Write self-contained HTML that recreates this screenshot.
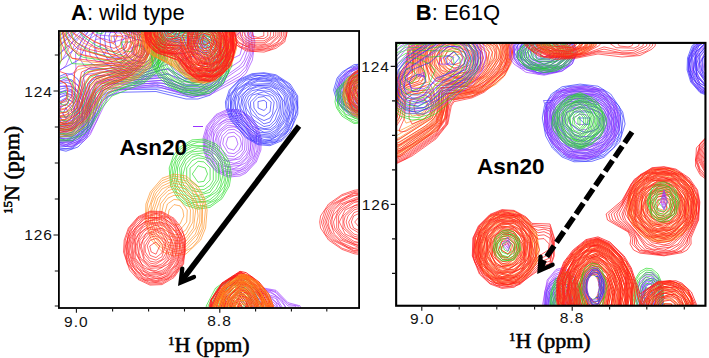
<!DOCTYPE html>
<html><head><meta charset="utf-8"><style>
html,body{margin:0;padding:0;background:#fff;}
body{width:709px;height:358px;overflow:hidden;}
svg{display:block;}
.s{font-family:"Liberation Sans",sans-serif;}
.f{font-family:"Liberation Serif",serif;}
</style></head><body>
<svg width="709" height="358" viewBox="0 0 709 358">
<defs>
<clipPath id="ca"><rect x="59.5" y="31.5" width="298.8" height="276"/></clipPath>
<clipPath id="cb"><rect x="397" y="43.5" width="308" height="261.5"/></clipPath>
</defs>
<g clip-path="url(#ca)" fill="none">
<path stroke="#2a2aff" stroke-width="0.65" d="M30.0 55.2 67.2 24.0 100.2 0.0 M131.7 0.0 153.9 18.0 173.6 30.0 204.0 34.3 217.8 42.0 223.3 48.0 228.5 60.0 228.5 72.0 223.3 84.0 210.0 95.2 198.0 99.0 186.0 99.0 156.0 91.5 120.0 92.3 108.2 96.0 101.4 102.0 86.6 138.0 78.0 147.0 66.0 151.2 54.0 148.5 30.0 127.9 M30.0 60.5 87.5 12.0 105.3 0.0 M127.9 0.0 169.6 30.0 204.0 36.4 216.0 43.1 222.0 49.9 226.5 60.0 226.5 72.0 220.8 84.0 210.0 93.1 192.0 97.5 156.0 89.4 120.0 89.4 108.0 92.1 102.0 96.0 98.2 102.0 93.5 120.0 85.1 138.0 72.0 148.8 60.0 149.3 54.0 147.0 30.0 123.8 M30.0 66.5 96.0 8.5 112.4 0.0 M121.7 0.0 132.0 4.2 148.7 18.0 174.0 34.2 204.0 38.4 216.0 45.8 222.0 54.0 225.0 66.0 218.1 84.0 204.0 93.6 192.0 95.4 162.0 87.9 108.0 88.0 102.0 90.9 96.0 99.0 92.1 120.0 83.6 138.0 72.0 147.6 66.0 148.7 60.0 148.1 48.0 140.8 30.0 119.1 M30.0 73.7 96.1 12.0 114.0 1.7 126.0 3.1 132.0 6.5 174.0 36.6 198.0 38.9 210.0 43.8 219.6 54.0 222.6 66.0 219.6 78.0 215.1 84.0 198.0 93.0 186.0 92.9 162.0 85.6 138.0 86.0 114.0 83.3 102.0 85.7 96.0 91.0 86.5 132.0 78.0 142.5 72.0 146.2 60.0 146.8 54.0 143.7 42.5 132.0 30.0 113.1 M30.0 84.3 38.6 72.0 78.0 37.5 99.8 12.0 114.0 4.1 120.0 3.8 132.0 8.8 174.0 39.1 198.0 41.3 210.0 46.6 216.8 54.0 220.2 66.0 216.8 78.0 211.7 84.0 198.0 90.6 186.0 90.5 162.0 83.1 138.0 83.8 108.0 79.5 96.0 83.4 92.5 90.0 88.0 126.0 78.0 141.0 66.0 146.2 54.0 142.3 44.0 132.0 30.0 103.5 M66.0 144.6 54.0 140.7 45.8 132.0 37.6 114.0 34.6 102.0 34.8 90.0 42.0 77.0 78.0 46.3 97.9 18.0 108.0 9.0 114.0 6.7 126.0 7.8 174.0 41.9 198.0 43.7 207.6 48.0 213.7 54.0 217.6 66.0 216.0 73.4 210.0 82.1 198.0 88.2 186.0 88.1 162.0 80.4 138.0 81.9 108.0 75.2 96.0 75.9 89.2 84.0 89.3 114.0 86.8 126.0 78.0 139.4 66.0 144.6Z M72.0 142.0 60.0 142.4 53.0 138.0 44.0 126.0 38.8 108.0 40.4 90.0 54.0 73.0 78.6 60.0 97.4 24.0 108.0 12.3 114.0 9.3 126.0 10.4 174.0 45.2 198.0 46.4 210.3 54.0 213.7 60.0 213.7 72.0 210.0 78.3 198.0 85.5 186.0 85.4 162.0 77.4 138.0 79.7 102.0 68.7 90.0 67.7 84.5 72.0 83.6 78.0 88.2 102.0 87.5 120.0 82.5 132.0 72.0 142.0Z M204.0 79.6 192.0 83.2 168.0 74.1 138.0 77.4 120.4 72.0 99.3 60.0 95.0 54.0 94.7 42.0 98.1 30.0 108.0 15.8 114.0 12.4 126.0 13.2 174.0 49.1 192.0 48.5 206.0 54.0 211.5 66.0 210.3 72.0 204.0 79.6Z M72.0 140.6 60.0 141.0 54.0 137.1 45.7 126.0 41.8 108.0 42.7 96.0 48.0 85.0 54.0 78.8 66.0 73.6 72.0 74.3 78.0 79.5 85.4 96.0 87.3 108.0 86.2 120.0 81.3 132.0 72.0 140.6Z M198.0 78.8 186.0 78.8 168.0 68.5 144.0 75.3 132.0 73.9 120.0 68.4 108.2 60.0 100.2 48.0 100.3 36.0 105.0 24.0 114.0 15.7 126.0 16.2 155.1 36.0 168.0 50.9 174.0 54.6 192.0 51.9 199.8 54.0 206.2 60.0 207.7 66.0 206.1 72.0 198.0 78.8Z M72.0 138.9 66.0 140.6 54.0 135.4 47.6 126.0 43.8 114.0 43.8 102.0 48.5 90.0 54.0 83.5 66.0 78.6 72.0 80.0 78.0 85.4 83.4 96.0 86.0 108.0 83.0 126.0 78.0 134.2 72.0 138.9Z M144.0 72.8 126.0 68.4 108.9 54.0 105.6 48.0 104.5 36.0 108.0 26.2 114.0 19.7 120.0 18.1 126.0 19.7 151.5 36.0 162.1 48.0 165.9 60.0 156.0 69.1 144.0 72.8Z M198.0 73.9 192.0 75.4 183.0 72.0 178.6 66.0 180.8 60.0 192.0 56.3 200.5 60.0 203.0 66.0 198.0 73.9Z M66.0 139.0 60.0 137.7 52.8 132.0 46.7 120.0 45.2 108.0 51.6 90.0 60.0 83.4 66.0 82.1 72.0 84.2 81.7 96.0 84.4 114.0 81.9 126.0 78.1 132.0 72.0 137.3 66.0 139.0Z M150.0 68.5 144.0 70.0 132.0 68.1 114.5 54.0 110.8 48.0 108.9 36.0 114.0 24.8 120.0 22.1 126.0 23.6 154.4 42.0 160.6 54.0 159.9 60.0 150.0 68.5Z M192.0 67.4 190.1 66.0 192.0 64.5 193.9 66.0 192.0 67.4Z M72.0 135.8 60.0 136.2 54.0 131.2 48.4 120.0 47.2 108.0 50.3 96.0 60.0 86.2 72.0 86.9 78.0 93.0 82.2 102.0 82.5 120.0 78.0 130.0 72.0 135.8Z M144.0 66.9 132.0 64.5 125.6 60.0 116.3 48.0 113.8 36.0 120.0 27.5 144.0 37.5 154.9 48.0 156.6 54.0 155.0 60.0 144.0 66.9Z M72.0 134.0 66.0 135.9 56.9 132.0 52.0 126.0 48.7 114.0 52.8 96.0 60.0 89.2 66.0 87.8 72.0 90.1 77.6 96.0 82.0 108.0 81.4 120.0 72.0 134.0Z M144.0 63.0 132.0 60.1 126.2 54.0 121.6 42.0 126.0 36.2 144.0 41.5 150.9 48.0 152.4 54.0 150.0 59.8 144.0 63.0Z M72.0 132.0 66.0 134.2 60.0 132.4 51.1 120.0 51.8 102.0 60.0 91.8 66.0 90.5 72.0 92.4 78.9 102.0 80.0 120.0 72.0 132.0Z M144.0 57.3 138.0 57.2 133.8 54.0 132.2 48.0 138.0 45.3 144.0 47.2 146.7 54.0 144.0 57.3Z M66.0 132.2 60.0 130.5 55.7 126.0 51.6 114.0 54.0 101.9 60.0 94.5 66.0 92.7 72.0 95.2 77.1 102.0 79.5 114.0 75.6 126.0 66.0 132.2Z M72.0 127.9 66.0 130.4 60.0 128.3 53.3 114.0 56.1 102.0 60.0 97.3 66.0 95.3 72.0 97.9 77.4 108.0 76.9 120.0 72.0 127.9Z M66.0 128.2 60.0 125.7 55.1 114.0 58.5 102.0 66.0 97.8 72.9 102.0 76.3 114.0 72.0 125.2 66.0 128.2Z M72.0 121.9 66.0 125.8 58.4 120.0 57.8 108.0 60.0 103.8 66.0 100.6 73.7 108.0 74.6 114.0 72.0 121.9Z M66.0 122.8 61.6 120.0 59.1 114.0 60.3 108.0 66.0 103.9 71.0 108.0 72.5 114.0 70.0 120.0 66.0 122.8Z M66.0 118.8 62.8 114.0 66.0 107.8 68.9 114.0 66.0 118.8Z"/>
<path stroke="#9933ff" stroke-width="0.65" d="M30.0 49.5 72.0 13.2 84.0 6.9 96.0 4.7 144.0 14.9 174.0 27.7 198.0 26.6 216.0 29.2 222.0 26.8 234.0 11.9 240.0 9.5 246.0 12.5 249.7 18.0 254.9 42.0 252.4 60.0 246.0 73.3 240.0 78.9 210.0 94.8 192.0 97.0 156.0 86.0 120.0 90.3 108.0 97.4 90.0 135.1 84.0 141.0 72.0 146.6 54.0 144.7 30.0 128.4 M30.0 53.9 72.0 16.3 84.0 9.4 96.0 7.0 144.0 16.4 174.0 29.7 198.0 28.3 216.0 31.3 222.0 29.8 234.0 14.7 240.0 12.3 247.6 18.0 253.2 36.0 252.3 54.0 246.0 70.0 240.0 76.1 210.0 93.1 198.0 95.4 186.0 94.4 156.0 84.0 114.9 90.0 108.0 94.3 102.5 102.0 97.1 120.0 90.7 132.0 84.0 139.1 72.0 145.0 54.0 143.1 30.0 125.2 M30.0 58.6 74.2 18.0 84.0 12.2 96.0 9.2 150.0 19.7 174.0 31.6 198.0 30.3 216.0 33.6 222.0 32.7 234.0 18.0 240.0 15.3 246.0 19.1 251.6 36.0 250.8 54.0 246.0 66.4 240.0 73.1 210.0 91.1 192.0 93.7 166.7 84.0 156.0 82.3 114.0 88.2 102.0 97.9 95.5 120.0 89.0 132.0 78.0 141.5 72.0 143.4 54.0 141.4 30.0 121.7 M30.0 64.0 78.0 18.5 96.0 11.8 144.0 19.3 174.0 33.8 198.0 31.9 216.0 36.1 222.0 36.0 234.0 21.5 240.0 18.6 246.0 23.1 250.1 36.0 249.1 54.0 243.3 66.0 210.0 89.1 192.0 91.9 162.0 80.4 120.0 83.9 108.0 88.5 100.5 96.0 91.4 126.0 84.0 135.5 72.0 142.0 54.0 139.5 43.3 132.0 30.0 117.6 M30.0 70.2 75.1 24.0 84.0 17.8 96.0 14.0 144.0 20.8 174.0 36.2 198.0 33.8 222.0 39.5 234.0 25.5 240.0 22.3 246.0 28.1 248.2 36.0 248.3 48.0 244.3 60.0 240.0 65.8 210.0 87.1 198.0 89.9 186.0 88.7 162.0 77.9 120.0 81.9 108.0 85.7 101.3 90.0 98.0 96.0 94.6 114.0 89.7 126.0 84.0 133.4 72.0 140.4 60.0 140.1 48.0 133.6 30.0 112.6 M30.0 78.3 78.0 25.1 96.0 16.6 144.0 22.5 174.0 38.7 198.0 36.0 222.0 43.5 228.0 40.4 234.0 30.3 240.0 26.7 246.1 36.0 246.0 49.0 240.0 61.1 228.0 68.7 216.0 80.9 204.0 87.1 186.0 86.6 162.0 75.4 138.0 79.4 120.0 79.6 105.4 84.0 96.0 93.5 93.1 114.0 88.1 126.0 78.0 136.2 72.0 138.5 60.0 138.1 49.0 132.0 38.2 120.0 30.0 105.6 M78.0 134.3 72.0 136.8 60.0 136.5 48.0 128.6 35.0 108.0 31.4 90.0 36.3 78.0 60.0 54.2 72.1 36.0 84.0 23.9 90.0 20.7 102.0 19.0 138.0 23.2 150.0 26.3 168.0 39.8 174.0 41.7 198.0 38.0 228.0 49.7 234.0 37.2 240.0 32.3 243.5 42.0 240.0 54.9 228.0 60.8 216.0 77.8 204.0 84.8 186.0 84.2 168.0 73.6 162.0 72.6 144.0 77.0 115.2 78.0 99.2 84.0 94.2 90.0 89.4 120.0 78.0 134.3Z M78.0 132.1 72.0 135.1 60.0 134.6 48.3 126.0 38.3 108.0 36.8 90.0 42.8 78.0 62.1 60.0 75.7 36.0 89.5 24.0 102.0 21.5 144.0 25.9 156.0 32.1 168.0 43.5 174.0 45.3 198.0 40.3 210.0 44.3 220.8 54.0 222.1 60.0 217.8 72.0 204.0 82.3 186.0 81.8 168.0 69.6 162.0 69.4 144.0 75.2 114.0 75.8 96.0 82.1 90.8 90.0 90.6 108.0 87.8 120.0 78.0 132.1Z M72.0 133.1 60.0 132.4 50.9 126.0 43.4 114.0 40.5 96.0 44.6 84.0 66.0 65.5 75.7 42.0 90.0 26.7 102.0 24.3 144.0 27.8 157.7 36.0 168.0 48.7 174.0 50.0 186.0 44.5 198.0 42.9 210.0 47.5 216.0 54.0 218.2 60.0 214.1 72.0 207.1 78.0 198.0 81.0 184.2 78.0 168.0 63.9 144.0 73.1 114.0 73.0 90.0 80.7 87.7 84.0 88.9 108.0 86.0 120.0 78.0 130.0 72.0 133.1Z M78.0 127.7 66.0 131.7 54.0 126.1 46.0 114.0 43.8 102.0 46.4 90.0 54.0 80.3 76.0 72.0 75.6 54.0 83.3 36.0 90.0 30.2 102.0 27.1 120.0 30.0 138.0 28.8 154.6 36.0 160.0 42.0 165.2 54.0 162.5 60.0 155.6 66.0 144.0 71.0 114.0 70.1 84.0 75.0 80.2 78.0 86.1 96.0 87.2 108.0 83.9 120.0 78.0 127.7Z M198.0 78.2 192.0 77.9 181.0 72.0 174.6 60.0 176.7 54.0 192.0 45.9 205.0 48.0 212.0 54.0 214.2 60.0 210.1 72.0 198.0 78.2Z M150.0 66.4 138.0 69.5 120.0 66.4 102.0 69.9 90.0 69.4 84.4 66.0 80.7 60.0 80.8 48.0 87.7 36.0 96.0 31.0 120.0 33.1 144.0 32.1 151.3 36.0 159.9 48.0 158.0 60.0 150.0 66.4Z M204.0 72.7 192.0 74.5 186.0 71.6 181.3 66.0 180.2 60.0 183.3 54.0 192.0 49.4 198.0 49.2 207.1 54.0 210.2 60.0 209.6 66.0 204.0 72.7Z M72.0 128.8 66.0 129.6 57.3 126.0 51.6 120.0 47.2 108.0 51.0 90.0 60.0 82.0 66.0 80.4 72.0 81.2 78.0 85.6 84.8 102.0 81.8 120.0 72.0 128.8Z M144.0 66.2 132.0 66.3 120.0 62.7 95.4 66.0 86.4 60.0 84.9 48.0 90.0 38.8 96.0 34.8 120.0 36.8 132.0 33.8 144.0 34.5 153.8 42.0 156.8 54.0 153.9 60.0 144.0 66.2Z M204.0 66.7 198.0 70.4 192.0 69.9 186.9 66.0 185.7 60.0 191.3 54.0 198.0 53.3 205.3 60.0 204.0 66.7Z M72.0 126.3 60.0 125.1 54.0 119.2 49.9 108.0 54.0 92.4 60.0 86.9 66.0 85.3 72.0 86.4 78.0 91.5 82.5 102.0 82.1 114.0 78.0 121.8 72.0 126.3Z M144.0 63.3 132.0 63.2 120.0 57.5 114.0 57.1 102.0 61.7 96.0 61.3 90.0 55.5 89.3 48.0 96.0 39.5 102.0 38.2 114.0 41.8 132.0 36.8 144.0 37.3 150.4 42.0 153.5 48.0 153.4 54.0 150.0 59.6 144.0 63.3Z M72.0 123.5 66.0 124.5 60.0 122.0 54.1 114.0 52.8 108.0 55.9 96.0 66.0 89.7 72.0 91.0 80.0 102.0 79.8 114.0 72.0 123.5Z M138.0 61.1 132.0 59.6 124.7 54.0 123.3 48.0 128.9 42.0 138.0 39.3 145.8 42.0 150.0 48.0 149.6 54.0 144.0 60.0 138.0 61.1Z M102.0 55.4 96.8 54.0 95.6 48.0 102.0 44.8 107.2 48.0 104.9 54.0 102.0 55.4Z M72.0 120.3 66.0 121.5 60.0 118.0 55.9 108.0 60.0 97.0 66.0 93.9 72.0 95.5 76.9 102.0 77.0 114.0 72.0 120.3Z M144.0 54.8 138.0 56.7 132.0 54.0 130.9 48.0 138.0 43.5 144.0 46.1 144.0 54.8Z M72.0 115.7 66.0 117.5 60.0 110.2 61.7 102.0 66.0 98.9 72.8 102.0 74.7 108.0 72.0 115.7Z M66.0 109.2 66.0 107.1 66.0 109.2Z"/>
<path stroke="#1fdc1f" stroke-width="0.65" d="M30.0 42.5 36.0 34.4 49.8 0.0 M140.2 0.0 161.3 30.0 165.5 42.0 164.1 60.0 157.5 72.0 144.0 82.9 112.0 96.0 102.0 107.8 90.0 128.0 84.0 134.2 72.0 140.8 54.0 140.9 30.0 128.3 M30.0 46.4 37.4 36.0 51.4 0.0 M138.3 0.0 160.0 30.0 164.2 42.0 164.2 54.0 155.6 72.0 144.0 81.4 118.3 90.0 108.2 96.0 89.4 126.0 78.0 136.2 66.0 140.0 54.0 138.8 30.0 125.5 M30.0 50.5 39.9 36.0 53.3 0.0 M136.8 0.0 143.3 12.0 158.5 30.0 162.6 42.0 161.2 60.0 153.9 72.0 144.0 79.7 108.0 93.3 102.0 99.8 87.2 126.0 72.0 136.7 54.0 136.8 30.0 122.7 M30.0 55.0 42.0 37.7 55.1 0.0 M135.1 0.0 141.4 12.0 156.7 30.0 161.3 42.0 159.8 60.0 151.9 72.0 138.0 80.9 107.9 90.0 101.7 96.0 84.7 126.0 72.0 134.7 54.0 134.7 30.0 119.4 M30.0 59.7 42.0 44.0 56.9 0.0 M133.1 0.0 139.1 12.0 155.1 30.0 160.0 42.0 158.3 60.0 150.0 71.7 138.0 79.0 114.0 84.6 103.7 90.0 87.1 120.0 72.0 132.3 66.0 133.8 54.0 132.2 42.2 126.0 30.0 115.7 M30.0 65.1 43.2 48.0 51.1 18.0 59.0 0.0 M131.2 0.0 136.9 12.0 153.4 30.0 158.5 42.0 158.5 54.0 150.0 69.6 138.0 77.2 108.0 83.9 102.0 87.7 96.0 95.2 84.5 120.0 72.0 130.1 54.0 129.9 42.0 122.8 30.0 111.4 M30.0 71.4 46.6 48.0 53.1 18.0 61.3 0.0 M129.3 0.0 134.6 12.0 151.5 30.0 156.8 42.0 156.8 54.0 150.0 67.3 138.0 75.5 101.5 84.0 95.6 90.0 84.0 116.9 72.0 127.6 66.0 129.2 54.0 127.3 42.7 120.0 30.0 105.9 M30.0 81.0 48.0 54.0 55.1 18.0 63.7 0.0 M127.1 0.0 132.0 12.0 153.2 36.0 155.1 54.0 148.8 66.0 138.0 73.6 108.0 77.9 96.0 83.8 83.1 114.0 78.0 120.6 66.0 126.5 54.0 124.4 47.1 120.0 35.8 108.0 30.0 97.4 M124.9 0.0 132.0 15.4 151.3 36.0 154.2 48.0 151.0 60.0 138.0 71.5 108.0 75.0 96.0 78.8 90.0 85.1 80.3 114.0 72.0 121.8 66.0 123.7 54.0 121.2 45.0 114.0 36.7 102.0 33.4 90.0 36.6 78.0 52.1 54.0 57.1 18.0 66.4 0.0 M122.6 0.0 131.1 18.0 149.1 36.0 152.4 48.0 148.9 60.0 143.5 66.0 132.0 71.2 102.0 72.4 90.0 77.3 85.5 84.0 80.4 108.0 72.0 118.4 66.0 120.6 59.4 120.0 49.7 114.0 41.5 102.0 38.7 90.0 42.6 78.0 55.0 60.0 57.9 24.0 61.8 12.0 69.5 0.0 M119.9 0.0 127.8 18.0 146.9 36.0 150.3 48.0 146.5 60.0 138.0 67.1 132.0 69.1 102.0 68.5 86.7 72.0 80.9 78.0 76.9 108.0 72.0 114.3 66.0 117.0 60.0 116.5 49.5 108.0 44.5 90.0 48.0 80.4 59.2 66.0 61.3 60.0 60.4 24.0 64.6 12.0 72.9 0.0 M117.1 0.0 124.2 18.0 144.0 35.5 147.4 42.0 147.2 54.0 144.0 59.6 132.0 66.6 72.0 63.6 66.0 50.2 62.6 30.0 66.0 15.5 76.9 0.0 M72.0 108.7 66.0 112.5 60.0 111.7 51.7 102.0 51.2 90.0 60.0 78.7 66.0 77.0 72.0 81.9 75.5 96.0 72.0 108.7Z M113.9 0.0 120.4 18.0 125.1 24.0 138.0 32.7 144.9 42.0 144.0 55.1 138.0 61.7 132.0 64.0 84.0 57.5 78.0 55.1 72.0 48.9 66.7 36.0 66.4 24.0 81.3 0.0 M66.0 105.6 60.0 103.5 58.5 96.0 60.0 92.7 66.0 91.4 68.7 102.0 66.0 105.6Z M109.8 0.0 119.6 24.0 137.5 36.0 141.9 42.0 141.5 54.0 132.0 61.0 120.2 60.0 90.0 51.6 75.8 42.0 72.0 36.0 71.0 24.0 86.6 0.0 M103.4 0.0 117.8 30.0 132.0 36.3 138.4 42.0 139.8 48.0 138.0 53.4 132.0 57.3 126.0 57.4 96.0 45.4 82.4 36.0 79.3 30.0 79.2 24.0 94.1 0.0 M102.0 33.8 96.0 32.6 91.1 24.0 96.0 9.8 102.0 10.3 104.4 18.0 105.1 30.0 102.0 33.8Z M132.0 51.7 126.0 51.3 121.4 48.0 121.4 42.0 132.1 42.0 134.7 48.0 132.0 51.7Z"/>
<path stroke="#ff8c1a" stroke-width="0.65" d="M30.0 37.3 36.0 30.0 48.7 0.0 M137.3 0.0 152.7 24.0 157.1 36.0 156.6 54.0 150.0 67.4 138.0 77.9 108.0 92.8 85.6 126.0 72.0 135.6 54.0 137.0 30.0 126.2 M30.0 40.8 38.0 30.0 50.0 0.0 M136.0 0.0 151.2 24.0 155.8 36.0 155.4 54.0 149.6 66.0 138.0 76.7 107.9 90.0 101.8 96.0 88.4 120.0 72.0 133.7 54.0 135.1 30.0 123.9 M30.0 44.3 42.0 26.7 51.5 0.0 M134.5 0.0 154.8 36.0 154.4 54.0 148.2 66.0 138.0 75.3 104.7 90.0 86.3 120.0 72.0 131.5 54.0 133.1 30.0 121.3 M30.0 48.1 42.0 32.0 53.2 0.0 M132.8 0.0 148.5 24.0 153.7 36.0 153.2 54.0 146.7 66.0 132.0 76.9 110.4 84.0 102.0 89.3 84.0 119.8 72.0 129.5 54.0 131.0 30.0 118.5 M30.0 52.1 42.0 37.4 54.8 0.0 M131.2 0.0 152.5 36.0 151.9 54.0 144.8 66.0 132.0 75.5 102.0 86.3 96.0 92.9 84.0 116.7 72.0 127.2 66.0 129.3 54.0 128.9 30.0 115.4 M30.0 56.4 42.4 42.0 56.3 0.0 M129.7 0.0 151.0 36.0 151.9 48.0 144.0 64.9 132.0 73.8 100.7 84.0 94.9 90.0 83.5 114.0 72.0 124.8 66.0 127.0 54.0 126.4 30.0 111.9 M30.0 61.3 45.4 42.0 58.1 0.0 M128.0 0.0 149.6 36.0 150.3 48.0 144.0 62.8 132.0 72.0 108.0 78.0 96.1 84.0 81.0 114.0 72.0 122.3 66.0 124.6 54.0 124.0 42.0 117.9 30.0 108.0 M30.0 67.0 48.0 43.8 53.0 18.0 60.1 0.0 M126.0 0.0 148.3 36.0 147.6 54.0 138.9 66.0 126.0 72.6 96.0 80.4 90.0 87.1 78.1 114.0 66.0 122.0 60.0 122.6 48.0 118.6 30.0 103.0 M30.0 74.8 49.8 48.0 54.8 18.0 62.0 0.0 M124.4 0.0 129.8 12.0 140.3 24.0 146.9 36.0 146.1 54.0 138.0 64.8 126.0 71.0 93.4 78.0 87.9 84.0 78.0 110.0 66.0 119.2 60.0 119.7 48.0 115.2 30.0 96.2 M122.5 0.0 127.5 12.0 145.2 36.0 146.2 48.0 144.2 54.0 138.0 62.8 126.0 69.3 99.8 72.0 90.0 75.7 84.0 83.1 76.1 108.0 70.0 114.0 60.0 116.7 48.0 111.3 38.9 102.0 32.7 90.0 32.3 84.0 37.1 72.0 51.5 54.0 56.5 18.0 64.1 0.0 M120.3 0.0 125.1 12.0 138.0 26.3 143.5 36.0 144.7 42.0 142.6 54.0 138.0 60.4 126.0 67.4 96.0 69.5 84.0 74.1 80.9 78.0 77.6 96.0 72.3 108.0 66.0 112.5 60.0 113.1 54.0 111.1 44.2 102.0 38.5 90.0 38.2 84.0 42.0 74.5 56.6 54.0 58.5 18.0 66.5 0.0 M118.2 0.0 122.7 12.0 141.8 36.0 142.8 48.0 140.7 54.0 132.0 63.0 126.0 65.4 92.0 66.0 78.0 69.7 75.0 72.0 73.7 78.0 71.9 102.0 66.0 108.2 60.0 108.9 50.0 102.0 46.5 96.0 45.1 84.0 48.0 77.0 61.8 60.0 59.7 24.0 62.4 12.0 69.0 0.0 M115.8 0.0 120.0 12.2 136.4 30.0 141.4 42.0 138.0 54.7 132.0 60.7 120.0 64.4 84.0 61.5 72.0 58.3 64.2 42.0 61.9 24.0 64.8 12.0 71.9 0.0 M60.0 102.9 53.6 96.0 52.8 90.0 55.3 84.0 60.0 80.8 66.0 83.8 68.3 96.0 66.0 101.8 60.0 102.9Z M113.1 0.0 120.0 16.9 133.9 30.0 139.4 42.0 136.1 54.0 126.0 61.2 114.0 61.8 84.0 55.8 72.0 48.2 66.0 36.0 64.4 24.0 67.6 12.0 75.1 0.0 M110.1 0.0 117.1 18.0 132.0 31.3 137.1 42.0 133.3 54.0 126.0 58.7 114.0 58.9 90.0 52.0 80.4 48.0 73.8 42.0 67.4 24.0 70.9 12.0 78.9 0.0 M106.4 0.0 114.0 19.7 132.6 36.0 134.0 48.0 126.0 55.9 120.0 56.8 109.0 54.0 84.0 43.3 75.8 36.0 72.0 29.4 72.0 18.0 83.4 0.0 M101.0 0.0 111.1 24.0 126.0 33.4 131.8 42.0 130.6 48.0 126.0 52.4 114.0 51.7 85.4 36.0 79.4 30.0 77.1 24.0 77.9 18.0 89.7 0.0 M96.0 30.1 88.6 24.0 87.8 18.0 90.0 11.5 96.0 6.6 102.0 24.0 96.0 30.1Z M120.0 48.9 111.1 42.0 111.4 36.0 120.0 35.4 126.0 39.3 126.0 47.5 120.0 48.9Z"/>
<path stroke="#ff1a1a" stroke-width="0.65" d="M30.0 31.3 44.7 0.0 M136.0 0.0 148.2 24.0 151.1 36.0 148.9 54.0 141.8 66.0 132.0 74.7 103.5 90.0 84.8 120.0 72.0 130.4 54.0 132.9 30.0 123.5 M276.0 48.3 264.0 52.1 246.0 50.9 231.3 42.0 228.3 30.0 234.0 21.5 246.0 15.1 258.0 13.5 270.0 15.1 282.0 21.5 287.7 30.0 284.7 42.0 276.0 48.3Z M30.0 34.9 36.0 26.1 46.2 0.0 M134.7 0.0 147.1 24.0 149.8 36.0 147.8 54.0 140.2 66.0 126.0 76.6 102.0 88.7 84.0 118.7 72.0 128.8 54.0 131.2 30.0 121.1 M270.0 49.8 252.0 51.2 240.0 47.2 233.1 42.0 229.6 36.0 229.6 30.0 233.1 24.0 240.0 18.8 252.0 14.8 264.0 14.8 276.0 18.8 282.9 24.0 286.4 30.0 286.4 36.0 282.0 42.9 270.0 49.8Z M30.0 38.6 36.0 30.6 47.9 0.0 M133.3 0.0 145.7 24.0 148.9 36.0 146.5 54.0 138.3 66.0 126.0 75.2 102.0 86.2 96.0 92.8 85.7 114.0 72.0 126.8 54.0 129.6 30.0 118.7 M270.0 48.5 252.0 50.2 240.0 46.0 231.0 36.0 231.0 30.0 240.0 20.0 252.0 15.8 264.0 15.8 276.0 20.0 285.0 30.0 285.0 36.0 281.2 42.0 270.0 48.5Z M30.0 42.5 38.3 30.0 49.1 0.0 M131.7 0.0 144.2 24.0 147.9 36.0 147.2 48.0 138.0 64.6 126.0 73.6 101.2 84.0 95.4 90.0 83.7 114.0 72.0 125.0 54.0 127.8 30.0 116.1 M264.0 49.0 252.0 49.0 236.6 42.0 232.7 36.0 232.7 30.0 236.6 24.0 246.0 18.6 258.0 16.5 270.0 18.6 279.4 24.0 283.3 30.0 283.3 36.0 276.0 44.6 264.0 49.0Z M30.0 46.6 40.7 30.0 50.5 0.0 M130.6 0.0 143.1 24.0 146.6 36.0 145.8 48.0 138.0 62.7 126.0 71.8 97.6 84.0 81.9 114.0 72.0 123.2 54.0 125.7 30.0 113.1 M258.0 48.2 246.0 46.3 238.6 42.0 234.5 36.0 234.5 30.0 240.0 22.9 258.0 17.8 270.0 19.7 277.4 24.0 281.5 30.0 281.5 36.0 277.4 42.0 270.0 46.3 258.0 48.2Z M30.0 51.0 41.0 36.0 52.0 0.0 M129.2 0.0 141.8 24.0 145.2 36.0 144.3 48.0 138.0 60.6 126.0 70.4 96.0 82.3 90.5 90.0 83.5 108.0 72.0 121.0 66.0 123.7 54.0 123.9 30.0 109.9 M270.0 45.0 258.0 47.2 246.0 45.0 236.1 36.0 236.1 30.0 240.9 24.0 252.0 19.3 270.0 21.0 279.9 30.0 279.9 36.0 270.0 45.0Z M30.0 55.8 42.0 40.8 53.8 0.0 M127.6 0.0 140.4 24.0 143.8 36.0 143.1 48.0 136.8 60.0 126.0 68.8 96.0 79.0 90.0 85.5 78.0 113.3 66.0 121.7 60.0 122.6 48.0 119.5 30.0 106.2 M270.0 43.6 258.0 46.1 246.0 43.6 238.0 36.0 238.0 30.0 243.4 24.0 252.0 20.4 270.0 22.4 278.0 30.0 278.0 36.0 270.0 43.6Z M30.0 61.3 44.5 42.0 50.3 12.0 55.3 0.0 M125.9 0.0 138.7 24.0 142.6 36.0 141.8 48.0 135.0 60.0 120.0 69.8 92.5 78.0 87.9 84.0 79.6 108.0 72.0 116.5 66.0 119.4 60.0 120.4 48.0 117.2 30.0 101.8 M264.0 44.2 252.0 44.2 246.0 41.8 240.2 36.0 240.2 30.0 252.0 21.8 264.0 21.8 270.0 24.2 275.8 30.0 275.8 36.0 264.0 44.2Z M30.0 68.2 45.8 48.0 50.4 18.0 57.0 0.0 M124.5 0.0 141.3 36.0 140.3 48.0 132.8 60.0 120.0 68.0 90.0 75.9 84.8 84.0 77.2 108.0 66.0 117.2 54.0 117.3 48.0 114.4 30.0 95.9 M264.0 42.7 252.0 42.7 246.0 39.6 242.4 36.0 242.4 30.0 250.3 24.0 258.0 22.6 270.0 26.4 273.6 30.0 273.6 36.0 264.0 42.7Z M122.9 0.0 139.8 36.0 135.8 54.0 126.0 63.5 120.0 66.0 89.4 72.0 83.3 78.0 80.0 96.0 74.6 108.0 66.0 114.7 60.0 115.8 54.0 114.7 43.8 108.0 34.6 96.0 30.3 84.0 33.1 72.0 50.0 48.0 52.1 18.0 58.9 0.0 M270.0 37.1 264.0 40.8 252.0 40.8 244.9 36.0 244.9 30.0 252.0 25.2 264.0 25.2 271.1 30.0 270.0 37.1Z M121.1 0.0 136.7 30.0 138.2 42.0 133.9 54.0 120.0 64.4 90.0 68.2 81.5 72.0 75.5 102.0 66.0 111.9 60.0 113.1 48.0 108.0 42.6 102.0 35.7 84.0 39.1 72.0 53.0 54.0 54.1 18.0 60.9 0.0 M264.0 38.5 252.0 38.5 248.2 36.0 248.2 30.0 258.0 26.2 264.0 27.5 267.8 30.0 267.8 36.0 264.0 38.5Z M119.2 0.0 135.0 30.0 135.3 48.0 131.7 54.0 120.0 62.5 78.0 66.2 74.1 72.0 75.6 90.0 72.7 102.0 66.0 108.8 60.0 110.2 54.0 108.5 46.6 102.0 41.0 84.0 45.9 72.0 57.9 60.0 59.2 54.0 55.2 24.0 57.2 12.0 63.0 0.0 M258.0 37.5 252.2 36.0 252.2 30.0 263.8 30.0 263.8 36.0 258.0 37.5Z M117.4 0.0 121.8 12.0 133.1 30.0 135.0 42.0 132.0 50.3 126.0 57.1 108.0 62.5 72.0 58.2 66.0 53.2 60.0 39.9 57.2 24.0 59.3 12.0 65.4 0.0 M66.0 104.9 60.0 106.6 54.0 104.4 47.6 96.0 46.2 90.0 49.5 78.0 60.0 71.6 66.0 73.7 72.0 87.1 71.8 96.0 66.0 104.9Z M115.3 0.0 119.4 12.0 131.0 30.0 133.0 42.0 126.0 54.6 120.0 58.2 108.0 59.9 78.0 53.9 66.0 44.4 59.5 24.0 61.5 12.0 68.0 0.0 M60.0 102.3 54.0 98.0 51.7 90.0 54.0 83.4 60.0 80.5 66.0 84.1 68.0 90.0 66.0 99.1 60.0 102.3Z M113.0 0.0 117.0 12.0 128.8 30.0 130.9 42.0 128.8 48.0 122.9 54.0 108.0 57.6 78.0 48.8 66.0 37.3 62.9 30.0 62.2 18.0 70.8 0.0 M110.6 0.0 114.2 12.0 128.6 36.0 126.1 48.0 114.0 54.8 90.0 49.6 78.0 43.5 69.8 36.0 66.0 29.5 64.8 18.0 74.1 0.0 M107.8 0.0 114.0 18.0 126.0 36.0 126.0 42.0 122.3 48.0 114.0 51.8 96.0 47.8 72.0 32.1 68.3 24.0 68.3 18.0 77.8 0.0 M104.4 0.0 110.0 18.0 122.6 36.0 120.0 45.6 114.0 48.4 94.6 42.0 78.0 30.6 73.3 24.0 72.7 18.0 82.0 0.0 M99.5 0.0 107.6 24.0 117.4 36.0 114.0 43.2 106.9 42.0 96.7 36.0 82.1 24.0 80.3 18.0 81.5 12.0 87.8 0.0 M96.0 17.2 93.2 12.0 96.0 10.2 96.0 17.2Z"/>
<path stroke="#1fdc1f" stroke-width="0.65" d="M210.0 93.1 198.0 95.5 186.0 94.6 168.0 85.9 159.5 78.0 152.5 66.0 151.3 54.0 155.4 42.0 162.0 34.1 174.0 26.9 192.0 23.6 210.0 26.7 222.8 36.0 230.3 48.0 231.9 66.0 222.7 84.0 210.0 93.1Z M210.0 91.6 198.0 94.5 180.0 91.3 167.8 84.0 156.8 72.0 152.5 60.0 153.8 48.0 156.9 42.0 168.0 31.3 186.0 25.1 204.0 25.9 216.0 31.6 226.0 42.0 230.7 54.0 228.8 72.0 221.0 84.0 210.0 91.6Z M204.0 92.4 192.0 93.2 180.0 89.8 168.0 82.7 158.2 72.0 153.9 54.0 158.4 42.0 168.0 32.8 180.0 27.5 198.0 26.0 216.0 33.1 224.5 42.0 229.9 60.0 227.4 72.0 219.2 84.0 204.0 92.4Z M204.0 90.8 192.0 91.8 180.0 88.6 168.0 81.1 159.8 72.0 155.5 54.0 160.1 42.0 168.0 34.4 186.0 27.5 198.0 27.3 210.0 31.0 222.7 42.0 227.7 54.0 226.2 72.0 216.0 85.0 204.0 90.8Z M198.0 90.4 186.0 89.2 174.0 83.7 166.7 78.0 158.3 66.0 158.4 48.0 162.1 42.0 174.0 32.5 192.0 28.4 204.0 30.2 216.0 36.6 224.7 48.0 226.6 66.0 221.0 78.0 210.0 87.4 198.0 90.4Z M210.0 85.7 198.0 89.1 186.0 87.9 168.8 78.0 163.3 72.0 158.3 60.0 160.0 48.0 163.9 42.0 174.0 34.2 192.0 30.1 204.0 31.4 216.0 38.4 225.2 54.0 225.2 66.0 219.3 78.0 210.0 85.7Z M204.0 86.7 186.0 86.5 174.0 80.5 165.1 72.0 159.9 60.0 159.9 54.0 168.0 40.0 180.0 33.3 192.0 31.3 204.0 32.9 217.5 42.0 223.6 54.0 223.6 66.0 217.4 78.0 204.0 86.7Z M204.0 85.0 186.0 84.8 174.0 78.5 167.2 72.0 163.5 66.0 161.8 54.0 163.7 48.0 174.0 37.7 186.0 33.3 198.0 33.0 210.0 37.5 219.8 48.0 222.7 60.0 219.8 72.0 215.2 78.0 204.0 85.0Z M198.0 84.5 180.0 80.7 165.3 66.0 163.5 54.0 165.6 48.0 170.8 42.0 180.0 36.7 192.0 34.3 204.0 36.3 213.2 42.0 220.4 54.0 220.4 66.0 216.0 74.6 210.0 80.4 198.0 84.5Z M210.0 78.3 198.0 82.9 186.0 81.5 179.0 78.0 167.4 66.0 165.4 54.0 167.9 48.0 174.0 41.8 186.0 36.7 198.0 36.4 210.0 41.5 215.9 48.0 219.5 60.0 215.8 72.0 210.0 78.3Z M204.0 79.7 198.0 81.2 186.0 79.6 174.0 71.7 167.4 60.0 167.6 54.0 174.0 44.2 186.0 38.5 198.0 38.1 207.6 42.0 213.9 48.0 217.7 60.0 216.7 66.0 213.7 72.0 204.0 79.7Z M198.0 79.3 186.0 77.5 171.9 66.0 169.8 54.0 173.0 48.0 180.0 42.8 198.0 39.9 210.0 46.3 214.8 54.0 214.7 66.0 211.3 72.0 198.0 79.3Z M204.0 75.3 192.0 77.1 180.0 71.7 172.1 60.0 172.3 54.0 176.3 48.0 192.0 41.7 204.0 44.3 208.8 48.0 213.7 60.0 210.0 70.1 204.0 75.3Z M204.0 72.7 192.0 74.9 180.0 68.4 174.9 60.0 175.4 54.0 180.0 48.2 192.0 43.9 205.5 48.0 210.1 54.0 211.4 60.0 210.0 66.0 204.0 72.7Z M198.0 72.4 186.0 69.8 178.2 60.0 179.0 54.0 186.0 48.0 198.0 46.9 207.2 54.0 208.7 60.0 207.0 66.0 198.0 72.4Z M198.0 69.2 185.8 66.0 182.3 60.0 186.0 52.1 198.0 50.2 203.7 54.0 205.6 60.0 204.0 64.8 198.0 69.2Z M198.0 64.8 192.0 64.7 187.9 60.0 191.5 54.0 198.0 54.3 201.2 60.0 198.0 64.8Z"/>
<path stroke="#ff8c1a" stroke-width="0.75" d="M216.0 80.5 204.0 83.3 192.0 81.5 172.1 66.0 150.2 54.0 145.2 48.0 141.5 36.0 142.0 30.0 148.0 18.0 156.0 11.9 168.0 8.2 204.0 6.6 216.0 9.5 222.0 13.5 231.1 24.0 235.5 36.0 236.6 48.0 231.1 66.0 216.0 80.5Z M216.0 79.3 204.0 82.6 192.0 80.5 174.0 66.0 151.4 54.0 146.1 48.0 142.5 36.0 145.1 24.0 149.4 18.0 162.0 10.1 198.0 7.5 210.0 8.1 222.0 14.6 232.9 30.0 235.6 48.0 230.0 66.0 216.0 79.3Z M210.0 80.9 198.0 81.4 192.0 79.3 174.0 65.0 156.0 56.5 150.0 51.3 143.8 36.0 146.1 24.0 150.7 18.0 156.0 13.7 168.0 10.2 186.0 10.9 204.0 8.1 210.0 9.1 224.3 18.0 232.2 30.0 234.5 42.0 233.6 54.0 224.3 72.0 210.0 80.9Z M210.0 79.8 198.0 80.4 192.0 78.0 174.0 63.9 156.0 55.2 150.0 49.8 144.6 36.0 147.2 24.0 152.1 18.0 162.0 12.4 186.0 12.2 204.0 9.0 216.0 12.8 222.9 18.0 233.0 36.0 233.0 54.0 222.9 72.0 210.0 79.8Z M210.0 78.5 204.0 79.8 192.0 77.2 174.0 62.6 156.0 53.8 150.0 48.0 146.5 42.0 146.0 30.0 153.6 18.0 162.0 13.3 186.0 13.0 204.0 10.1 216.0 13.7 222.0 18.4 232.3 36.0 232.3 54.0 222.0 71.6 210.0 78.5Z M204.0 78.5 192.0 76.3 174.0 61.1 162.0 56.1 151.2 48.0 147.7 42.0 147.0 30.0 156.0 17.5 168.0 13.3 186.0 13.9 204.0 11.4 216.0 14.7 225.9 24.0 232.4 42.0 229.2 60.0 216.0 75.3 204.0 78.5Z M216.0 74.1 204.0 77.5 192.0 75.3 174.0 59.6 156.0 51.4 149.0 42.0 147.6 36.0 151.1 24.0 157.4 18.0 168.0 14.3 186.0 15.0 204.0 12.4 216.0 15.9 224.8 24.0 231.6 42.0 227.9 60.0 216.0 74.1Z M216.0 72.7 204.0 76.7 192.0 74.2 174.0 58.4 156.0 49.9 148.9 36.0 152.4 24.0 162.0 16.8 168.0 15.4 186.0 16.3 204.0 13.2 216.0 17.2 227.2 30.0 230.7 42.0 227.2 60.0 216.0 72.7Z M210.0 74.7 198.0 75.3 192.0 72.8 174.0 56.9 156.0 48.2 150.3 36.0 154.0 24.0 168.0 16.8 186.0 17.8 204.0 14.1 216.0 18.5 226.3 30.0 229.6 48.0 226.3 60.0 222.0 66.0 210.0 74.7Z M210.0 73.5 198.0 74.1 192.0 71.6 174.0 55.3 157.8 48.0 152.9 42.0 151.4 36.0 155.7 24.0 168.0 18.2 186.0 19.0 198.0 15.5 210.0 16.5 216.0 19.5 225.3 30.0 228.4 48.0 222.0 64.6 210.0 73.5Z M204.0 73.5 192.0 70.5 174.0 53.5 162.0 49.4 156.0 44.2 152.7 36.0 153.5 30.0 157.7 24.0 168.0 19.4 186.0 20.3 204.0 16.4 219.5 24.0 226.6 36.0 226.6 54.0 216.0 69.2 204.0 73.5Z M204.0 72.0 192.0 69.3 174.0 51.9 162.0 47.6 156.2 42.0 154.2 36.0 155.2 30.0 160.0 24.0 168.0 20.8 180.0 22.4 204.0 17.9 217.9 24.0 225.6 36.0 225.6 54.0 216.0 67.8 204.0 72.0Z M216.0 66.1 204.0 71.1 192.0 67.9 174.0 50.0 162.0 45.8 158.1 42.0 155.9 36.0 157.0 30.0 162.0 24.4 168.0 22.4 180.0 24.2 198.0 19.2 210.0 20.1 221.4 30.0 225.8 42.0 224.5 54.0 216.0 66.1Z M210.0 68.6 198.0 69.3 192.0 66.3 174.2 48.0 162.0 43.7 157.7 36.0 159.0 30.0 168.0 24.3 180.0 26.2 198.0 20.4 210.0 21.3 216.0 25.3 223.2 36.0 224.7 48.0 220.2 60.0 210.0 68.6Z M210.0 67.1 198.0 68.0 192.0 64.9 180.0 49.7 162.0 40.6 159.8 36.0 161.3 30.0 168.0 26.3 180.0 28.6 204.0 21.2 216.0 26.9 221.8 36.0 223.4 48.0 218.8 60.0 210.0 67.1Z M204.0 67.2 192.0 63.4 180.0 45.8 168.0 42.0 162.2 36.0 165.6 30.0 168.0 28.8 180.0 32.0 192.0 25.5 204.0 22.7 216.0 28.7 222.0 42.0 220.7 54.0 216.0 61.3 204.0 67.2Z M210.0 64.2 198.0 65.0 192.0 61.6 180.6 42.0 180.7 36.0 198.0 24.7 210.0 25.8 219.4 36.0 220.9 48.0 219.4 54.0 210.0 64.2Z M174.0 36.1 166.6 36.0 168.0 33.8 174.0 36.1Z M210.0 62.6 198.0 63.5 192.0 59.6 184.7 48.0 183.2 42.0 184.9 36.0 198.0 26.2 210.0 27.4 217.9 36.0 219.7 48.0 216.0 56.9 210.0 62.6Z M210.0 60.7 198.0 61.8 192.0 57.5 186.7 48.0 187.6 36.0 198.0 27.9 210.0 29.3 216.2 36.0 218.3 48.0 210.0 60.7Z M204.0 61.0 198.0 59.9 192.0 55.0 187.8 42.0 192.0 33.9 198.0 29.8 204.0 28.9 210.0 31.3 216.6 42.0 214.3 54.0 204.0 61.0Z M210.0 56.5 204.0 59.0 198.0 57.9 190.3 48.0 192.0 37.4 198.0 31.8 204.0 30.9 212.3 36.0 214.9 48.0 210.0 56.5Z M204.0 56.9 196.2 54.0 192.5 48.0 192.3 42.0 198.0 34.2 204.0 33.0 210.0 36.2 213.0 42.0 210.0 53.8 204.0 56.9Z M204.0 54.5 198.0 52.5 195.0 48.0 194.8 42.0 198.0 37.2 204.0 35.4 210.9 42.0 210.0 49.6 204.0 54.5Z M204.0 51.0 198.0 48.3 197.7 42.0 204.0 38.9 207.4 42.0 207.3 48.0 204.0 51.0Z"/>
<path stroke="#ff1a1a" stroke-width="0.8" d="M216.0 79.1 210.0 81.5 198.0 80.3 186.7 72.0 177.4 60.0 156.0 52.6 150.7 48.0 146.0 42.0 144.0 30.0 144.7 24.0 150.0 14.6 162.0 6.8 186.0 7.1 204.0 0.6 216.0 2.4 222.0 6.8 231.5 18.0 237.2 42.0 230.2 66.0 216.0 79.1Z M216.0 78.0 210.0 80.8 198.0 79.4 187.4 72.0 178.6 60.0 156.0 51.9 151.5 48.0 146.7 42.0 144.4 30.0 150.0 15.7 162.0 7.3 186.0 7.7 204.0 1.1 216.0 3.2 222.0 7.4 230.8 18.0 236.5 42.0 232.7 60.0 229.3 66.0 222.0 74.7 216.0 78.0Z M210.0 80.0 204.0 80.3 192.0 75.6 179.9 60.0 174.0 56.2 156.0 51.2 150.0 45.2 145.3 36.0 145.7 24.0 156.0 11.2 168.0 6.9 186.0 8.4 204.0 1.6 216.0 4.1 225.8 12.0 232.8 24.0 235.4 36.0 233.7 54.0 232.2 60.0 223.8 72.0 210.0 80.0Z M210.0 79.0 204.0 79.4 192.0 74.8 180.0 59.2 174.0 55.2 156.0 50.2 150.0 43.9 145.9 36.0 146.4 24.0 156.0 12.2 168.0 7.4 186.0 9.2 204.0 2.2 216.0 5.1 225.0 12.0 233.6 30.0 233.3 54.0 231.6 60.0 222.7 72.0 210.0 79.0Z M204.0 78.4 192.0 73.9 180.0 58.3 174.0 54.0 162.0 52.6 149.6 42.0 146.6 36.0 147.2 24.0 156.0 12.9 168.0 8.0 186.0 10.2 204.0 2.9 210.0 3.3 224.1 12.0 233.3 30.0 233.0 54.0 222.0 71.7 216.0 76.5 204.0 78.4Z M216.0 75.9 198.0 76.7 191.2 72.0 175.6 54.0 162.0 51.9 156.0 48.0 147.4 36.0 148.1 24.0 151.6 18.0 162.0 10.2 174.0 8.8 186.0 11.3 204.0 3.8 210.0 4.2 222.0 10.9 231.3 24.0 233.5 48.0 226.6 66.0 216.0 75.9Z M216.0 75.1 210.0 77.0 198.0 76.0 186.4 66.0 177.3 54.0 162.0 51.2 156.0 47.2 151.1 42.0 147.6 30.0 152.5 18.0 168.0 9.4 186.0 12.3 204.0 4.7 216.0 7.1 222.0 12.1 232.5 30.0 233.1 48.0 226.0 66.0 216.0 75.1Z M216.0 74.2 210.0 76.5 198.0 75.3 187.0 66.0 179.4 54.0 162.0 50.3 156.0 46.4 151.9 42.0 148.6 30.0 153.5 18.0 168.0 10.4 186.0 13.0 204.0 5.8 216.0 7.8 222.0 12.7 232.0 30.0 232.7 48.0 225.2 66.0 216.0 74.2Z M216.0 73.2 210.0 75.8 198.0 74.4 187.7 66.0 180.0 53.3 162.0 49.2 156.0 45.4 150.3 36.0 149.7 30.0 154.7 18.0 162.0 12.8 168.0 11.4 186.0 13.8 204.0 6.4 216.0 8.5 222.0 13.5 231.5 30.0 232.3 48.0 224.3 66.0 216.0 73.2Z M210.0 75.0 204.0 75.4 192.0 69.7 180.0 52.3 168.0 50.2 156.0 44.2 151.0 36.0 150.4 30.0 151.6 24.0 156.1 18.0 168.0 12.3 186.0 14.7 204.0 6.9 216.0 9.4 222.0 14.4 230.8 30.0 231.7 48.0 223.3 66.0 210.0 75.0Z M210.0 74.2 204.0 74.5 192.0 68.7 180.0 51.1 162.0 47.3 156.0 42.9 151.7 36.0 151.1 30.0 152.4 24.0 157.2 18.0 168.0 12.9 186.0 15.8 204.0 7.5 216.0 10.4 222.0 15.4 230.0 30.0 231.1 48.0 222.2 66.0 210.0 74.2Z M210.0 73.1 204.0 73.6 192.0 67.6 180.0 49.7 162.0 46.5 156.5 42.0 151.9 30.0 153.4 24.0 158.5 18.0 168.0 13.6 186.0 17.0 204.0 8.2 210.0 8.5 222.0 16.6 227.0 24.0 230.8 36.0 230.4 48.0 222.0 65.3 210.0 73.1Z M204.0 72.5 192.0 66.4 180.0 48.0 168.0 47.3 157.6 42.0 152.8 30.0 154.6 24.0 160.0 18.0 168.0 14.5 186.0 18.3 204.0 9.0 210.0 9.4 222.1 18.0 226.4 24.0 230.0 36.0 227.7 54.0 225.4 60.0 216.0 70.0 204.0 72.5Z M216.0 69.1 210.0 71.4 198.0 70.3 187.4 60.0 180.0 46.8 162.0 44.5 154.8 36.0 153.8 30.0 156.0 23.9 162.0 17.8 168.0 15.4 186.0 19.4 204.0 9.9 216.0 13.1 225.8 24.0 229.5 42.0 224.6 60.0 216.0 69.1Z M216.0 68.1 210.0 70.8 198.0 69.4 188.2 60.0 180.0 45.4 168.0 45.6 162.0 43.2 156.1 36.0 155.0 30.0 157.0 24.0 168.0 16.6 186.0 20.6 204.0 11.0 216.0 13.8 225.0 24.0 228.6 42.0 226.7 54.0 216.0 68.1Z M216.0 67.0 210.0 70.1 198.0 68.5 189.0 60.0 180.0 43.8 168.0 44.5 162.0 41.8 157.1 36.0 158.2 24.0 168.0 17.9 186.0 22.1 198.0 13.5 204.0 12.1 216.0 14.8 224.1 24.0 227.8 42.0 226.1 54.0 216.0 67.0Z M210.0 69.2 198.0 67.4 192.0 62.4 180.0 41.9 168.0 43.3 162.0 40.4 158.3 36.0 157.3 30.0 159.6 24.0 168.0 18.9 186.0 23.8 198.0 14.3 204.0 12.7 216.0 15.8 226.1 30.0 226.9 48.0 221.6 60.0 210.0 69.2Z M210.0 68.2 204.0 68.7 192.0 61.0 180.0 39.8 168.0 41.9 162.0 38.7 158.4 30.0 161.2 24.0 168.0 20.0 174.0 20.5 186.0 25.8 198.0 15.3 204.0 13.4 216.0 17.0 225.4 30.0 226.4 48.0 220.9 60.0 210.0 68.2Z M210.0 67.1 198.0 65.3 192.3 60.0 180.0 37.4 168.0 40.6 162.0 36.8 159.8 30.0 163.3 24.0 168.0 21.4 174.0 21.9 180.0 26.8 186.0 28.1 196.0 18.0 204.0 14.2 216.0 18.2 224.6 30.0 225.7 48.0 220.0 60.0 210.0 67.1Z M204.0 66.4 198.0 64.4 192.0 58.4 182.4 36.0 190.4 24.0 204.0 15.2 210.0 15.7 220.4 24.0 225.8 42.0 218.9 60.0 210.0 65.9 204.0 66.4Z M174.0 38.6 168.0 39.0 163.4 36.0 161.4 30.0 168.0 22.9 174.8 24.0 180.0 30.0 178.5 36.0 174.0 38.6Z M216.0 61.8 210.0 65.1 198.0 63.4 187.5 48.0 187.3 30.0 198.0 18.7 204.0 16.3 216.0 20.2 224.6 36.0 224.1 48.0 216.0 61.8Z M174.0 36.7 166.1 36.0 163.5 30.0 168.0 24.9 174.0 25.9 177.6 30.0 174.0 36.7Z M216.0 60.4 210.0 64.3 198.0 62.3 188.3 48.0 188.5 30.0 198.0 19.7 210.0 18.1 216.0 21.4 221.6 30.0 223.7 36.0 223.1 48.0 216.0 60.4Z M174.0 32.0 168.0 34.2 165.9 30.0 168.0 27.7 174.0 29.0 174.0 32.0Z M210.0 63.2 204.0 63.7 197.0 60.0 192.2 54.0 188.0 42.0 189.9 30.0 198.0 20.8 204.0 18.5 210.0 19.0 216.0 22.8 222.6 36.0 220.1 54.0 210.0 63.2Z M210.0 62.1 204.0 62.6 198.0 59.6 193.1 54.0 188.9 42.0 191.6 30.0 198.0 22.1 204.0 19.4 210.0 19.9 216.0 24.3 221.7 36.0 219.1 54.0 210.0 62.1Z M210.0 60.7 204.0 61.4 198.0 58.4 194.1 54.0 190.0 42.0 192.7 30.0 198.0 23.6 204.0 20.5 210.0 21.1 216.0 25.6 221.0 36.0 220.6 48.0 217.9 54.0 210.0 60.7Z M216.0 54.8 210.0 59.5 204.0 59.9 198.0 57.1 192.5 48.0 191.2 42.0 193.7 30.0 204.0 21.7 210.0 22.4 216.0 27.2 220.2 36.0 219.7 48.0 216.0 54.8Z M210.0 58.3 204.0 58.9 198.0 55.5 193.4 48.0 192.7 36.0 194.9 30.0 204.0 23.1 210.2 24.0 216.0 29.0 219.3 36.0 218.7 48.0 210.0 58.3Z M210.0 57.0 204.0 57.7 198.0 53.8 193.2 42.0 196.3 30.0 204.0 24.5 210.0 25.1 218.2 36.0 217.6 48.0 210.0 57.0Z M210.0 55.5 204.0 56.3 200.5 54.0 195.6 48.0 194.2 42.0 198.0 30.0 204.0 25.8 210.0 26.5 217.0 36.0 216.2 48.0 210.0 55.5Z M204.0 54.6 198.0 49.7 195.4 42.0 198.0 32.4 204.0 27.3 212.0 30.0 216.4 42.0 214.9 48.0 210.0 53.7 204.0 54.6Z M210.0 51.9 204.0 52.9 198.6 48.0 196.7 42.0 198.0 35.2 204.0 29.0 210.0 30.0 214.3 36.0 215.1 42.0 210.0 51.9Z M210.0 49.8 204.0 51.0 198.3 42.0 199.4 36.0 204.0 31.0 210.0 32.3 212.7 36.0 213.7 42.0 210.0 49.8Z M204.0 48.8 200.1 42.0 204.0 33.3 210.0 34.8 212.0 42.0 210.0 47.0 204.0 48.8Z M210.0 42.3 204.0 45.3 202.3 42.0 204.0 36.0 210.0 42.3Z"/>
<path stroke="#9933ff" stroke-width="0.65" d="M240.0 176.0 228.0 177.1 216.0 171.6 207.6 162.0 203.5 150.0 203.1 138.0 206.5 126.0 216.0 114.5 228.0 109.1 240.0 110.0 252.0 118.2 257.3 126.0 261.2 138.0 260.9 150.0 256.3 162.0 246.0 173.0 240.0 176.0Z M240.0 174.4 228.0 175.7 216.0 170.1 209.1 162.0 204.6 150.0 204.3 138.0 207.8 126.0 216.0 115.9 228.0 110.2 240.0 111.3 246.0 114.6 256.1 126.0 260.0 138.0 259.6 150.0 255.0 162.0 246.0 171.6 240.0 174.4Z M234.0 174.4 222.0 172.4 215.8 168.0 207.2 156.0 205.0 144.0 206.5 132.0 210.0 125.0 216.0 117.6 228.0 111.6 234.0 111.3 246.0 116.0 254.8 126.0 258.6 138.0 258.1 150.0 253.5 162.0 246.0 170.0 234.0 174.4Z M246.0 168.2 234.0 173.1 222.0 171.0 216.0 166.6 208.7 156.0 206.0 144.0 207.8 132.0 215.5 120.0 222.0 115.2 234.0 112.8 240.0 114.4 248.6 120.0 256.2 132.0 257.1 150.0 252.0 161.8 246.0 168.2Z M240.0 170.3 228.0 171.6 222.0 169.3 213.6 162.0 208.0 150.0 207.6 138.0 212.2 126.0 222.0 116.6 228.0 114.6 240.0 115.7 246.0 119.5 251.7 126.0 256.3 138.0 254.0 156.0 246.0 166.6 240.0 170.3Z M240.0 168.6 228.0 170.0 222.0 167.5 215.4 162.0 209.5 150.0 209.1 138.0 213.8 126.0 222.0 118.3 228.0 116.0 240.0 117.3 246.0 121.3 255.1 138.0 252.4 156.0 246.0 164.8 240.0 168.6Z M234.0 168.6 222.0 165.9 217.4 162.0 213.0 156.0 210.2 144.0 212.1 132.0 215.6 126.0 228.0 117.6 240.0 119.1 246.0 123.2 253.7 138.0 250.9 156.0 246.0 162.7 234.0 168.6Z M240.0 165.3 228.0 166.7 222.0 164.1 212.2 150.0 213.6 132.0 222.0 121.9 228.0 119.4 240.0 120.8 246.0 125.5 252.0 138.0 249.3 156.0 240.0 165.3Z M240.0 163.3 228.0 165.0 222.1 162.0 213.8 150.0 213.3 138.0 215.4 132.0 222.0 124.0 228.0 121.1 240.0 122.7 246.0 128.0 250.7 138.0 250.2 150.0 246.0 158.0 240.0 163.3Z M234.0 163.4 222.0 159.8 216.0 150.9 214.4 144.0 217.3 132.0 228.0 122.9 240.0 124.8 249.1 138.0 248.5 150.0 246.0 155.1 240.0 161.2 234.0 163.4Z M240.0 158.9 228.0 160.9 222.0 157.3 217.4 150.0 216.8 138.0 219.3 132.0 228.0 125.1 240.0 127.1 247.3 138.0 246.6 150.0 240.0 158.9Z M240.0 156.4 234.0 159.2 228.0 158.7 219.4 150.0 218.7 138.0 222.0 131.7 228.0 127.4 234.0 126.8 240.0 129.7 245.2 138.0 244.5 150.0 240.0 156.4Z M234.0 156.7 227.9 156.0 222.0 150.4 220.1 144.0 222.0 135.9 228.0 129.9 234.0 129.3 240.0 132.9 243.0 138.0 242.2 150.0 234.0 156.7Z M234.0 153.7 228.0 152.9 222.7 144.0 223.8 138.0 228.0 133.1 234.0 132.2 240.0 137.3 241.4 144.0 239.1 150.0 234.0 153.7Z M234.0 150.2 228.0 148.4 225.9 144.0 228.0 137.3 234.0 136.1 236.1 138.0 238.0 144.0 234.0 150.2Z"/>
<path stroke="#2a2aff" stroke-width="0.65" d="M270.0 145.7 258.0 144.7 246.0 137.8 230.6 120.0 225.9 108.0 225.4 102.0 229.2 90.0 240.0 79.0 252.0 73.7 264.0 72.7 276.0 74.8 290.2 84.0 297.7 96.0 297.8 114.0 290.0 132.0 282.0 140.6 270.0 145.7Z M270.0 144.5 258.0 143.6 246.0 136.7 231.9 120.0 227.2 108.0 226.7 102.0 230.4 90.0 240.0 80.1 252.0 74.6 264.0 73.5 276.0 75.9 288.6 84.0 296.5 96.0 297.8 108.0 292.3 126.0 282.0 139.2 270.0 144.5Z M276.0 141.9 264.0 143.7 252.0 140.1 233.4 120.0 228.4 108.0 229.0 96.0 240.0 81.3 252.0 75.7 270.0 75.2 282.0 80.0 292.4 90.0 296.7 102.0 295.5 114.0 287.3 132.0 276.0 141.9Z M276.0 140.7 264.0 142.9 252.0 138.7 238.9 126.0 231.2 114.0 230.1 96.0 238.6 84.0 246.0 79.1 258.0 75.6 270.0 76.3 282.0 81.2 291.1 90.0 295.3 102.0 292.5 120.0 286.2 132.0 276.0 140.7Z M276.0 139.3 264.0 141.9 252.0 137.4 240.4 126.0 232.5 114.0 230.5 108.0 231.4 96.0 234.7 90.0 246.0 80.2 264.0 76.6 276.0 79.3 288.0 88.2 292.7 96.0 293.9 108.0 291.4 120.0 284.8 132.0 276.0 139.3Z M270.0 140.4 264.0 140.8 252.0 136.2 237.1 120.0 231.8 108.0 231.4 102.0 236.0 90.0 252.0 79.1 264.0 78.0 276.0 80.4 287.9 90.0 291.6 96.0 293.0 108.0 287.2 126.0 282.0 133.3 270.0 140.4Z M270.0 139.0 264.0 139.5 252.0 134.8 238.6 120.0 233.3 108.0 232.9 102.0 237.5 90.0 252.0 80.1 264.0 78.8 276.0 81.7 286.5 90.0 290.2 96.0 291.8 108.0 286.0 126.0 276.0 136.7 270.0 139.0Z M276.0 135.3 270.0 137.6 258.0 136.7 246.0 127.4 236.5 114.0 234.3 102.0 235.6 96.0 246.0 84.4 258.0 80.0 270.0 80.7 282.0 87.1 288.5 96.0 290.4 102.0 289.4 114.0 284.6 126.0 276.0 135.3Z M276.0 133.7 270.0 136.4 258.0 135.4 241.6 120.0 235.9 108.0 235.5 102.0 237.0 96.0 246.0 85.7 258.0 81.2 270.0 82.0 282.0 88.9 287.1 96.0 289.0 108.0 286.1 120.0 276.0 133.7Z M270.0 135.1 258.0 133.9 252.0 129.9 243.2 120.0 237.3 108.0 238.6 96.0 242.9 90.0 252.0 84.3 270.0 83.5 281.2 90.0 285.7 96.0 287.6 108.0 284.6 120.0 276.0 131.8 270.0 135.1Z M270.0 133.5 257.8 132.0 250.0 126.0 241.2 114.0 238.6 102.0 240.4 96.0 252.0 85.5 270.0 84.9 279.2 90.0 284.0 96.0 286.2 108.0 283.0 120.0 276.0 130.0 270.0 133.5Z M264.0 132.3 252.0 125.8 240.6 108.0 242.0 96.0 247.3 90.0 258.0 85.3 270.0 86.2 276.0 89.3 284.5 102.0 283.5 114.0 277.7 126.0 270.0 131.7 264.0 132.3Z M270.0 129.9 258.0 128.6 244.7 114.0 241.9 102.0 243.9 96.0 252.0 88.8 258.0 86.7 270.0 87.8 280.3 96.0 282.7 102.0 281.7 114.0 276.0 125.4 270.0 129.9Z M270.0 127.8 264.0 128.8 258.0 126.4 246.7 114.0 243.7 102.0 246.1 96.0 252.0 90.7 264.0 88.0 270.7 90.0 278.3 96.0 280.9 102.0 279.9 114.0 276.0 122.2 270.0 127.8Z M264.0 126.6 253.7 120.0 246.2 108.0 245.8 102.0 248.5 96.0 258.0 90.2 270.0 91.5 275.9 96.0 279.0 102.0 279.3 108.0 275.0 120.0 270.0 125.3 264.0 126.6Z M270.0 122.1 264.0 123.9 251.3 114.0 247.9 102.0 252.0 95.2 264.0 91.7 273.1 96.0 276.8 102.0 277.2 108.0 270.0 122.1Z M264.0 120.6 258.0 117.6 250.8 108.0 250.4 102.0 258.0 94.4 269.6 96.0 274.2 102.0 272.5 114.0 270.0 118.0 264.0 120.6Z M264.0 116.3 258.0 113.6 254.0 108.0 253.6 102.0 258.0 97.4 264.0 96.5 271.2 102.0 270.0 112.0 264.0 116.3Z M264.0 110.5 258.1 108.0 258.0 101.6 264.0 100.3 266.4 102.0 266.6 108.0 264.0 110.5Z"/>
<path stroke="#1fdc1f" stroke-width="0.65" d="M210.0 207.4 198.0 209.1 186.0 205.4 177.3 198.0 170.6 186.0 169.2 168.0 173.3 156.0 180.0 147.1 192.0 139.9 204.0 139.1 216.0 144.0 222.6 150.0 229.3 162.0 231.3 174.0 229.3 186.0 222.0 198.7 210.0 207.4Z M210.0 205.6 198.0 207.6 186.0 203.4 179.4 198.0 172.2 186.0 170.2 174.0 172.2 162.0 180.0 149.4 192.0 141.6 204.0 140.7 216.0 145.8 227.6 162.0 229.8 174.0 227.6 186.0 220.6 198.0 210.0 205.6Z M204.0 205.5 198.0 205.8 186.0 201.6 176.8 192.0 172.3 180.0 172.3 168.0 176.8 156.0 186.0 146.4 198.0 142.2 204.0 142.5 216.0 147.9 223.2 156.0 227.6 168.0 227.6 180.0 223.2 192.0 216.0 200.1 204.0 205.5Z M210.0 201.8 192.0 202.6 184.3 198.0 175.6 186.0 173.5 174.0 175.6 162.0 184.3 150.0 192.0 145.4 210.0 146.2 216.0 150.2 224.4 162.0 226.6 174.0 224.4 186.0 216.0 197.8 210.0 201.8Z M210.0 199.7 204.0 201.8 192.0 200.6 186.0 197.1 177.5 186.0 175.1 174.0 177.5 162.0 186.0 150.9 192.0 147.4 204.0 146.2 210.0 148.3 216.0 152.6 222.4 162.0 224.4 180.0 219.0 192.0 210.0 199.7Z M204.0 199.7 192.0 198.4 186.0 194.6 177.5 180.0 177.5 168.0 180.0 161.3 186.0 153.4 198.0 148.0 210.0 150.6 216.0 155.4 220.5 162.0 223.1 174.0 220.5 186.0 216.6 192.0 204.0 199.7Z M210.0 195.1 204.0 197.4 192.0 196.1 181.7 186.0 179.5 168.0 186.0 156.2 192.0 151.9 204.0 150.6 210.0 152.9 218.3 162.0 220.5 180.0 216.0 189.4 210.0 195.1Z M210.0 192.3 198.0 195.5 192.0 193.6 184.1 186.0 181.6 180.0 181.6 168.0 186.0 159.5 192.0 154.4 204.0 152.9 210.0 155.7 216.0 162.4 218.4 168.0 218.4 180.0 210.0 192.3Z M204.0 192.5 192.0 190.7 184.0 180.0 183.1 174.0 186.0 163.7 192.0 157.3 198.0 155.1 210.0 158.8 216.0 168.0 216.0 180.0 210.0 189.2 204.0 192.5Z M204.0 189.5 198.0 190.0 192.0 187.4 186.7 180.0 186.7 168.0 192.0 160.6 198.0 158.0 204.0 158.5 209.5 162.0 213.3 168.0 213.3 180.0 210.0 185.6 204.0 189.5Z M204.0 186.1 198.0 186.7 190.0 180.0 190.0 168.0 198.0 161.3 204.0 161.9 210.1 168.0 210.1 180.0 204.0 186.1Z M204.0 181.3 198.0 182.2 192.3 174.0 198.0 165.8 205.3 168.0 207.5 174.0 204.0 181.3Z"/>
<path stroke="#ff8c1a" stroke-width="0.65" d="M186.0 254.0 174.0 256.1 162.0 251.6 151.3 240.0 145.3 222.0 145.9 204.0 150.3 192.0 162.0 178.3 174.0 174.1 186.0 176.0 197.9 186.0 204.3 198.0 207.1 210.0 205.6 228.0 200.7 240.0 186.0 254.0Z M180.0 253.7 168.0 252.5 156.0 243.6 148.1 228.0 146.3 216.0 147.5 204.0 152.1 192.0 162.0 180.7 174.0 176.0 186.0 178.3 195.6 186.0 202.6 198.0 205.4 210.0 203.7 228.0 198.6 240.0 192.0 247.7 180.0 253.7Z M186.0 249.4 174.0 251.6 162.0 246.7 152.1 234.0 148.6 222.0 148.3 210.0 154.3 192.0 162.0 183.2 174.0 178.3 186.0 180.7 192.0 185.0 202.6 204.0 202.1 228.0 196.3 240.0 186.0 249.4Z M186.0 246.8 174.0 249.4 162.0 244.0 154.2 234.0 150.5 222.0 151.3 204.0 156.0 193.1 162.1 186.0 174.0 180.7 186.0 183.2 192.0 187.9 198.6 198.0 201.9 210.0 201.6 222.0 197.7 234.0 186.0 246.8Z M180.0 246.5 168.0 245.1 162.0 241.0 156.6 234.0 152.3 222.0 152.0 210.0 156.0 197.2 162.0 189.0 174.0 183.1 186.0 186.0 192.0 191.1 200.0 210.0 199.7 222.0 195.4 234.0 186.0 244.1 180.0 246.5Z M186.0 241.2 180.0 243.9 168.0 242.4 159.1 234.0 154.4 222.0 154.0 210.0 158.0 198.0 168.0 187.6 174.0 185.8 186.0 188.8 196.6 204.0 198.1 216.0 195.9 228.0 186.0 241.2Z M180.0 241.0 168.0 239.3 162.0 233.9 156.7 222.0 156.3 210.0 160.7 198.0 168.0 190.7 174.0 188.6 186.0 192.1 192.0 199.2 195.7 210.0 193.5 228.0 186.0 237.9 180.0 241.0Z M186.0 234.3 180.0 237.8 168.0 235.9 159.1 222.0 160.4 204.0 168.0 194.2 174.0 191.8 186.0 195.8 193.3 210.0 192.9 222.0 186.0 234.3Z M180.0 234.2 174.0 234.8 168.0 231.8 162.0 222.3 160.9 216.0 163.6 204.0 168.0 198.1 174.0 195.3 180.0 195.8 186.0 200.2 190.5 210.0 190.0 222.0 186.0 229.8 180.0 234.2Z M180.0 229.9 174.0 230.6 168.0 226.7 164.1 216.0 167.4 204.0 174.0 199.4 180.0 200.1 187.3 210.0 186.7 222.0 180.0 229.9Z M180.0 224.2 174.0 225.2 168.0 216.5 169.0 210.0 174.0 204.6 180.0 205.9 182.8 210.0 183.8 216.0 180.0 224.2Z"/>
<path stroke="#ff1a1a" stroke-width="0.65" d="M162.0 284.6 150.0 285.1 138.0 279.4 129.6 270.0 123.5 252.0 124.2 240.0 128.4 228.0 138.0 216.8 150.0 211.1 162.0 211.5 174.0 218.3 181.5 228.0 185.5 240.0 183.6 264.0 174.0 277.5 162.0 284.6Z M162.0 283.5 150.0 284.0 138.0 278.2 127.4 264.0 124.5 252.0 125.3 240.0 129.3 228.0 138.0 217.8 150.0 211.9 162.0 212.4 174.0 219.6 183.5 234.0 184.9 240.0 185.3 252.0 182.7 264.0 174.0 276.0 162.0 283.5Z M162.0 282.1 150.0 282.8 138.0 276.8 128.3 264.0 126.6 258.0 125.5 246.0 130.5 228.0 138.0 218.9 150.0 212.9 162.0 213.4 174.0 221.0 184.2 240.0 184.7 252.0 181.6 264.0 174.0 275.0 162.0 282.1Z M156.0 282.1 144.0 279.9 132.9 270.0 127.2 258.0 126.3 246.0 128.4 234.0 136.3 222.0 144.0 216.4 156.0 213.4 168.0 217.3 174.0 222.4 181.4 234.0 184.1 246.0 182.9 258.0 177.3 270.0 168.0 278.8 156.0 282.1Z M168.0 277.6 156.0 281.3 144.0 278.9 130.3 264.0 127.1 252.0 127.6 240.0 132.7 228.0 144.0 217.3 156.0 214.6 168.0 218.3 177.5 228.0 180.2 234.0 183.3 246.0 181.9 258.0 176.1 270.0 168.0 277.6Z M168.0 276.1 156.0 280.5 144.0 277.6 135.1 270.0 128.9 258.0 127.7 246.0 130.5 234.0 144.0 218.3 162.0 216.8 174.0 225.1 179.4 234.0 182.4 246.0 180.7 258.0 174.7 270.0 168.0 276.1Z M162.0 278.3 150.0 278.9 138.0 271.7 132.6 264.0 128.7 252.0 129.4 240.0 134.8 228.0 144.0 219.5 150.0 217.2 162.0 217.7 168.0 220.9 175.1 228.0 180.1 240.0 181.1 252.0 177.7 264.0 168.0 275.1 162.0 278.3Z M162.0 276.9 156.0 278.3 144.0 275.1 133.5 264.0 129.6 252.0 130.5 240.0 136.1 228.0 150.0 218.2 162.0 218.8 168.0 222.4 177.6 234.0 179.4 240.0 179.9 252.0 176.6 264.0 168.0 273.9 162.0 276.9Z M156.0 277.0 144.0 274.0 138.0 268.6 132.3 258.0 130.6 246.0 133.6 234.0 138.0 227.5 144.0 222.3 156.0 218.8 162.0 220.1 172.5 228.0 176.5 234.0 179.3 246.0 178.1 258.0 174.0 265.9 168.0 272.6 156.0 277.0Z M168.0 271.0 162.0 274.6 150.0 275.2 140.9 270.0 133.1 258.0 131.9 246.0 134.7 234.0 144.0 223.4 150.0 220.8 156.0 220.0 168.0 224.8 177.6 240.0 177.0 258.0 168.0 271.0Z M162.0 273.4 150.0 274.1 144.0 271.1 134.1 258.0 132.7 246.0 135.9 234.0 144.0 224.8 150.0 222.2 162.0 222.8 168.0 226.4 176.5 240.0 175.8 258.0 168.0 269.5 162.0 273.4Z M162.0 272.1 150.0 272.8 144.0 269.5 135.3 258.0 134.6 240.0 142.1 228.0 150.0 223.3 162.0 224.0 168.0 228.2 175.3 240.0 176.2 252.0 174.5 258.0 168.0 268.0 162.0 272.1Z M162.0 270.5 156.0 272.2 144.0 268.1 134.9 252.0 135.8 240.0 138.7 234.0 150.0 224.6 162.0 225.3 168.0 229.7 173.9 240.0 175.2 246.0 173.3 258.0 168.0 266.3 162.0 270.5Z M156.0 270.6 150.0 269.8 141.6 264.0 136.1 252.0 135.9 246.0 140.1 234.0 144.0 229.6 156.0 225.2 168.0 231.6 173.8 246.0 172.1 258.0 168.3 264.0 156.0 270.6Z M162.0 267.6 150.0 268.4 139.3 258.0 137.3 246.0 138.6 240.0 144.0 231.4 150.0 227.7 162.0 228.6 171.6 240.0 172.6 252.0 170.8 258.0 162.0 267.6Z M162.0 265.9 150.0 266.9 140.7 258.0 138.8 252.0 139.9 240.0 150.0 229.2 162.0 230.1 170.2 240.0 171.3 252.0 168.0 259.9 162.0 265.9Z M156.0 266.1 150.0 265.1 144.0 260.2 139.9 246.0 145.7 234.0 156.0 229.9 164.3 234.0 170.2 246.0 167.5 258.0 162.0 263.9 156.0 266.1Z M156.0 264.2 150.0 263.1 144.3 258.0 141.3 246.0 143.1 240.0 148.4 234.0 156.0 231.6 162.0 234.1 168.6 246.0 165.7 258.0 156.0 264.2Z M162.0 259.7 156.0 262.3 150.0 261.1 144.0 253.4 144.0 242.9 150.0 235.0 156.0 233.7 164.9 240.0 166.5 252.0 162.0 259.7Z M156.0 260.2 149.3 258.0 145.4 252.0 145.0 246.0 150.0 237.4 156.0 235.9 162.0 239.1 165.1 246.0 162.0 256.7 156.0 260.2Z M162.0 252.8 156.0 257.6 150.0 255.4 147.2 246.0 150.0 240.4 156.0 238.4 158.8 240.0 163.0 246.0 162.0 252.8Z M156.0 254.2 151.2 252.0 149.7 246.0 156.0 241.9 159.7 246.0 156.0 254.2Z"/>
<path stroke="#2a2aff" stroke-width="0.65" d="M390.0 107.9 372.0 117.0 354.0 115.3 342.1 108.0 337.1 102.0 333.6 90.0 337.1 78.0 342.1 72.0 354.0 64.7 372.0 63.0 390.0 72.1 M390.0 106.2 378.0 113.9 360.0 115.8 348.0 111.3 342.0 106.2 338.5 102.0 335.1 90.0 338.5 78.0 342.0 73.8 348.0 68.7 360.0 64.2 378.0 66.1 390.0 73.8 M390.0 104.3 384.0 109.8 372.0 114.3 354.0 112.8 340.1 102.0 336.5 90.0 340.1 78.0 354.0 67.2 372.0 65.7 384.0 70.2 390.0 75.7 M390.0 102.2 378.0 111.6 360.0 113.2 348.0 108.1 342.0 102.2 337.7 90.0 342.0 77.8 348.0 71.9 360.0 66.8 378.0 68.4 390.0 77.8 M390.0 99.3 378.0 110.3 360.0 112.1 350.2 108.0 343.4 102.0 339.1 90.0 343.4 78.0 350.2 72.0 360.0 67.9 378.0 69.7 390.0 80.7 M390.0 96.0 386.8 102.0 378.0 108.6 360.0 110.8 345.2 102.0 340.8 90.0 345.2 78.0 360.0 69.2 378.0 71.4 386.8 78.0 390.0 84.0 M372.0 109.3 354.0 107.1 343.5 96.0 343.5 84.0 354.0 72.9 372.0 70.7 384.0 77.3 388.5 84.0 388.5 96.0 384.7 102.0 372.0 109.3Z M366.0 108.4 354.0 105.4 349.5 102.0 344.0 90.0 349.5 78.0 354.0 74.6 366.0 71.6 378.0 74.6 382.5 78.0 388.0 90.0 382.5 102.0 378.0 105.4 366.0 108.4Z M378.0 103.6 366.0 107.0 352.0 102.0 345.8 90.0 352.0 78.0 366.0 73.0 380.0 78.0 386.2 90.0 384.8 96.0 378.0 103.6Z M372.0 104.5 360.0 104.5 349.4 96.0 349.4 84.0 355.0 78.0 366.0 74.6 372.0 75.5 382.6 84.0 382.6 96.0 372.0 104.5Z M372.0 102.5 360.0 102.5 351.7 96.0 350.0 90.0 354.0 81.4 366.0 76.4 373.0 78.0 380.3 84.0 382.0 90.0 380.3 96.0 372.0 102.5Z M372.0 100.2 360.0 100.2 354.5 96.0 352.4 90.0 354.5 84.0 366.0 78.6 377.5 84.0 379.6 90.0 378.0 94.9 372.0 100.2Z M372.0 97.5 366.0 99.0 358.1 96.0 355.3 90.0 358.1 84.0 366.0 81.0 373.9 84.0 376.7 90.0 372.0 97.5Z M366.0 96.2 358.8 90.0 366.0 83.8 373.2 90.0 366.0 96.2Z M366.0 90.0 366.0 90.0Z M366.0 90.0 366.0 90.0Z"/>
<path stroke="#9933ff" stroke-width="0.65" d="M390.0 98.8 385.9 108.0 378.0 115.2 372.0 118.0 360.0 118.9 348.4 114.0 342.2 108.0 338.7 102.0 336.9 90.0 340.8 78.0 345.8 72.0 360.0 65.2 378.0 68.7 387.3 78.0 390.0 85.0 M372.0 116.4 360.0 117.4 354.0 115.6 348.0 111.9 340.4 102.0 338.6 96.0 339.6 84.0 348.0 72.2 354.0 68.4 372.0 67.6 379.8 72.0 388.4 84.0 387.6 102.0 383.8 108.0 372.0 116.4Z M372.0 114.5 360.0 115.7 354.0 113.7 342.3 102.0 340.3 96.0 341.5 84.0 344.6 78.0 354.0 70.2 360.0 68.3 372.0 69.3 378.0 72.7 386.7 84.0 387.7 96.0 385.8 102.0 378.0 111.4 372.0 114.5Z M366.0 114.1 354.0 111.9 348.7 108.0 342.2 96.0 343.2 84.0 346.8 78.0 360.0 70.0 372.0 71.3 378.0 74.8 384.7 84.0 386.3 90.0 383.8 102.0 379.3 108.0 366.0 114.1Z M372.0 110.8 360.0 112.1 354.0 109.8 346.2 102.0 343.9 96.0 345.2 84.0 354.0 74.2 366.0 71.7 372.0 73.2 382.8 84.0 384.3 90.0 381.8 102.0 372.0 110.8Z M372.0 108.6 360.0 110.0 348.6 102.0 345.6 90.0 347.4 84.0 354.0 76.5 366.0 73.7 375.7 78.0 380.6 84.0 382.0 96.0 379.5 102.0 372.0 108.6Z M366.0 108.1 354.0 104.7 348.3 96.0 349.9 84.0 360.0 76.2 372.0 77.9 378.1 84.0 380.2 90.0 376.7 102.0 366.0 108.1Z M372.0 103.2 360.0 105.2 354.0 101.4 350.3 90.0 354.0 82.6 360.0 78.8 366.0 78.3 375.1 84.0 377.2 96.0 372.0 103.2Z M366.0 102.8 360.0 102.3 353.7 96.0 354.0 88.1 360.0 81.8 366.0 81.3 371.4 84.0 374.7 90.0 372.0 99.2 366.0 102.8Z M366.0 98.9 358.0 96.0 357.1 90.0 360.0 86.2 366.0 85.0 371.0 90.0 369.8 96.0 366.0 98.9Z"/>
<path stroke="#1fdc1f" stroke-width="0.65" d="M372.0 122.0 354.0 123.5 342.0 116.2 336.6 108.0 335.0 102.0 336.6 90.0 348.0 77.2 360.0 73.7 372.0 76.0 382.0 84.0 385.5 90.0 387.2 96.0 385.5 108.0 382.0 114.0 372.0 122.0Z M372.0 120.4 366.0 122.7 354.0 122.2 342.0 114.3 337.8 108.0 337.8 90.0 348.0 78.6 354.0 75.8 366.0 75.3 378.0 81.5 383.9 90.0 385.9 96.0 383.9 108.0 380.5 114.0 372.0 120.4Z M366.0 121.3 360.0 121.9 348.0 118.0 339.2 108.0 337.5 102.0 339.2 90.0 348.0 80.0 354.0 77.3 360.0 76.1 372.0 78.9 382.7 90.0 384.4 96.0 382.7 108.0 378.0 114.7 366.0 121.3Z M360.0 120.4 345.2 114.0 338.7 102.0 340.7 90.0 345.2 84.0 360.0 77.6 372.0 80.3 376.8 84.0 383.1 96.0 381.3 108.0 376.8 114.0 372.0 117.7 360.0 120.4Z M372.0 116.1 366.0 118.6 354.0 118.0 342.4 108.0 340.2 96.0 348.0 83.4 354.0 80.0 366.0 79.4 378.0 87.6 381.8 96.0 381.8 102.0 379.7 108.0 372.0 116.1Z M372.0 114.2 366.0 117.1 354.0 116.5 344.0 108.0 342.0 96.0 348.0 85.3 354.0 81.5 366.0 80.9 377.9 90.0 380.3 102.0 372.0 114.2Z M366.0 115.5 352.8 114.0 345.9 108.0 343.5 102.0 345.9 90.0 354.0 83.3 360.0 81.8 369.0 84.0 376.1 90.0 378.5 96.0 376.1 108.0 366.0 115.5Z M360.0 114.4 348.0 108.0 345.2 102.0 348.0 90.0 360.0 83.6 372.0 87.9 376.7 96.0 374.0 108.0 366.0 113.6 360.0 114.4Z M366.0 111.7 354.0 110.8 348.0 103.7 347.2 96.0 354.0 87.2 366.0 86.3 371.5 90.0 374.8 96.0 372.0 107.4 366.0 111.7Z M366.0 109.5 360.0 110.5 354.0 108.4 349.4 102.0 349.4 96.0 354.0 89.6 360.0 87.5 366.0 88.5 372.0 94.8 372.6 102.0 366.0 109.5Z M360.0 108.2 352.0 102.0 352.0 96.0 360.0 89.8 366.0 91.4 369.9 96.0 369.9 102.0 366.0 106.6 360.0 108.2Z M366.0 102.7 360.0 104.8 355.8 102.0 355.8 96.0 360.0 93.2 366.0 95.3 366.0 102.7Z"/>
<path stroke="#ff8c1a" stroke-width="0.65" d="M390.0 101.2 387.7 108.0 378.0 117.6 366.0 120.0 360.0 119.2 351.4 114.0 346.4 108.0 342.8 96.0 344.3 84.0 348.1 78.0 360.0 68.6 372.0 68.0 378.0 70.6 386.3 78.0 390.0 87.0 M390.0 96.5 386.7 108.0 381.1 114.0 372.0 118.9 366.0 119.3 352.9 114.0 344.5 102.0 343.4 96.0 345.2 84.0 349.0 78.0 360.0 69.6 366.0 68.4 372.0 69.0 384.0 76.8 388.6 84.0 390.0 93.8 M378.0 115.3 372.0 118.0 360.0 117.4 354.0 113.7 345.5 102.0 344.5 90.0 346.3 84.0 354.0 74.1 360.0 70.8 366.0 69.4 378.0 72.8 387.8 84.0 388.5 102.0 378.0 115.3Z M372.0 117.0 360.0 116.3 354.0 112.6 349.7 108.0 345.1 96.0 345.4 90.0 351.3 78.0 366.0 70.5 378.0 73.8 386.7 84.0 388.5 90.0 387.6 102.0 384.1 108.0 372.0 117.0Z M372.0 115.9 366.0 116.6 354.0 111.4 346.2 96.0 348.6 84.0 360.0 72.9 372.0 72.4 378.0 75.0 385.6 84.0 387.6 90.0 386.5 102.0 383.0 108.0 372.0 115.9Z M372.0 114.5 360.0 113.8 354.0 109.9 348.8 102.0 347.4 96.0 349.6 84.0 360.0 73.9 372.0 73.3 378.0 76.3 386.6 90.0 385.3 102.0 381.8 108.0 372.0 114.5Z M378.0 110.3 372.0 113.4 360.0 112.8 349.8 102.0 348.7 90.0 350.7 84.0 360.0 75.1 372.0 74.4 383.1 84.0 385.8 96.0 378.0 110.3Z M378.0 108.7 372.0 112.4 360.0 111.6 350.9 102.0 349.7 90.0 352.0 84.0 360.0 76.5 372.0 75.6 382.0 84.0 384.4 96.0 378.0 108.7Z M372.0 111.1 360.0 110.2 352.2 102.0 350.4 96.0 354.0 83.3 366.0 76.0 378.0 80.8 383.1 90.0 381.8 102.0 372.0 111.1Z M372.0 109.7 360.0 108.7 353.7 102.0 351.6 96.0 355.0 84.0 366.0 77.5 372.0 78.4 378.0 82.7 381.9 90.0 380.4 102.0 372.0 109.7Z M372.0 108.1 366.0 109.2 360.0 107.1 353.1 96.0 356.6 84.0 366.0 78.9 372.0 79.8 380.7 90.0 378.9 102.0 372.0 108.1Z M372.0 106.5 366.0 107.6 360.0 105.3 354.5 96.0 358.5 84.0 366.0 80.3 372.0 81.4 379.1 90.0 378.0 100.1 372.0 106.5Z M372.0 104.8 366.0 106.0 360.0 103.3 356.0 96.0 356.5 90.0 360.0 84.8 366.0 81.9 372.0 83.2 377.5 90.0 378.0 96.0 372.0 104.8Z M372.0 102.7 366.0 104.2 360.0 100.5 357.7 96.0 360.0 87.5 366.0 83.8 372.0 85.5 375.6 90.0 376.2 96.0 372.0 102.7Z M366.0 102.1 359.7 96.0 360.6 90.0 366.0 86.1 372.0 88.2 374.2 96.0 372.0 99.6 366.0 102.1Z M366.0 98.9 362.9 96.0 366.0 88.8 369.1 90.0 371.6 96.0 366.0 98.9Z"/>
<path stroke="#ff1a1a" stroke-width="0.65" d="M390.0 102.6 387.6 108.0 378.0 116.4 366.0 118.3 360.0 116.4 350.4 108.0 345.4 90.0 349.3 78.0 354.0 72.2 366.0 66.2 378.0 67.6 384.0 72.2 390.0 81.5 M390.0 99.8 386.5 108.0 379.7 114.0 366.0 117.4 351.5 108.0 346.4 90.0 350.2 78.0 354.0 73.3 366.0 66.8 378.0 68.6 387.8 78.0 390.0 83.9 M390.0 96.3 384.0 109.4 372.0 116.4 366.0 116.4 352.8 108.0 349.2 102.0 347.6 90.0 354.0 74.6 366.0 67.6 372.0 67.6 381.0 72.0 386.8 78.0 390.0 88.4 M372.0 115.2 360.0 113.0 350.1 102.0 348.6 96.0 349.4 84.0 352.4 78.0 366.0 68.6 378.0 71.0 384.0 76.0 389.6 90.0 387.9 102.0 384.0 107.8 372.0 115.2Z M378.0 112.0 372.0 113.9 360.0 112.0 351.1 102.0 349.3 96.0 350.3 84.0 353.8 78.0 366.0 69.7 378.0 72.3 387.7 84.0 386.9 102.0 378.0 112.0Z M378.0 110.8 372.0 113.1 360.0 110.8 352.2 102.0 350.2 96.0 351.3 84.0 354.0 79.4 360.0 73.3 366.0 70.9 378.0 73.3 386.7 84.0 387.8 96.0 385.8 102.0 378.0 110.8Z M378.0 109.5 366.0 112.1 360.0 109.5 353.6 102.0 350.9 90.0 352.5 84.0 360.0 74.5 372.0 72.2 378.0 74.5 385.5 84.0 386.8 96.0 378.0 109.5Z M372.0 110.9 360.0 107.9 352.3 96.0 354.0 83.7 360.0 75.9 366.0 73.2 378.0 75.9 386.0 90.0 383.3 102.0 372.0 110.9Z M372.0 109.6 360.0 106.6 353.7 96.0 354.9 84.0 360.0 77.5 366.0 74.3 372.0 74.3 378.0 77.5 384.7 90.0 382.1 102.0 372.0 109.6Z M372.0 108.1 360.0 105.0 354.8 96.0 356.1 84.0 366.0 75.7 372.0 75.7 378.0 79.1 383.5 90.0 380.7 102.0 372.0 108.1Z M378.0 103.2 372.0 106.8 366.0 106.8 359.0 102.0 355.6 90.0 360.0 80.9 366.0 77.2 372.0 77.2 378.0 80.9 382.4 90.0 382.0 96.0 378.0 103.2Z M372.0 105.3 366.0 105.3 357.3 96.0 359.2 84.0 366.0 78.8 372.0 78.8 378.0 83.0 381.1 90.0 378.0 100.9 372.0 105.3Z M372.0 103.6 366.0 103.6 358.9 96.0 360.0 86.1 366.0 80.4 372.0 80.4 379.6 90.0 378.0 98.0 372.0 103.6Z M372.0 101.6 366.0 101.6 360.8 96.0 360.1 90.0 366.0 82.3 372.0 82.3 377.9 90.0 377.2 96.0 372.0 101.6Z M372.0 99.2 366.0 99.2 363.0 96.0 362.2 90.0 366.0 84.7 372.0 84.7 375.8 90.0 375.0 96.0 372.0 99.2Z M372.0 96.3 365.7 96.0 366.0 88.2 372.0 88.2 372.0 96.3Z"/>
<path stroke="#ff1a1a" stroke-width="0.65" d="M390.0 239.3 372.0 251.0 360.0 254.5 354.0 253.7 342.0 249.4 328.5 240.0 320.6 228.0 319.7 222.0 320.6 216.0 328.5 204.0 342.0 194.6 354.0 190.3 360.0 189.5 372.0 193.0 390.0 204.7 M390.0 237.4 372.0 250.0 360.0 253.3 354.0 252.3 342.0 248.2 330.5 240.0 325.2 234.0 321.3 222.0 325.2 210.0 330.5 204.0 342.0 195.8 354.0 191.7 360.0 190.7 372.0 194.0 390.0 206.6 M390.0 235.1 372.0 248.9 354.0 251.4 332.2 240.0 326.9 234.0 323.1 222.0 326.9 210.0 332.2 204.0 354.0 192.6 372.0 195.1 390.0 208.9 M390.0 232.3 383.6 240.0 372.0 247.6 360.0 251.1 354.0 250.5 334.2 240.0 328.8 234.0 324.8 222.0 328.8 210.0 334.2 204.0 354.0 193.5 360.0 192.9 372.0 196.4 383.6 204.0 390.0 211.7 M390.0 228.8 378.0 242.9 360.0 250.2 348.0 247.2 336.4 240.0 330.6 234.0 326.3 222.0 330.6 210.0 336.4 204.0 348.0 196.8 360.0 193.8 378.0 201.1 390.0 215.2 M366.0 247.5 354.0 248.2 342.0 242.7 332.4 234.0 329.3 228.0 328.1 222.0 332.4 210.0 342.0 201.3 354.0 195.8 360.0 194.9 372.0 199.1 384.0 208.3 388.8 216.0 388.8 228.0 385.6 234.0 378.0 241.3 366.0 247.5Z M360.0 247.8 340.6 240.0 334.3 234.0 330.1 222.0 334.3 210.0 340.6 204.0 360.0 196.2 378.0 204.5 387.1 216.0 388.2 222.0 387.1 228.0 378.0 239.5 360.0 247.8Z M360.0 246.3 342.0 239.3 332.7 228.0 331.7 222.0 332.7 216.0 342.0 204.7 360.0 197.7 378.0 206.3 385.1 216.0 386.4 222.0 385.1 228.0 378.0 237.7 360.0 246.3Z M372.0 240.4 360.0 245.2 354.0 244.3 342.0 237.5 334.7 228.0 333.5 222.0 338.3 210.0 348.0 202.3 360.0 198.8 378.0 208.4 383.2 216.0 383.2 228.0 372.0 240.4Z M366.0 242.2 354.0 243.0 342.0 235.4 336.7 228.0 336.7 216.0 340.5 210.0 354.0 201.0 366.0 201.8 377.4 210.0 381.4 216.0 381.4 228.0 377.4 234.0 366.0 242.2Z M366.0 240.5 360.0 242.6 354.0 241.4 342.8 234.0 338.6 228.0 338.6 216.0 342.8 210.0 354.0 202.6 360.0 201.4 366.0 203.5 375.3 210.0 379.3 216.0 379.3 228.0 375.3 234.0 366.0 240.5Z M360.0 241.0 345.1 234.0 339.4 222.0 345.1 210.0 360.0 203.0 372.8 210.0 378.4 222.0 372.8 234.0 360.0 241.0Z M366.0 237.1 360.0 239.3 354.0 238.1 343.0 228.0 343.0 216.0 354.0 205.9 360.0 204.7 366.0 206.9 375.1 216.0 375.1 228.0 366.0 237.1Z M366.0 235.0 360.0 237.7 354.0 236.2 345.2 228.0 343.7 222.0 345.2 216.0 354.0 207.8 360.0 206.3 367.4 210.0 372.7 216.0 374.3 222.0 372.7 228.0 366.0 235.0Z M360.0 235.8 354.0 234.1 348.0 228.2 346.1 222.0 348.0 215.8 354.0 209.9 360.0 208.2 370.2 216.0 371.8 222.0 370.2 228.0 360.0 235.8Z M366.0 229.7 360.0 233.6 350.5 228.0 348.6 222.0 354.0 212.6 360.0 210.4 367.5 216.0 369.4 222.0 366.0 229.7Z M360.0 231.1 353.6 228.0 351.3 222.0 353.6 216.0 360.0 212.9 364.2 216.0 366.7 222.0 364.2 228.0 360.0 231.1Z M360.0 228.1 354.7 222.0 360.0 215.9 363.4 222.0 360.0 228.1Z"/>
<path stroke="#9933ff" stroke-width="0.65" d="M270.0 338.0 264.0 338.4 252.0 332.6 244.0 318.0 247.0 300.0 258.0 289.4 264.0 288.1 276.0 290.3 288.0 302.7 300.0 305.8 302.1 312.0 289.9 318.0 282.0 330.2 270.0 338.0Z M270.0 336.8 258.0 335.4 252.0 331.1 245.1 318.0 244.5 312.0 247.9 300.0 258.0 290.4 264.0 288.9 276.0 291.5 288.0 304.2 298.0 306.0 301.1 312.0 288.0 317.6 281.0 330.0 270.0 336.8Z M276.0 333.3 270.0 335.6 258.0 334.4 247.9 324.0 246.6 306.0 249.0 300.0 258.0 291.5 270.0 290.1 276.0 292.8 288.0 306.0 295.2 306.0 299.8 312.0 288.0 315.3 284.2 324.0 276.0 333.3Z M276.0 332.0 270.0 334.7 258.0 333.2 249.0 324.0 247.4 306.0 250.3 300.0 258.0 292.9 270.0 291.2 281.6 300.0 288.0 310.8 294.0 308.0 297.2 312.0 288.0 312.6 282.8 324.0 276.0 332.0Z M276.0 330.4 264.0 334.0 258.0 331.9 250.3 324.0 247.9 318.0 248.4 306.0 258.0 294.3 270.0 292.5 276.0 295.5 284.8 306.0 286.8 312.0 281.6 324.0 276.0 330.4Z M294.0 312.1 294.0 312.1Z M270.0 332.4 258.0 330.4 249.0 318.0 248.4 312.0 252.0 301.7 258.0 295.5 264.0 293.5 276.0 296.9 285.0 312.0 280.4 324.0 270.0 332.4Z M270.0 330.9 258.0 329.0 250.2 318.0 252.0 304.1 258.0 296.9 264.0 294.7 276.0 298.5 282.9 312.0 279.1 324.0 270.0 330.9Z M276.0 325.7 270.0 329.5 264.0 329.9 254.5 324.0 250.8 312.0 258.0 298.5 270.0 296.4 280.0 306.0 280.6 318.0 276.0 325.7Z M270.0 328.1 264.0 328.6 258.0 325.8 252.9 318.0 253.6 306.0 258.0 300.3 264.0 297.3 270.0 297.9 276.0 302.4 280.1 312.0 276.0 323.7 270.0 328.1Z M270.0 326.5 264.0 327.1 258.0 323.8 254.3 318.0 255.2 306.0 264.0 299.0 270.0 299.6 276.0 304.7 278.7 312.0 276.0 321.1 270.0 326.5Z M270.0 324.6 264.0 325.3 255.9 318.0 256.9 306.0 264.0 300.7 270.0 301.4 275.0 306.0 277.1 312.0 276.1 318.0 270.0 324.6Z M270.0 322.5 264.0 323.3 257.7 318.0 258.0 308.2 264.0 302.7 270.0 303.5 275.3 312.0 274.1 318.0 270.0 322.5Z M270.0 319.9 264.0 321.0 260.5 318.0 258.7 312.0 264.0 304.9 270.0 305.9 273.2 312.0 270.0 319.9Z M264.0 318.3 261.5 312.0 264.0 308.3 270.8 312.0 270.0 315.0 264.0 318.3Z"/>
<path stroke="#1fdc1f" stroke-width="0.65" d="M222.0 342.0 208.0 324.0 206.2 306.0 215.6 288.0 234.0 275.3 240.0 276.1 252.0 283.5 261.0 294.0 265.7 306.0 263.8 324.0 250.1 342.0 M224.3 342.0 217.5 336.0 210.0 324.0 208.0 306.0 217.5 288.0 234.0 276.8 240.0 277.4 252.0 285.5 259.0 294.0 263.8 306.0 262.2 324.0 254.5 336.0 247.7 342.0 M227.0 342.0 214.9 330.0 209.3 312.0 214.9 294.0 222.0 285.7 234.0 278.2 240.0 279.0 252.0 287.8 262.2 306.0 260.4 324.0 252.2 336.0 245.0 342.0 M230.0 342.0 216.9 330.0 211.0 312.0 216.9 294.0 234.0 279.9 240.0 280.7 250.2 288.0 260.5 306.0 258.4 324.0 250.2 336.0 242.1 342.0 M233.6 342.0 218.8 330.0 212.7 312.0 218.8 294.0 234.0 281.8 240.0 282.6 252.0 292.6 256.6 300.0 259.2 312.0 253.1 330.0 246.0 337.6 235.4 342.0 M240.0 339.7 234.0 340.6 222.0 331.2 217.3 324.0 214.7 312.0 221.0 294.0 234.0 283.4 240.0 284.3 246.0 288.6 256.7 306.0 254.7 324.0 240.0 339.7Z M240.0 337.7 234.0 338.7 228.0 334.9 219.3 324.0 217.2 318.0 219.3 300.0 228.0 289.1 234.0 285.3 240.0 286.3 246.0 290.9 254.8 306.0 254.8 318.0 252.5 324.0 240.0 337.7Z M234.0 336.6 221.5 324.0 218.4 312.0 221.5 300.0 234.0 287.4 240.0 288.5 246.4 294.0 250.6 300.0 253.5 312.0 250.6 324.0 246.4 330.0 240.0 335.5 234.0 336.6Z M240.0 333.4 234.0 334.5 228.0 329.9 223.6 324.0 220.5 312.0 223.6 300.0 234.0 289.5 243.9 294.0 250.7 306.0 250.7 318.0 248.4 324.0 240.0 333.4Z M240.0 330.9 234.0 332.2 231.1 330.0 223.4 318.0 223.4 306.0 225.9 300.0 234.0 291.8 241.0 294.0 248.7 306.0 248.7 318.0 240.0 330.9Z M240.0 328.1 234.0 329.6 225.6 318.0 225.6 306.0 234.0 294.4 240.0 295.9 246.3 306.0 246.3 318.0 240.0 328.1Z M240.0 324.8 234.0 326.7 228.1 318.0 228.1 306.0 234.0 297.3 240.0 299.2 244.0 306.0 244.0 318.0 240.0 324.8Z M240.0 320.4 234.0 323.1 230.7 318.0 230.7 306.0 234.0 300.9 241.4 306.0 242.5 312.0 240.0 320.4Z M234.0 318.4 232.3 312.0 234.0 305.6 239.1 312.0 234.0 318.4Z"/>
<path stroke="#ff1a1a" stroke-width="0.9" d="M222.9 342.0 210.6 324.0 208.4 312.0 210.6 300.0 222.0 282.9 240.0 271.3 246.0 272.6 259.1 282.0 268.9 294.0 273.4 306.0 271.4 324.0 259.1 342.0 M223.6 342.0 211.2 324.0 209.5 312.0 211.2 300.0 222.0 283.6 240.0 271.9 252.0 276.9 263.7 288.0 272.6 306.0 272.6 318.0 268.2 330.0 257.9 342.0 M224.5 342.0 211.7 324.0 210.2 312.0 211.7 300.0 222.0 284.4 240.0 272.5 252.0 277.5 263.1 288.0 271.6 306.0 271.6 318.0 267.5 330.0 257.2 342.0 M225.5 342.0 212.4 324.0 211.0 306.0 219.5 288.0 228.0 279.8 240.0 273.2 252.0 278.2 258.0 283.4 269.2 300.0 271.4 312.0 269.2 324.0 256.5 342.0 M226.6 342.0 213.2 324.0 211.6 306.0 220.6 288.0 228.0 280.8 240.0 274.0 252.0 278.9 258.0 284.2 268.7 300.0 270.2 312.0 268.7 324.0 255.6 342.0 M227.9 342.0 214.2 324.0 212.3 306.0 221.8 288.0 234.0 277.2 240.0 274.9 252.0 279.8 258.0 285.1 268.0 300.0 269.7 312.0 268.0 324.0 254.6 342.0 M228.7 342.0 217.7 330.0 213.0 318.0 213.0 306.0 222.5 288.0 234.0 277.8 240.0 276.0 246.0 277.0 259.8 288.0 268.8 306.0 267.3 324.0 253.4 342.0 M229.6 342.0 218.5 330.0 213.9 318.0 213.9 306.0 223.1 288.0 234.0 278.5 240.0 276.4 246.0 277.5 258.6 288.0 268.2 306.0 266.4 324.0 252.0 342.0 M230.6 342.0 223.9 336.0 216.7 324.0 215.0 306.0 223.9 288.0 240.0 276.9 246.0 278.2 257.7 288.0 267.5 306.0 265.4 324.0 262.6 330.0 251.1 342.0 M231.8 342.0 220.3 330.0 215.2 312.0 220.3 294.0 228.0 284.8 240.0 277.4 246.0 278.9 257.0 288.0 266.7 306.0 266.7 318.0 261.9 330.0 250.1 342.0 M233.2 342.0 225.8 336.0 217.9 324.0 216.5 306.0 217.9 300.0 225.8 288.0 240.0 278.0 246.0 279.8 256.2 288.0 265.7 306.0 265.7 318.0 261.1 330.0 249.0 342.0 M234.6 342.0 226.9 336.0 218.6 324.0 217.0 306.0 218.6 300.0 226.9 288.0 240.0 278.7 252.0 284.8 260.1 294.0 265.5 312.0 260.1 330.0 247.6 342.0 M236.0 342.0 222.9 330.0 217.2 312.0 222.9 294.0 240.0 279.6 254.3 288.0 262.5 300.0 263.8 306.0 262.5 324.0 254.3 336.0 246.0 342.0 M237.6 342.0 223.6 330.0 217.8 312.0 223.6 294.0 234.0 283.5 240.0 280.5 252.0 286.9 257.9 294.0 261.7 300.0 263.7 312.0 261.7 324.0 257.9 330.0 252.0 337.1 243.6 342.0 M239.4 342.0 234.0 339.7 224.4 330.0 218.6 312.0 224.4 294.0 234.0 284.3 240.0 281.7 246.0 283.1 257.3 294.0 260.9 300.0 263.1 312.0 260.9 324.0 257.3 330.0 246.0 340.9 240.9 342.0 M246.0 340.2 240.0 341.6 230.8 336.0 222.4 324.0 219.4 312.0 225.4 294.0 234.0 285.2 240.0 282.4 246.0 283.8 252.0 288.9 262.0 306.0 259.9 324.0 246.0 340.2Z M246.0 339.3 240.0 341.1 228.0 331.8 223.0 324.0 220.4 312.0 226.5 294.0 240.0 282.9 246.0 284.7 252.0 289.8 261.2 306.0 261.2 318.0 258.8 324.0 246.0 339.3Z M246.0 338.4 240.0 340.4 234.0 336.6 223.7 324.0 222.2 318.0 223.7 300.0 233.3 288.0 240.0 283.6 246.0 285.6 254.8 294.0 261.0 312.0 254.8 330.0 246.0 338.4Z M246.0 337.3 240.0 339.6 234.0 335.6 224.5 324.0 222.8 318.0 224.5 300.0 240.0 284.4 246.0 286.7 253.7 294.0 260.1 312.0 257.2 324.0 246.0 337.3Z M246.0 336.0 240.0 338.7 234.0 334.8 223.4 318.0 225.4 300.0 240.0 285.3 252.4 294.0 256.5 300.0 259.0 312.0 256.5 324.0 246.0 336.0Z M240.0 337.7 230.2 330.0 224.2 318.0 223.6 312.0 224.2 306.0 230.2 294.0 240.0 286.3 246.0 288.7 255.7 300.0 257.9 312.0 255.7 324.0 246.0 335.3 240.0 337.7Z M240.0 336.5 231.3 330.0 225.0 318.0 224.3 312.0 225.0 306.0 231.3 294.0 240.0 287.5 250.6 294.0 254.8 300.0 257.3 312.0 254.8 324.0 250.6 330.0 240.0 336.5Z M246.0 333.4 240.0 335.6 232.5 330.0 225.2 312.0 228.5 300.0 240.0 288.4 249.6 294.0 256.1 306.0 256.1 318.0 246.0 333.4Z M246.0 332.3 240.0 334.8 234.0 330.0 229.3 324.0 226.2 312.0 229.3 300.0 240.0 289.2 248.4 294.0 255.2 306.0 255.2 318.0 246.0 332.3Z M246.0 331.0 240.0 333.9 230.2 324.0 228.2 318.0 230.2 300.0 240.0 290.1 247.0 294.0 254.2 306.0 254.2 318.0 246.0 331.0Z M240.0 332.8 231.2 324.0 228.3 312.0 231.2 300.0 240.0 291.2 250.7 300.0 254.0 312.0 250.7 324.0 240.0 332.8Z M240.0 331.6 232.3 324.0 229.0 312.0 232.3 300.0 240.0 292.4 249.7 300.0 252.8 312.0 249.7 324.0 240.0 331.6Z M240.0 330.2 233.7 324.0 229.8 312.0 233.7 300.0 240.0 293.8 248.6 300.0 251.8 312.0 248.6 324.0 240.0 330.2Z M246.0 325.6 240.0 329.1 231.7 318.0 231.7 306.0 240.0 294.9 246.0 298.4 250.3 306.0 250.3 318.0 246.0 325.6Z M240.0 327.9 232.9 318.0 231.8 312.0 232.9 306.0 240.0 296.1 246.0 300.2 250.2 312.0 246.0 323.8 240.0 327.9Z M240.0 326.6 234.2 318.0 233.0 312.0 234.2 306.0 240.0 297.4 246.0 302.1 249.2 312.0 246.0 321.9 240.0 326.6Z M240.0 325.0 235.2 318.0 234.3 312.0 235.2 306.0 240.0 299.0 246.0 304.5 248.1 312.0 246.0 319.5 240.0 325.0Z M240.0 323.2 235.2 312.0 240.0 300.8 245.3 306.0 246.8 312.0 245.3 318.0 240.0 323.2Z M240.0 321.3 236.3 312.0 240.0 302.7 245.2 312.0 240.0 321.3Z M240.0 319.1 237.6 312.0 240.0 304.9 243.4 312.0 240.0 319.1Z M240.0 315.1 240.0 308.9 240.0 315.1Z"/>
<path stroke="#ff8c1a" stroke-width="0.85" d="M230.1 342.0 218.4 330.0 213.3 318.0 212.9 306.0 221.8 288.0 240.0 274.4 246.0 274.4 258.2 282.0 268.7 294.0 273.1 306.0 272.7 318.0 267.6 330.0 255.9 342.0 M231.9 342.0 224.7 336.0 216.7 324.0 214.2 306.0 223.0 288.0 240.0 275.7 246.0 275.7 258.0 283.0 267.5 294.0 271.8 306.0 269.3 324.0 261.3 336.0 254.1 342.0 M233.9 342.0 226.2 336.0 217.8 324.0 215.7 306.0 224.3 288.0 240.0 276.7 246.0 276.7 258.0 284.3 266.1 294.0 270.3 306.0 268.2 324.0 259.8 336.0 252.1 342.0 M235.9 342.0 228.0 336.0 219.0 324.0 216.8 306.0 225.7 288.0 240.0 277.6 246.0 277.6 258.0 285.7 264.5 294.0 269.2 306.0 267.0 324.0 258.0 336.0 250.1 342.0 M238.2 342.0 223.9 330.0 217.5 312.0 222.7 294.0 240.0 278.7 246.0 278.7 258.0 287.5 268.1 306.0 265.5 324.0 258.0 334.6 247.8 342.0 M252.0 338.6 246.0 341.7 240.0 341.7 234.0 338.6 225.3 330.0 219.5 318.0 219.1 306.0 223.9 294.0 240.0 280.0 246.0 280.0 257.0 288.0 262.1 294.0 266.9 306.0 266.5 318.0 263.9 324.0 252.0 338.6Z M252.0 337.0 246.0 340.7 240.0 340.7 227.0 330.0 221.0 318.0 220.5 306.0 225.4 294.0 240.0 281.4 246.0 281.4 255.6 288.0 260.6 294.0 265.5 306.0 262.8 324.0 252.0 337.0Z M246.0 339.6 240.0 339.6 228.5 330.0 224.4 324.0 221.6 312.0 223.6 300.0 227.0 294.0 240.0 282.7 246.0 282.7 253.8 288.0 262.4 300.0 263.9 306.0 261.6 324.0 246.0 339.6Z M246.0 338.2 240.0 338.2 229.9 330.0 225.9 324.0 222.8 312.0 224.9 300.0 240.0 283.8 246.0 283.8 252.0 288.1 261.1 300.0 262.8 306.0 260.1 324.0 246.0 338.2Z M246.0 336.6 240.0 336.6 231.6 330.0 224.9 318.0 224.0 312.0 229.9 294.0 240.0 285.2 246.0 285.2 252.0 289.6 261.6 306.0 261.1 318.0 258.4 324.0 246.0 336.6Z M252.0 330.6 246.0 335.2 240.0 335.2 233.4 330.0 226.4 318.0 225.8 306.0 228.1 300.0 240.0 286.7 246.0 286.7 252.0 291.3 260.2 306.0 259.6 318.0 252.0 330.6Z M246.0 333.8 240.0 333.8 234.0 328.7 230.4 324.0 226.9 312.0 229.4 300.0 240.0 288.4 246.0 288.4 252.0 293.3 258.5 306.0 259.1 312.0 255.6 324.0 246.0 333.8Z M246.0 332.2 240.0 332.2 234.0 326.6 228.4 312.0 230.8 300.0 240.0 289.8 246.0 289.8 250.8 294.0 257.2 306.0 256.7 318.0 246.0 332.2Z M246.0 330.3 240.0 330.3 234.0 324.1 229.7 312.0 232.5 300.0 240.0 291.5 246.0 291.5 248.9 294.0 255.8 306.0 255.3 318.0 246.0 330.3Z M246.0 328.5 240.0 328.5 235.6 324.0 231.2 312.0 234.4 300.0 240.0 293.5 246.6 294.0 254.3 306.0 253.6 318.0 246.0 328.5Z M246.0 326.5 240.0 326.5 237.5 324.0 232.9 312.0 236.1 300.0 240.0 295.5 246.0 295.5 252.4 306.0 251.8 318.0 246.0 326.5Z M246.0 324.2 240.0 324.2 235.8 318.0 235.2 306.0 240.0 297.8 246.0 297.8 250.8 306.0 250.2 318.0 246.0 324.2Z M246.0 321.4 240.0 321.4 237.7 318.0 236.9 306.0 240.0 300.5 246.0 300.5 249.1 306.0 249.8 312.0 246.0 321.4Z M246.0 318.1 239.9 318.0 238.1 312.0 240.0 304.1 246.0 304.1 247.0 306.0 246.0 318.1Z"/>
<path d="M193 126.5H203" stroke="#9933ff" stroke-width="1"/></g>
<g clip-path="url(#cb)" fill="none">
<path stroke="#ff8c1a" stroke-width="0.65" d="M370.0 121.0 384.9 106.0 394.0 77.7 408.0 64.0 414.6 46.0 430.0 29.5 448.0 22.6 472.0 22.9 496.0 27.8 502.0 31.0 509.1 40.0 512.5 52.0 511.0 64.0 504.4 76.0 496.0 84.3 472.0 96.8 448.0 99.9 445.3 118.0 437.8 130.0 400.0 156.4 382.0 159.5 370.0 152.0 M370.0 122.6 386.0 106.0 394.0 79.3 409.6 64.0 415.9 46.0 430.0 30.5 448.0 23.3 472.0 23.6 496.0 28.8 507.8 40.0 511.6 52.0 509.9 64.0 503.0 76.0 496.0 82.9 484.0 91.1 472.0 95.8 448.0 98.8 444.4 118.0 436.4 130.0 400.0 155.0 394.0 157.9 382.0 158.6 370.0 150.6 M370.0 124.5 387.2 106.0 394.0 81.2 411.6 64.0 417.3 46.0 430.0 31.8 448.0 24.2 466.0 23.7 496.0 29.8 506.8 40.0 510.3 58.0 501.5 76.0 490.0 86.3 478.0 92.7 448.0 97.5 440.4 124.0 430.0 134.2 394.0 156.8 382.0 157.6 370.0 149.0 M370.0 126.6 388.0 106.7 394.6 82.0 400.0 75.0 412.0 66.4 418.6 46.0 430.0 33.2 448.0 25.1 466.0 24.6 496.0 31.1 505.7 40.0 509.1 58.0 500.3 76.0 478.0 91.8 448.0 96.1 439.4 124.0 430.0 133.0 400.0 152.7 388.0 157.0 376.0 153.4 370.0 147.0 M370.0 129.0 388.0 108.4 395.5 82.0 400.0 76.6 412.0 69.8 419.6 46.0 436.0 30.4 454.0 25.2 466.0 25.6 490.0 30.2 504.4 40.0 507.1 46.0 507.8 58.0 506.5 64.0 498.8 76.0 478.0 90.7 466.0 93.8 448.0 94.3 444.3 100.0 441.3 118.0 430.0 131.7 400.0 151.5 388.0 155.7 376.0 152.2 370.0 144.6 M370.0 133.2 374.6 124.0 388.0 110.4 396.7 82.0 413.7 70.0 420.9 46.0 430.0 35.7 442.0 29.0 460.0 26.2 490.0 31.4 502.8 40.0 506.1 46.0 506.9 58.0 505.4 64.0 497.2 76.0 484.0 86.4 472.0 91.9 446.2 94.0 442.9 100.0 440.5 118.0 430.0 130.1 400.0 150.1 388.0 154.2 376.0 150.7 370.0 141.3 M400.0 148.5 388.0 153.0 382.0 152.4 375.0 148.0 370.6 136.0 376.0 124.5 388.3 112.0 398.0 82.0 415.8 70.0 419.5 52.0 426.8 40.0 442.0 30.0 460.0 27.5 490.0 32.8 501.2 40.0 504.8 46.0 505.9 58.0 496.0 75.4 484.0 85.2 472.0 90.8 443.8 94.0 441.2 112.0 436.0 123.3 400.0 148.5Z M394.0 150.2 382.0 150.9 376.0 146.9 371.9 136.0 373.6 130.0 389.3 112.0 395.8 88.0 399.6 82.0 412.8 76.0 418.0 70.4 420.7 52.0 428.5 40.0 442.0 31.1 460.0 28.5 490.0 34.3 499.5 40.0 503.4 46.0 504.6 58.0 499.2 70.0 493.9 76.0 472.0 89.6 442.0 93.3 440.4 112.0 436.0 121.7 430.0 127.6 394.0 150.2Z M394.0 148.5 382.0 149.2 376.0 144.3 373.5 136.0 375.4 130.0 390.5 112.0 400.0 83.3 418.0 74.6 422.1 52.0 430.0 40.3 442.0 32.4 460.0 29.3 490.0 35.6 497.5 40.0 501.8 46.0 503.2 58.0 497.6 70.0 492.1 76.0 478.0 86.0 466.0 90.0 442.0 91.2 439.5 112.0 436.0 119.7 430.0 126.1 394.0 148.5Z M388.0 148.3 382.0 147.3 376.5 142.0 375.3 136.0 377.3 130.0 391.8 112.0 400.0 85.3 419.9 76.0 423.7 52.0 431.9 40.0 448.0 31.5 460.0 30.3 490.0 37.1 496.0 40.6 500.3 46.0 501.7 58.0 499.8 64.0 490.0 76.0 472.0 87.2 460.0 89.6 442.0 88.7 439.4 94.0 438.4 112.0 430.3 124.0 400.0 143.8 388.0 148.3Z M394.0 145.0 388.0 146.4 378.9 142.0 377.3 136.0 379.4 130.0 393.4 112.0 400.0 87.6 423.0 76.0 423.6 58.0 430.0 43.8 442.0 34.9 460.0 31.4 484.0 36.8 496.0 42.8 500.6 52.0 500.3 58.0 490.0 74.2 472.0 86.1 439.9 88.0 437.2 112.0 434.2 118.0 424.0 126.9 394.0 145.0Z M394.0 142.9 388.0 144.2 381.8 142.0 379.6 136.0 381.8 130.0 394.0 114.4 400.0 90.5 406.0 85.4 424.0 79.5 425.9 76.0 426.3 52.0 436.0 40.0 448.0 34.2 460.0 32.7 484.0 38.5 496.0 45.3 499.0 52.0 498.7 58.0 486.2 76.0 466.0 86.6 442.0 85.4 436.6 88.0 437.0 106.0 432.5 118.0 394.0 142.9Z M400.0 137.4 388.0 141.5 382.5 136.0 394.2 118.0 400.0 93.8 406.0 87.7 429.2 82.0 426.2 58.0 427.9 52.0 436.0 41.5 448.0 35.2 460.0 34.1 478.0 38.0 494.1 46.0 497.1 52.0 496.9 58.0 494.4 64.0 484.0 75.9 466.0 85.4 436.0 83.6 433.4 88.0 435.7 106.0 430.6 118.0 400.0 137.4Z M466.0 84.1 448.0 83.6 436.0 80.0 431.8 76.0 427.8 58.0 433.2 46.0 442.0 39.1 454.0 35.3 466.0 35.8 490.0 45.2 494.9 52.0 494.8 58.0 488.0 70.0 478.0 78.9 466.0 84.1Z M394.0 137.2 387.0 136.0 388.2 130.0 396.6 118.0 402.4 94.0 412.0 88.5 424.0 86.5 430.0 88.2 434.2 106.0 430.0 116.0 394.0 137.2Z M466.0 82.5 454.0 83.4 442.0 80.2 436.0 77.0 431.1 70.0 429.6 58.0 431.2 52.0 442.0 40.7 454.0 36.5 466.0 37.1 487.2 46.0 492.4 52.0 492.5 58.0 485.8 70.0 478.0 77.1 466.0 82.5Z M400.0 130.6 393.8 130.0 399.4 118.0 405.4 94.0 424.0 89.6 430.0 92.6 432.5 106.0 430.0 113.0 424.0 118.7 400.0 130.6Z M472.0 79.1 454.0 81.8 442.0 78.4 436.0 74.0 431.2 64.0 431.1 58.0 437.3 46.0 448.0 39.5 460.0 37.7 478.0 43.2 489.4 52.0 487.7 64.0 472.0 79.1Z M418.0 119.2 406.0 123.1 403.7 118.0 405.2 100.0 412.0 94.2 424.0 92.7 430.0 98.7 430.5 106.0 427.6 112.0 418.0 119.2Z M472.0 77.4 454.0 80.6 442.0 76.3 436.0 70.9 432.8 58.0 439.6 46.0 448.0 41.0 460.0 39.3 472.0 42.1 485.9 52.0 487.2 58.0 485.2 64.0 472.0 77.4Z M418.0 114.9 412.0 116.1 409.3 112.0 410.9 100.0 424.0 97.3 426.9 106.0 424.0 111.6 418.0 114.9Z M466.0 78.2 448.0 77.5 437.6 70.0 434.7 58.0 442.2 46.0 448.0 42.5 460.0 40.8 472.0 44.0 482.5 52.0 482.8 64.0 478.0 70.7 466.0 78.2Z M466.0 76.4 454.0 77.4 440.1 70.0 436.7 58.0 438.9 52.0 445.2 46.0 460.0 42.3 471.9 46.0 479.2 52.0 481.6 58.0 480.3 64.0 476.2 70.0 466.0 76.4Z M472.0 71.2 460.0 75.8 448.0 73.6 439.1 64.0 441.3 52.0 454.0 44.3 466.0 45.3 472.0 48.5 478.6 58.0 477.6 64.0 472.0 71.2Z M466.0 72.5 454.0 73.7 446.1 70.0 441.6 64.0 441.1 58.0 444.1 52.0 454.0 46.3 460.0 46.0 472.9 52.0 475.9 58.0 475.1 64.0 466.0 72.5Z M466.0 70.1 454.0 71.5 448.0 68.4 444.4 64.0 443.7 58.0 447.3 52.0 460.0 48.1 469.1 52.0 473.0 58.0 472.1 64.0 466.0 70.1Z M466.0 66.6 460.0 69.3 454.0 68.8 447.5 64.0 446.7 58.0 454.0 51.1 464.1 52.0 469.6 58.0 466.0 66.6Z M460.0 66.0 452.2 64.0 450.9 58.0 454.0 55.0 460.0 54.1 465.6 58.0 463.8 64.0 460.0 66.0Z"/>
<path stroke="#ff1a1a" stroke-width="0.65" d="M370.0 124.5 388.0 107.0 394.7 82.0 405.6 64.0 408.4 46.0 415.2 34.0 424.0 25.5 442.0 17.1 466.0 16.7 496.0 23.3 508.9 34.0 513.2 46.0 513.0 58.0 504.2 76.0 484.0 92.3 472.0 97.9 454.0 101.7 451.3 106.0 447.8 124.0 436.0 138.9 412.0 156.0 394.0 164.9 382.0 164.1 370.0 154.4 M370.0 126.1 388.0 108.2 395.4 82.0 406.0 66.5 409.6 46.0 416.6 34.0 424.0 26.9 442.0 17.9 460.0 16.8 496.0 24.4 507.6 34.0 510.9 40.0 512.7 52.0 507.2 70.0 484.0 91.2 472.0 96.9 453.9 100.0 450.1 106.0 447.2 124.0 436.0 137.6 406.0 158.8 394.0 164.1 382.0 163.2 370.0 152.9 M370.0 127.9 388.0 109.6 396.1 82.0 406.1 70.0 409.0 52.0 413.6 40.0 430.0 23.9 448.0 17.7 466.0 18.3 496.0 25.8 506.3 34.0 511.8 52.0 506.1 70.0 484.0 90.0 472.0 95.8 451.7 100.0 448.7 106.0 446.4 124.0 436.0 136.1 406.0 157.8 394.0 163.1 382.0 162.1 370.0 151.3 M370.0 130.0 388.0 111.3 396.9 82.0 407.6 70.0 410.2 52.0 414.7 40.0 430.0 25.0 448.0 18.6 460.0 18.4 496.0 27.3 504.9 34.0 510.8 52.0 504.8 70.0 493.2 82.0 478.0 92.3 449.2 100.0 445.5 124.0 436.0 135.1 406.0 156.6 394.0 161.9 382.0 160.8 376.0 157.3 370.0 149.4 M370.0 132.9 375.6 124.0 388.5 112.0 397.9 82.0 409.2 70.0 413.1 46.0 424.0 30.7 442.0 21.2 460.0 19.4 496.0 28.7 503.3 34.0 507.1 40.0 509.6 52.0 503.3 70.0 478.0 91.2 448.0 99.2 446.6 118.0 436.0 134.0 406.0 155.2 394.0 160.6 382.0 159.6 374.1 154.0 370.0 146.7 M370.0 137.9 372.2 130.0 389.3 112.0 399.0 82.0 411.1 70.0 414.2 46.0 424.0 32.1 436.0 24.1 454.0 20.3 496.0 30.1 502.0 34.6 505.9 40.0 508.2 52.0 505.6 64.0 501.7 70.0 478.0 90.0 448.0 97.6 445.7 118.0 436.0 132.8 406.0 153.8 394.0 159.4 382.0 158.6 375.6 154.0 370.0 142.8 M400.0 156.2 388.0 158.8 382.0 157.4 372.5 148.0 371.1 136.0 376.0 126.9 390.3 112.0 400.0 82.3 412.0 71.9 413.6 52.0 418.8 40.0 436.0 25.3 454.0 21.6 472.0 24.0 499.2 34.0 504.5 40.0 507.1 52.0 504.2 64.0 500.2 70.0 484.0 85.0 472.0 91.6 448.0 95.8 444.8 118.0 437.3 130.0 400.0 156.2Z M400.0 154.7 388.0 157.7 382.0 156.0 373.9 148.0 372.3 136.0 376.0 128.9 391.4 112.0 400.0 83.8 412.0 75.6 414.7 52.0 420.0 40.0 430.0 30.0 448.0 22.9 466.0 23.5 496.7 34.0 502.8 40.0 506.0 52.0 505.1 58.0 498.6 70.0 484.0 83.5 472.0 90.5 447.8 94.0 440.8 124.0 430.0 134.6 400.0 154.7Z M394.0 155.7 382.0 154.4 376.0 148.8 373.3 142.0 373.7 136.0 392.7 112.0 400.0 85.6 414.1 76.0 416.0 52.0 421.4 40.0 436.0 28.1 454.0 23.4 466.0 24.5 496.0 35.3 502.0 41.9 504.6 52.0 501.0 64.0 496.6 70.0 484.0 81.9 472.0 89.1 445.9 94.0 443.8 112.0 439.7 124.0 430.0 133.3 394.0 155.7Z M394.0 154.1 382.0 152.7 377.1 148.0 375.3 136.0 394.0 112.3 400.0 87.6 416.8 76.0 417.6 52.0 424.0 38.8 436.0 29.1 454.0 24.3 466.0 25.7 496.0 37.2 502.0 45.6 503.1 52.0 499.4 64.0 494.8 70.0 478.0 85.0 466.0 90.2 443.8 94.0 442.6 112.0 438.4 124.0 412.0 144.1 394.0 154.1Z M400.0 150.3 388.0 153.1 382.0 150.8 376.5 142.0 377.0 136.0 394.0 114.8 400.0 89.8 419.2 76.0 418.8 52.0 424.6 40.0 436.0 30.2 454.0 25.5 472.0 29.0 496.0 39.5 500.5 46.0 501.4 52.0 500.4 58.0 493.0 70.0 472.0 86.7 460.0 90.2 448.0 90.5 442.0 93.4 441.6 112.0 436.8 124.0 400.0 150.3Z M400.0 148.5 388.0 151.4 382.0 148.7 378.2 142.0 378.7 136.0 394.0 117.7 400.0 92.4 406.0 85.4 418.0 81.3 421.3 76.0 419.9 52.0 426.0 40.0 436.0 31.6 454.0 26.8 472.0 30.1 496.0 42.4 499.7 52.0 498.6 58.0 490.8 70.0 472.0 85.6 442.0 90.7 440.7 112.0 436.0 123.0 400.0 148.5Z M394.0 149.1 388.0 149.4 382.0 145.2 380.7 136.0 395.4 118.0 400.6 94.0 406.0 87.4 421.5 82.0 423.9 76.0 420.9 64.0 421.3 52.0 430.0 37.6 442.0 30.1 460.0 28.4 472.0 31.5 496.0 45.7 496.5 58.0 483.2 76.0 466.0 86.5 441.7 88.0 439.2 94.0 439.6 112.0 436.0 120.8 430.0 126.9 394.0 149.1Z M400.0 144.5 388.0 146.9 382.8 142.0 383.1 136.0 397.1 118.0 402.3 94.0 406.0 89.5 426.2 82.0 421.9 58.0 425.2 46.0 429.6 40.0 442.0 31.4 460.0 29.4 472.0 33.0 493.0 46.0 495.3 52.0 494.2 58.0 481.4 76.0 466.0 85.3 438.0 88.0 438.9 106.0 436.0 118.3 430.0 125.0 400.0 144.5Z M466.0 83.9 436.0 85.4 430.0 80.5 423.6 58.0 426.6 46.0 436.0 36.1 448.0 31.0 460.0 30.6 472.0 34.6 489.3 46.0 492.4 52.0 488.8 64.0 479.2 76.0 466.0 83.9Z M400.0 142.0 394.0 144.3 388.0 143.5 386.0 136.0 399.1 118.0 404.2 94.0 430.0 83.7 437.1 100.0 437.0 112.0 434.3 118.0 428.4 124.0 400.0 142.0Z M466.0 82.3 448.0 83.7 436.0 81.0 430.0 74.7 425.5 64.0 425.8 52.0 436.0 37.8 448.0 32.4 460.0 32.0 472.0 36.0 485.7 46.0 489.2 52.0 486.7 64.0 477.0 76.0 466.0 82.3Z M400.0 138.7 394.0 140.6 390.0 136.0 401.6 118.0 406.0 94.7 412.0 91.6 430.0 89.6 433.3 94.0 436.2 106.0 432.2 118.0 400.0 138.7Z M460.0 82.4 448.0 82.0 436.0 78.4 427.1 64.0 427.3 52.0 430.3 46.0 442.0 35.9 454.0 33.2 466.0 35.0 478.0 42.0 486.2 52.0 486.5 58.0 480.8 70.0 472.0 78.0 460.0 82.4Z M406.0 131.2 400.0 131.9 399.2 130.0 404.5 118.0 406.0 99.1 413.0 94.0 424.0 92.0 430.0 93.3 434.3 106.0 430.0 117.6 406.0 131.2Z M472.0 76.1 466.0 79.5 454.0 81.4 442.0 79.1 436.0 75.5 431.4 70.0 428.1 58.0 432.0 46.0 438.1 40.0 448.0 35.3 460.0 34.9 472.6 40.0 479.8 46.0 483.7 58.0 478.5 70.0 472.0 76.1Z M412.0 124.0 409.0 118.0 409.7 100.0 424.0 95.2 430.0 97.7 432.1 106.0 430.0 113.5 424.0 119.0 412.0 124.0Z M466.0 77.8 448.0 79.2 440.0 76.0 433.5 70.0 430.7 64.0 430.9 52.0 434.0 46.0 442.0 39.3 454.0 36.0 466.0 38.1 477.0 46.0 480.9 52.0 480.2 64.0 476.4 70.0 466.0 77.8Z M424.0 114.1 418.0 115.8 414.9 112.0 413.9 106.0 417.9 100.0 425.8 100.0 428.9 106.0 424.0 114.1Z M460.0 78.0 442.0 75.1 432.5 64.0 432.7 52.0 436.0 46.5 448.0 38.5 460.0 38.0 466.0 40.1 474.5 46.0 478.2 52.0 479.4 58.0 474.0 70.0 460.0 78.0Z M460.0 76.1 454.0 76.7 442.0 73.0 434.6 64.0 434.8 52.0 438.8 46.0 448.0 40.4 454.0 39.3 466.0 41.9 476.0 52.0 475.7 64.0 471.4 70.0 460.0 76.1Z M466.0 71.9 454.0 74.9 441.4 70.0 435.7 58.0 441.6 46.0 454.0 41.1 468.7 46.0 473.5 52.0 474.8 58.0 473.3 64.0 466.0 71.9Z M460.0 72.3 448.0 71.6 439.4 64.0 439.4 52.0 448.0 44.4 460.0 43.7 470.8 52.0 472.3 58.0 470.7 64.0 460.0 72.3Z M454.0 70.6 448.0 69.0 442.3 64.0 440.5 58.0 442.3 52.0 448.0 47.0 454.0 45.4 466.0 49.9 469.7 58.0 466.0 66.0 454.0 70.6Z M460.0 66.9 454.0 67.9 445.9 64.0 443.6 58.0 448.0 50.2 454.0 48.1 464.1 52.0 466.6 58.0 464.1 64.0 460.0 66.9Z M454.0 64.7 447.2 58.0 454.0 51.3 460.0 53.2 462.6 58.0 460.0 62.8 454.0 64.7Z"/>
<path stroke="#1fdc1f" stroke-width="0.65" d="M424.0 119.1 412.0 120.0 400.0 116.1 384.7 100.0 378.9 76.0 384.6 52.0 394.0 40.7 406.0 35.3 448.0 31.8 460.0 34.1 474.8 46.0 478.7 58.0 477.3 70.0 470.6 82.0 445.4 106.0 436.0 113.6 424.0 119.1Z M430.0 114.3 418.0 117.6 406.0 116.3 391.1 106.0 383.9 94.0 381.0 82.0 383.7 58.0 394.0 42.9 406.0 37.4 448.0 34.3 460.0 36.5 466.1 40.0 475.0 52.0 475.0 70.0 466.0 83.8 430.0 114.3Z M424.0 113.9 406.0 113.7 394.0 106.0 389.2 100.0 382.8 82.0 385.4 58.0 394.0 45.6 406.0 39.7 448.0 36.6 460.0 39.3 468.7 46.0 472.2 52.0 473.8 58.0 472.2 70.0 464.3 82.0 442.0 102.5 424.0 113.9Z M418.0 112.3 400.0 108.1 388.2 94.0 384.5 82.0 384.2 70.0 390.9 52.0 400.0 43.9 406.0 41.9 448.0 39.4 460.0 42.4 466.0 47.2 471.0 58.0 469.3 70.0 466.0 75.8 436.0 104.2 418.0 112.3Z M424.0 108.0 406.0 108.2 394.0 99.3 386.4 82.0 386.1 70.0 389.6 58.0 394.0 51.4 406.0 44.4 430.0 44.7 448.0 42.3 460.0 45.9 467.9 58.0 466.0 70.1 460.0 78.3 436.5 100.0 424.0 108.0Z M418.0 106.4 406.0 105.1 400.0 101.7 390.2 88.0 388.2 70.0 394.0 54.9 406.0 47.1 430.0 48.2 448.0 45.7 460.0 50.5 464.2 58.0 464.4 64.0 460.0 73.1 431.7 100.0 418.0 106.4Z M424.0 101.0 412.0 103.4 406.0 101.9 396.3 94.0 390.0 76.0 394.0 59.2 400.0 52.6 406.0 50.0 454.0 51.3 459.9 58.0 460.2 64.0 457.3 70.0 424.0 101.0Z M424.0 96.8 418.0 99.3 406.0 98.2 395.7 88.0 392.7 70.0 398.2 58.0 406.0 53.3 412.0 53.0 430.0 57.1 448.0 55.7 453.1 58.0 454.3 64.0 450.0 70.0 424.0 96.8Z M418.0 95.0 406.0 94.0 400.0 89.0 396.4 82.0 395.6 70.0 397.7 64.0 406.0 57.0 418.0 58.6 429.6 64.0 435.2 70.0 427.6 88.0 418.0 95.0Z M418.0 89.5 412.0 90.7 406.0 88.9 400.1 82.0 398.9 70.0 406.0 61.6 417.5 64.0 424.0 70.0 426.0 76.0 424.8 82.0 418.0 89.5Z M412.0 83.3 406.0 80.6 404.1 76.0 406.0 68.7 412.0 68.9 417.1 76.0 412.0 83.3Z"/>
<path stroke="#9933ff" stroke-width="0.65" d="M424.0 114.0 406.0 113.0 390.3 100.0 384.5 82.0 388.0 62.8 400.0 46.5 424.0 31.7 448.0 24.3 466.0 27.1 476.2 34.0 483.8 46.0 485.6 58.0 482.7 70.0 474.2 82.0 466.0 88.9 436.0 109.0 424.0 114.0Z M430.0 108.8 412.0 111.4 400.0 106.2 394.0 100.1 387.3 82.0 390.4 64.0 405.1 46.0 430.0 32.0 448.0 27.1 466.0 30.1 472.0 34.0 480.9 46.0 482.8 58.0 479.7 70.0 466.0 85.5 430.0 108.8Z M424.0 107.5 412.0 108.0 406.0 106.0 394.0 94.3 390.3 82.0 394.0 63.5 406.0 49.1 430.0 35.3 448.0 30.0 466.0 33.5 473.9 40.0 479.4 52.0 476.3 70.0 460.0 86.2 424.0 107.5Z M430.0 101.4 412.0 104.2 400.0 96.8 393.7 82.0 397.4 64.0 412.0 48.9 436.0 36.3 454.0 33.2 466.0 37.3 472.0 43.1 476.1 52.0 475.4 64.0 472.6 70.0 460.5 82.0 430.0 101.4Z M418.0 100.7 406.0 97.0 399.0 88.0 398.8 70.0 406.0 58.6 418.0 49.6 442.0 38.0 454.0 36.8 466.0 42.0 472.0 51.2 472.9 58.0 468.3 70.0 460.0 78.0 435.2 94.0 418.0 100.7Z M424.0 94.9 412.0 94.9 404.1 88.0 401.7 76.0 407.0 64.0 418.0 54.9 442.0 42.3 454.0 41.0 464.0 46.0 468.6 58.0 463.0 70.0 424.0 94.9Z M424.0 88.8 412.0 88.3 407.6 82.0 407.2 76.0 412.0 66.6 442.0 47.9 454.0 46.1 460.0 49.6 463.2 58.0 460.0 65.7 424.0 88.8Z M448.0 64.3 438.3 64.0 442.1 58.0 448.0 55.5 454.0 57.1 448.0 64.3Z M424.0 76.7 417.6 76.0 424.0 72.2 424.0 76.7Z"/>
<path stroke="#2a2aff" stroke-width="0.65" d="M418.0 112.3 406.0 110.7 395.1 100.0 391.5 88.0 395.2 70.0 406.0 57.3 440.2 34.0 454.0 30.6 467.3 34.0 474.8 40.0 480.7 52.0 480.3 64.0 477.8 70.0 466.0 81.9 448.0 91.3 430.0 107.0 418.0 112.3Z M424.0 107.5 412.0 109.5 406.0 107.5 398.2 100.0 394.1 88.0 398.2 70.0 406.0 60.8 442.0 36.3 454.0 33.6 466.0 36.7 472.0 41.5 477.5 52.0 477.1 64.0 474.3 70.0 466.0 78.5 442.0 91.8 424.0 107.5Z M418.0 106.2 406.0 103.8 398.3 94.0 396.9 82.0 401.6 70.0 412.0 60.3 442.0 40.0 454.0 36.9 466.0 40.6 474.1 52.0 473.6 64.0 470.3 70.0 463.7 76.0 442.0 87.1 429.4 100.0 418.0 106.2Z M418.0 102.5 406.9 100.0 401.9 94.0 400.1 82.0 405.7 70.0 448.0 41.6 460.0 41.8 466.0 45.5 470.9 58.0 466.0 69.3 442.0 81.7 424.0 100.0 418.0 102.5Z M424.0 94.8 418.0 98.1 412.0 97.9 406.5 94.0 403.9 88.0 406.0 76.0 412.0 69.8 430.0 62.4 448.0 46.3 460.0 46.9 464.9 52.0 466.3 58.0 464.2 64.0 457.4 70.0 436.0 78.3 424.0 94.8Z M454.0 64.3 447.1 64.0 445.4 58.0 454.0 51.8 459.3 58.0 454.0 64.3Z M418.0 91.8 412.0 91.3 409.3 82.0 412.0 77.2 418.0 74.2 424.4 76.0 425.4 82.0 418.0 91.8Z"/>
<path stroke="#2a2aff" stroke-width="0.65" d="M562.0 70.8 544.0 74.4 526.0 69.7 518.0 64.0 514.2 58.0 514.2 46.0 520.0 38.1 532.0 31.5 550.0 29.8 562.0 33.2 572.0 40.0 577.3 52.0 572.0 64.0 562.0 70.8Z M556.0 71.9 538.0 72.8 520.0 64.0 514.4 52.0 520.0 40.0 532.0 32.8 544.0 30.6 556.0 32.1 570.2 40.0 575.7 52.0 574.3 58.0 568.0 65.9 556.0 71.9Z M556.0 70.5 544.0 72.3 526.0 67.2 517.2 58.0 517.2 46.0 526.0 36.8 538.0 32.4 550.0 32.1 562.0 35.7 572.7 46.0 573.9 52.0 572.7 58.0 568.1 64.0 556.0 70.5Z M550.0 70.6 532.0 68.7 523.9 64.0 517.5 52.0 523.9 40.0 532.0 35.3 544.0 33.1 556.0 34.7 568.0 42.1 572.5 52.0 571.1 58.0 562.0 66.8 550.0 70.6Z M562.0 65.2 550.0 69.3 532.0 67.3 520.9 58.0 519.4 52.0 520.9 46.0 532.0 36.7 544.0 34.4 556.0 35.9 568.0 44.5 570.8 52.0 569.1 58.0 562.0 65.2Z M556.0 66.6 544.0 68.5 529.0 64.0 522.8 58.0 521.2 52.0 522.8 46.0 529.0 40.0 538.0 36.2 550.0 35.8 561.0 40.0 567.1 46.0 568.8 52.0 567.1 58.0 556.0 66.6Z M556.0 65.0 544.0 67.2 532.0 64.0 525.0 58.0 523.1 52.0 525.0 46.0 538.0 37.6 550.0 37.2 557.9 40.0 565.1 46.0 566.9 52.0 565.1 58.0 556.0 65.0Z M550.0 65.2 538.0 64.7 532.0 62.0 527.3 58.0 525.3 52.0 527.3 46.0 536.2 40.0 544.0 38.3 556.0 40.8 562.0 45.3 564.8 52.0 562.7 58.0 550.0 65.2Z M556.0 61.1 544.0 63.9 532.0 59.8 527.6 52.0 530.0 46.0 544.0 40.1 556.0 42.9 562.4 52.0 556.0 61.1Z M556.0 58.7 550.0 61.5 538.0 60.9 533.1 58.0 530.2 52.0 533.1 46.0 538.0 43.1 550.0 42.5 556.9 46.0 559.8 52.0 556.0 58.7Z M550.0 59.3 537.2 58.0 533.3 52.0 537.2 46.0 544.0 44.0 552.6 46.0 556.8 52.0 550.0 59.3Z M550.0 55.3 544.0 57.2 537.1 52.0 544.0 46.8 552.7 52.0 550.0 55.3Z"/>
<path stroke="#9933ff" stroke-width="0.65" d="M562.0 71.3 544.0 75.2 526.0 72.3 514.0 64.0 509.9 58.0 509.9 46.0 520.0 35.0 532.0 29.9 550.0 29.2 562.0 32.7 572.2 40.0 577.3 52.0 572.2 64.0 562.0 71.3Z M556.0 72.4 538.0 74.0 520.0 67.6 511.6 58.0 510.3 52.0 515.7 40.0 532.0 31.0 544.0 29.7 556.0 31.6 568.0 38.0 574.2 46.0 574.2 58.0 568.0 66.0 556.0 72.4Z M556.0 71.0 538.0 72.9 520.0 65.9 513.5 58.0 513.5 46.0 520.0 38.1 532.0 32.3 550.0 31.4 562.0 35.5 572.6 46.0 573.8 52.0 572.6 58.0 568.1 64.0 556.0 71.0Z M550.0 71.3 532.0 70.2 520.0 63.9 515.3 58.0 514.0 52.0 515.3 46.0 520.1 40.0 532.0 33.8 544.0 32.1 556.0 34.4 566.0 40.0 570.8 46.0 570.8 58.0 562.0 67.0 550.0 71.3Z M544.0 70.4 526.0 66.5 517.2 58.0 517.2 46.0 526.0 37.5 538.0 33.9 550.0 34.2 562.0 38.8 568.7 46.0 570.4 52.0 568.7 58.0 563.6 64.0 556.0 68.3 544.0 70.4Z M556.0 66.8 538.0 68.9 526.0 64.6 519.3 58.0 517.6 52.0 519.3 46.0 532.0 36.5 544.0 34.8 556.0 37.2 566.7 46.0 568.2 52.0 566.7 58.0 556.0 66.8Z M556.0 65.0 544.0 67.8 528.2 64.0 521.6 58.0 519.8 52.0 521.6 46.0 528.2 40.0 538.0 36.5 556.0 39.0 564.5 46.0 566.3 52.0 564.5 58.0 556.0 65.0Z M550.0 65.4 538.0 65.9 526.0 60.0 522.0 52.0 524.0 46.0 538.0 38.1 556.0 41.0 561.9 46.0 564.0 52.0 561.9 58.0 550.0 65.4Z M544.0 64.5 532.0 61.9 526.8 58.0 524.5 52.0 526.8 46.0 532.0 42.1 544.0 39.5 559.2 46.0 561.5 52.0 559.2 58.0 544.0 64.5Z M556.0 58.0 550.0 61.4 538.0 62.0 530.1 58.0 527.3 52.0 530.1 46.0 538.0 42.0 550.0 42.6 556.0 46.0 558.7 52.0 556.0 58.0Z M550.0 58.9 538.0 59.7 530.5 52.0 538.0 44.3 550.0 45.1 555.5 52.0 550.0 58.9Z M550.0 54.0 544.0 57.6 538.0 55.9 534.8 52.0 538.0 48.1 544.0 46.4 550.0 50.0 550.0 54.0Z"/>
<path stroke="#1fdc1f" stroke-width="0.65" d="M556.0 70.9 544.0 72.6 526.0 67.7 517.1 58.0 517.1 52.0 526.0 42.3 538.0 38.0 550.0 37.7 562.0 41.3 568.9 46.0 572.8 52.0 572.8 58.0 568.0 64.8 556.0 70.9Z M550.0 71.3 532.0 69.3 522.6 64.0 518.5 58.0 518.5 52.0 522.6 46.0 532.0 40.7 544.0 38.4 556.0 40.2 567.3 46.0 571.6 52.0 571.6 58.0 562.0 67.8 550.0 71.3Z M550.0 70.1 532.0 68.4 524.3 64.0 520.2 58.0 520.2 52.0 524.3 46.0 532.0 41.6 544.0 39.5 556.0 41.0 565.7 46.0 570.1 52.0 570.1 58.0 562.0 66.6 550.0 70.1Z M562.0 65.3 550.0 69.3 532.0 67.4 521.4 58.0 521.4 52.0 532.0 42.6 544.0 40.4 556.0 41.9 563.8 46.0 568.4 52.0 568.4 58.0 562.0 65.3Z M556.0 67.1 544.0 68.8 532.0 66.3 522.9 58.0 522.9 52.0 528.2 46.0 538.0 41.8 556.0 42.9 566.9 52.0 566.9 58.0 556.0 67.1Z M556.0 65.9 544.0 67.9 532.0 64.9 524.7 58.0 524.7 52.0 530.4 46.0 538.0 42.8 556.0 44.1 565.4 52.0 565.4 58.0 556.0 65.9Z M556.0 64.5 544.0 66.9 533.1 64.0 526.6 58.0 526.6 52.0 538.0 44.0 556.0 45.5 563.5 52.0 563.5 58.0 556.0 64.5Z M550.0 65.2 538.0 64.6 532.0 61.5 528.4 58.0 528.4 52.0 538.0 45.4 550.0 44.8 556.0 47.1 561.5 52.0 561.5 58.0 550.0 65.2Z M544.0 64.3 530.6 58.0 532.0 50.6 544.0 45.7 550.0 46.3 559.4 52.0 559.4 58.0 556.0 61.0 544.0 64.3Z M556.0 58.9 550.0 62.1 538.0 61.3 533.1 58.0 533.1 52.0 538.0 48.7 550.0 47.9 557.0 52.0 556.0 58.9Z M550.0 60.2 538.0 59.3 536.1 58.0 536.1 52.0 544.0 49.0 553.8 52.0 553.8 58.0 550.0 60.2Z M550.0 58.0 540.8 58.0 540.8 52.0 550.0 52.0 550.0 58.0Z"/>
<path stroke="#ff8c1a" stroke-width="0.65" d="M586.0 53.3 568.0 57.4 550.0 55.3 538.0 46.7 535.6 40.0 544.0 29.8 556.0 25.1 568.0 24.1 580.0 26.3 592.0 32.9 596.4 40.0 595.0 46.0 586.0 53.3Z M586.0 52.2 574.0 56.5 556.0 56.2 544.0 51.1 538.5 46.0 536.8 40.0 539.8 34.0 550.0 28.1 562.0 24.8 574.0 25.3 586.0 29.5 595.4 40.0 593.7 46.0 586.0 52.2Z M580.0 54.5 562.0 56.4 550.0 53.6 539.4 46.0 538.2 40.0 544.0 31.6 556.0 26.6 568.0 25.4 580.0 28.1 590.8 34.0 594.2 40.0 592.0 46.3 580.0 54.5Z M580.0 53.6 568.0 56.0 556.0 55.0 544.0 49.2 540.6 46.0 539.1 40.0 542.5 34.0 550.0 29.3 568.0 26.1 580.0 28.6 589.6 34.0 592.9 40.0 591.2 46.0 580.0 53.6Z M580.0 52.6 568.0 55.4 556.0 54.2 544.0 48.0 540.1 40.0 544.0 34.0 556.0 28.3 568.0 27.0 580.0 29.3 588.2 34.0 591.6 40.0 590.1 46.0 580.0 52.6Z M574.0 53.8 562.0 54.5 550.0 50.9 543.4 46.0 541.3 40.0 545.3 34.0 556.0 28.9 580.0 30.0 586.6 34.0 590.6 40.0 586.0 48.5 574.0 53.8Z M574.0 52.8 562.0 53.6 550.0 50.0 544.8 46.0 542.7 40.0 546.8 34.0 556.0 29.5 568.0 28.5 580.0 30.8 589.4 40.0 586.0 47.2 574.0 52.8Z M568.0 52.9 556.0 51.4 546.1 46.0 544.2 40.0 548.5 34.0 556.0 30.3 568.0 29.1 583.6 34.0 588.0 40.0 585.7 46.0 580.0 50.1 568.0 52.9Z M580.0 49.0 568.0 51.9 556.0 50.7 547.7 46.0 545.5 40.0 556.0 31.1 574.0 30.6 581.7 34.0 586.4 40.0 584.3 46.0 580.0 49.0Z M580.0 47.9 568.0 51.2 556.0 49.8 549.5 46.0 546.9 40.0 556.0 32.1 574.0 31.5 585.0 40.0 580.0 47.9Z M580.0 46.5 574.0 49.4 562.0 50.2 551.3 46.0 548.5 40.0 556.0 33.3 574.0 32.5 583.5 40.0 580.0 46.5Z M574.0 48.4 562.0 49.3 556.0 47.5 550.4 40.0 562.0 32.7 574.0 33.7 581.7 40.0 578.6 46.0 574.0 48.4Z M574.0 47.1 562.0 48.2 555.8 46.0 552.2 40.0 562.0 33.9 574.0 35.2 579.8 40.0 574.0 47.1Z M568.0 47.3 559.2 46.0 554.3 40.0 562.0 35.3 568.0 35.0 577.7 40.0 574.0 45.3 568.0 47.3Z M574.0 41.7 568.0 45.9 562.0 45.1 556.9 40.0 568.0 36.5 575.2 40.0 574.0 41.7Z M568.0 42.8 560.2 40.0 568.0 38.4 571.7 40.0 568.0 42.8Z"/>
<path stroke="#ff1a1a" stroke-width="0.65" d="M574.0 58.6 556.0 59.4 538.0 55.7 525.3 46.0 523.6 40.0 526.8 34.0 538.0 26.5 562.0 22.5 580.0 23.9 598.0 29.0 634.0 27.4 646.0 30.8 655.9 40.0 655.1 46.0 652.0 49.1 640.0 55.5 622.0 57.0 598.0 54.0 574.0 58.6Z M568.0 58.7 544.0 56.9 533.1 52.0 526.5 46.0 524.8 40.0 527.8 34.0 544.0 24.8 568.0 23.0 604.0 30.7 634.0 28.8 646.0 32.5 653.3 40.0 652.4 46.0 646.0 51.4 634.0 55.4 598.0 52.7 568.0 58.7Z M562.0 58.1 544.0 56.4 532.0 50.4 527.4 46.0 526.2 40.0 528.9 34.0 544.0 25.5 568.0 23.4 604.0 32.2 634.0 30.1 645.0 34.0 650.6 40.0 649.6 46.0 646.0 49.1 634.0 53.9 598.0 51.3 580.0 56.7 562.0 58.1Z M634.0 52.3 622.0 53.0 604.0 49.1 574.0 57.1 550.0 57.0 532.0 49.3 528.5 46.0 527.0 40.0 532.0 32.6 544.0 26.4 556.0 23.9 574.0 24.5 604.0 34.0 628.0 30.9 640.0 33.5 647.7 40.0 646.5 46.0 634.0 52.3Z M586.0 53.5 568.0 57.2 550.0 56.6 532.0 48.1 528.1 40.0 538.0 29.6 562.0 24.1 580.0 26.8 604.0 36.9 628.0 32.6 635.5 34.0 644.3 40.0 642.9 46.0 634.0 50.3 622.0 51.1 604.0 46.9 586.0 53.5Z M586.0 52.3 568.0 56.8 550.0 56.0 532.0 46.8 529.2 40.0 538.0 30.3 550.0 26.1 574.0 25.9 586.0 29.6 603.7 40.0 598.7 46.0 586.0 52.3Z M634.0 48.1 616.0 47.7 604.9 40.0 622.0 34.9 634.0 36.1 640.4 40.0 638.5 46.0 634.0 48.1Z M580.0 54.0 568.0 56.3 550.0 55.4 538.0 50.5 532.5 46.0 530.6 40.0 538.0 31.3 550.0 27.0 562.0 25.4 580.0 28.5 592.0 34.0 597.9 40.0 595.8 46.0 580.0 54.0Z M628.0 46.9 619.3 46.0 615.3 40.0 628.0 37.5 635.2 40.0 631.7 46.0 628.0 46.9Z M580.0 53.0 568.0 55.7 550.0 54.7 538.0 49.6 533.7 46.0 532.1 40.0 538.0 32.3 556.0 26.6 580.0 29.1 590.3 34.0 595.8 40.0 593.1 46.0 580.0 53.0Z M574.0 54.0 550.0 53.9 538.0 48.4 533.2 40.0 538.0 33.6 550.0 28.5 562.0 27.1 580.0 29.8 588.4 34.0 593.4 40.0 591.0 46.0 574.0 54.0Z M574.0 53.1 562.0 54.7 550.0 52.9 538.0 47.1 534.5 40.0 539.0 34.0 550.0 29.1 568.0 28.2 580.0 30.6 591.3 40.0 589.1 46.0 574.0 53.1Z M568.0 53.4 556.0 53.4 544.0 49.9 538.3 46.0 535.9 40.0 544.0 31.9 562.0 28.5 580.0 31.6 589.6 40.0 586.0 46.7 568.0 53.4Z M568.0 52.4 556.0 52.3 544.0 48.9 539.8 46.0 537.6 40.0 544.0 33.1 556.0 29.4 574.0 30.4 582.3 34.0 587.7 40.0 585.1 46.0 568.0 52.4Z M580.0 48.1 568.0 51.6 550.0 50.4 541.6 46.0 539.1 40.0 550.0 31.4 568.0 30.1 580.0 34.0 585.7 40.0 580.0 48.1Z M580.0 46.7 568.0 50.9 556.0 50.8 543.6 46.0 540.7 40.0 550.0 32.5 568.0 30.9 577.7 34.0 584.0 40.0 580.0 46.7Z M574.0 48.5 562.0 50.5 550.0 48.4 545.6 46.0 542.5 40.0 550.0 33.7 568.0 31.8 575.0 34.0 582.1 40.0 578.9 46.0 574.0 48.5Z M574.0 47.3 556.0 49.0 547.9 46.0 544.5 40.0 556.0 33.0 568.0 32.9 579.9 40.0 574.0 47.3Z M568.0 48.0 550.7 46.0 546.5 40.0 556.0 34.2 568.0 34.2 577.8 40.0 573.7 46.0 568.0 48.0Z M568.0 46.7 556.0 46.6 548.9 40.0 556.0 35.8 568.0 35.7 575.4 40.0 568.0 46.7Z M562.0 46.0 556.0 44.3 551.8 40.0 562.0 36.4 572.4 40.0 568.0 44.4 562.0 46.0Z M568.0 40.9 562.0 43.1 555.2 40.0 562.0 38.2 568.0 40.9Z"/>
<path stroke="#9933ff" stroke-width="0.65" d="M718.0 95.7 712.0 96.4 700.0 91.9 691.5 82.0 688.2 70.0 688.7 58.0 694.3 46.0 706.0 36.8 712.0 35.7 724.0 38.8 730.0 43.8 735.3 52.0 738.4 64.0 734.4 82.0 724.0 93.1 718.0 95.7Z M718.0 94.2 712.0 95.0 700.0 90.5 692.8 82.0 689.0 70.0 689.6 58.0 695.6 46.0 706.0 38.1 712.0 36.8 724.0 40.3 730.0 45.6 734.3 52.0 737.2 64.0 733.3 82.0 724.0 91.9 718.0 94.2Z M724.0 90.5 718.0 93.1 706.0 92.5 699.1 88.0 691.2 76.0 689.7 64.0 693.1 52.0 700.0 43.0 706.0 39.7 712.0 38.2 724.0 41.6 733.1 52.0 735.9 64.0 734.7 76.0 724.0 90.5Z M724.0 88.8 718.0 91.9 706.0 91.2 700.0 87.2 692.5 76.0 691.8 58.0 698.8 46.0 706.0 41.0 718.0 40.4 724.0 43.1 734.2 58.0 733.6 76.0 724.0 88.8Z M718.0 90.5 706.0 89.7 700.0 85.5 692.2 70.0 695.7 52.0 706.0 42.3 712.0 41.0 718.0 41.6 725.4 46.0 730.2 52.0 734.0 64.0 732.3 76.0 729.0 82.0 718.0 90.5Z M718.0 88.8 712.0 89.7 700.0 83.6 693.7 70.0 697.1 52.0 706.0 43.8 712.0 42.3 724.0 46.5 728.8 52.0 732.9 64.0 730.8 76.0 727.4 82.0 718.0 88.8Z M724.0 83.7 718.0 87.2 706.0 86.5 696.5 76.0 695.7 58.0 700.0 50.5 706.0 45.6 718.0 44.7 724.0 48.3 730.1 58.0 731.2 70.0 724.0 83.7Z M718.0 85.7 706.0 84.8 700.0 79.1 696.1 70.0 697.1 58.0 700.0 52.9 706.0 47.3 712.0 45.6 724.0 50.4 729.9 64.0 728.0 76.0 718.0 85.7Z M718.0 83.9 712.0 84.9 706.0 82.8 697.5 70.0 700.0 55.8 706.0 49.1 712.0 47.2 723.3 52.0 728.7 64.0 726.3 76.0 718.0 83.9Z M712.0 83.0 701.7 76.0 698.9 64.0 705.2 52.0 712.0 49.0 720.6 52.0 727.2 64.0 724.0 76.6 718.0 81.8 712.0 83.0Z M718.0 79.7 712.0 80.9 706.0 78.3 701.0 70.0 702.5 58.0 712.0 51.0 718.0 52.3 723.5 58.0 725.4 64.0 724.0 72.6 718.0 79.7Z M718.0 77.2 712.0 78.7 706.0 75.5 703.0 70.0 704.8 58.0 712.0 53.3 718.0 54.9 723.5 64.0 723.0 70.0 718.0 77.2Z M712.0 76.1 706.0 71.4 704.7 64.0 712.0 56.0 718.0 57.8 721.1 64.0 718.0 73.9 712.0 76.1Z M712.0 72.5 709.1 70.0 708.0 64.0 712.0 59.5 718.4 64.0 717.4 70.0 712.0 72.5Z"/>
<path stroke="#2a2aff" stroke-width="0.65" d="M724.0 94.9 712.0 97.4 700.0 92.6 690.7 82.0 687.1 70.0 687.5 58.0 691.9 46.0 700.0 37.3 712.0 32.8 724.0 35.0 730.0 39.1 735.8 46.0 740.7 58.0 739.8 76.0 733.1 88.0 724.0 94.9Z M718.0 95.9 712.0 96.2 700.0 91.4 691.9 82.0 688.2 70.0 688.5 58.0 693.3 46.0 700.0 38.7 712.0 34.2 724.0 36.1 730.0 40.5 738.0 52.0 740.5 64.0 738.8 76.0 731.6 88.0 718.0 95.9Z M718.0 94.4 706.0 93.3 700.0 89.9 693.3 82.0 689.0 70.0 689.3 58.0 694.6 46.0 706.0 36.4 712.0 35.1 724.0 37.4 730.0 41.9 736.7 52.0 739.6 64.0 734.8 82.0 724.0 92.5 718.0 94.4Z M724.0 91.3 718.0 93.3 706.0 92.2 699.8 88.0 691.4 76.0 689.6 64.0 692.3 52.0 700.0 41.6 706.0 37.8 718.0 36.5 724.0 38.9 732.2 46.0 737.7 58.0 736.3 76.0 733.6 82.0 724.0 91.3Z M724.0 89.8 718.0 92.2 706.0 90.9 695.8 82.0 690.9 70.0 691.3 58.0 697.3 46.0 712.0 37.4 724.0 40.4 730.0 45.3 736.3 58.0 735.2 76.0 724.0 89.8Z M724.0 88.2 718.0 90.9 706.0 89.4 700.0 85.2 694.1 76.0 692.6 58.0 698.9 46.0 706.0 40.7 712.0 38.9 724.0 41.6 733.3 52.0 735.9 64.0 734.2 76.0 724.0 88.2Z M718.0 89.4 712.0 89.8 700.0 83.3 693.5 70.0 696.1 52.0 706.0 42.0 712.0 40.4 718.0 40.7 727.3 46.0 731.9 52.0 735.0 64.0 730.0 80.7 718.0 89.4Z M712.0 88.2 706.0 86.4 696.5 76.0 695.1 58.0 700.0 48.7 706.0 43.5 718.0 42.0 724.0 44.9 730.3 52.0 733.0 58.0 733.5 70.0 724.0 85.2 712.0 88.2Z M724.0 83.4 712.0 86.8 706.0 84.8 697.9 76.0 695.9 70.0 696.3 58.0 706.0 45.3 718.0 43.5 724.0 46.7 730.0 54.5 732.2 70.0 724.0 83.4Z M718.0 84.9 706.0 83.0 697.2 70.0 696.7 64.0 700.0 53.6 706.0 47.1 712.0 44.8 724.0 48.5 731.2 64.0 728.4 76.0 718.0 84.9Z M718.0 83.1 712.0 83.6 706.0 81.0 698.8 70.0 700.0 56.9 706.0 49.0 712.0 46.5 718.0 47.0 724.0 50.7 729.7 64.0 726.7 76.0 718.0 83.1Z M724.0 76.9 718.0 81.1 712.0 81.6 703.4 76.0 699.9 64.0 706.0 51.1 712.0 48.3 718.0 48.8 724.0 53.2 728.2 64.0 724.0 76.9Z M718.0 79.1 712.0 79.7 706.0 76.4 702.2 70.0 703.0 58.0 712.0 50.3 719.6 52.0 725.1 58.0 726.6 64.0 724.0 73.6 718.0 79.1Z M718.0 76.7 712.0 77.4 704.2 70.0 705.2 58.0 712.0 52.6 718.0 53.4 722.7 58.0 724.6 64.0 723.7 70.0 718.0 76.7Z M718.0 73.6 712.0 74.6 706.8 70.0 706.0 62.6 712.0 55.3 718.0 56.3 722.3 64.0 718.0 73.6Z M712.0 71.2 708.8 64.0 712.0 58.8 718.0 60.9 719.5 64.0 718.0 69.9 712.0 71.2Z"/>
<path stroke="#2a2aff" stroke-width="0.65" d="M592.0 161.3 574.0 161.8 562.0 157.0 552.3 148.0 545.7 136.0 542.3 118.0 544.4 106.0 551.4 94.0 562.0 86.8 580.0 84.1 598.0 86.2 610.7 94.0 622.7 112.0 625.1 124.0 619.6 142.0 604.0 157.3 592.0 161.3Z M586.0 161.1 574.0 160.4 562.0 155.5 553.9 148.0 545.1 130.0 544.2 112.0 548.2 100.0 556.0 91.4 568.0 86.5 586.0 85.4 604.0 90.1 618.9 106.0 623.1 118.0 621.1 136.0 613.5 148.0 604.0 155.9 586.0 161.1Z M604.0 154.2 592.0 158.8 574.0 159.2 562.4 154.0 555.8 148.0 548.3 136.0 544.7 118.0 546.6 106.0 556.0 93.2 568.0 88.1 586.0 86.9 604.0 91.5 613.4 100.0 620.3 112.0 621.5 130.0 616.5 142.0 604.0 154.2Z M598.0 155.7 586.0 158.6 574.0 158.0 562.0 152.2 552.8 142.0 547.4 130.0 546.3 112.0 551.3 100.0 562.0 91.1 580.0 88.4 598.0 90.2 610.0 98.1 615.8 106.0 620.6 118.0 618.5 136.0 610.0 147.9 598.0 155.7Z M592.0 156.1 580.0 157.5 568.0 154.2 559.4 148.0 551.2 136.0 547.4 124.0 547.6 112.0 553.0 100.0 562.0 92.8 580.0 89.6 598.0 91.7 609.9 100.0 617.5 112.0 619.1 130.0 613.5 142.0 604.0 151.4 592.0 156.1Z M592.0 154.5 580.0 156.0 568.0 152.6 561.6 148.0 552.7 136.0 548.9 124.0 549.1 112.0 554.9 100.0 562.0 94.6 574.0 91.4 592.0 91.7 604.0 96.2 613.1 106.0 618.4 124.0 615.3 136.0 604.0 149.6 592.0 154.5Z M586.0 154.1 568.0 150.9 558.2 142.0 551.8 130.0 550.6 112.0 556.0 101.2 562.0 96.3 580.0 92.7 598.0 95.0 606.2 100.0 614.6 112.0 616.8 124.0 613.9 136.0 610.0 141.8 598.0 151.0 586.0 154.1Z M598.0 149.2 586.0 152.6 574.0 151.7 560.4 142.0 553.4 130.0 551.3 118.0 554.5 106.0 562.0 98.2 574.0 94.8 592.0 95.0 604.0 100.0 609.6 106.0 614.9 118.0 614.6 130.0 608.0 142.0 598.0 149.2Z M592.0 149.5 574.0 149.9 568.0 146.7 558.3 136.0 552.9 118.0 556.0 107.0 562.0 100.4 574.0 96.4 592.0 96.6 604.0 101.9 610.0 109.5 614.0 124.0 610.4 136.0 604.0 143.8 592.0 149.5Z M586.0 148.9 574.0 147.7 568.0 144.2 557.3 130.0 554.7 118.0 555.7 112.0 562.0 102.8 568.0 99.7 586.0 97.7 598.0 100.5 605.8 106.0 611.8 118.0 611.3 130.0 604.0 141.5 586.0 148.9Z M598.0 142.8 580.0 147.0 568.0 141.3 557.4 124.0 557.8 112.0 562.0 105.5 568.0 101.8 586.0 99.8 598.0 102.5 604.0 106.6 607.8 112.0 610.5 124.0 606.4 136.0 598.0 142.8Z M592.0 142.6 580.0 144.5 574.0 142.6 566.4 136.0 562.0 129.7 558.9 118.0 560.2 112.0 565.3 106.0 574.0 102.7 586.0 101.9 598.0 104.9 604.0 109.5 608.2 118.0 607.5 130.0 604.0 136.0 592.0 142.6Z M598.0 137.2 586.0 141.4 574.0 138.8 562.3 124.0 563.2 112.0 568.0 107.4 580.0 104.4 598.0 107.7 604.0 113.2 606.8 124.0 604.0 132.3 598.0 137.2Z M592.0 136.0 580.0 137.3 574.0 134.1 565.8 124.0 564.7 118.0 567.2 112.0 574.0 108.4 586.0 107.1 599.3 112.0 603.8 118.0 604.0 126.1 598.0 133.5 592.0 136.0Z M592.0 131.2 586.0 132.4 577.6 130.0 570.9 124.0 569.1 118.0 574.6 112.0 592.4 112.0 599.5 118.0 600.4 124.0 598.0 128.2 592.0 131.2Z M586.0 124.8 578.5 118.0 590.2 118.0 589.0 124.0 586.0 124.8Z"/>
<path stroke="#9933ff" stroke-width="0.65" d="M598.0 155.9 586.0 159.4 568.0 157.5 550.8 142.0 545.1 130.0 544.3 112.0 548.8 100.0 556.0 92.3 574.0 86.4 592.0 86.5 604.0 90.8 613.4 100.0 619.2 112.0 619.2 130.0 613.4 142.0 598.0 155.9Z M598.0 154.6 586.0 158.7 568.0 156.4 556.7 148.0 548.4 136.0 544.8 124.0 546.5 106.0 555.8 94.0 562.0 90.0 580.0 87.2 598.0 89.0 610.0 97.5 615.5 106.0 619.2 118.0 617.9 130.0 612.1 142.0 598.0 154.6Z M592.0 156.3 580.0 158.1 568.0 155.2 556.0 145.8 546.9 130.0 545.2 118.0 547.5 106.0 556.0 94.9 562.0 91.0 580.0 88.3 598.0 90.0 610.0 99.2 614.6 106.0 618.1 118.0 614.4 136.0 604.0 149.2 592.0 156.3Z M592.0 155.0 580.0 157.2 568.0 153.9 559.4 148.0 550.7 136.0 546.4 124.0 546.6 112.0 552.3 100.0 562.0 92.3 580.0 89.1 598.0 91.1 613.6 106.0 616.7 118.0 613.3 136.0 604.0 147.7 592.0 155.0Z M586.0 155.6 574.0 155.1 562.0 148.8 551.7 136.0 547.4 124.0 547.6 112.0 553.6 100.0 568.0 91.3 586.0 90.0 598.0 92.3 608.1 100.0 614.7 112.0 615.5 124.0 612.0 136.0 598.0 151.2 586.0 155.6Z M586.0 154.2 574.0 153.8 562.0 147.3 552.8 136.0 548.5 124.0 551.0 106.0 556.0 99.1 568.0 92.6 586.0 91.1 598.0 93.8 606.7 100.0 613.6 112.0 613.4 130.0 606.6 142.0 598.0 149.8 586.0 154.2Z M598.0 148.2 586.0 153.2 574.0 152.8 562.0 145.8 554.2 136.0 549.8 124.0 550.1 112.0 552.1 106.0 562.0 96.0 574.0 92.8 592.0 93.1 604.0 98.9 609.6 106.0 613.6 118.0 612.1 130.0 604.9 142.0 598.0 148.2Z M592.0 150.2 574.0 151.6 562.0 144.1 555.7 136.0 550.8 124.0 551.0 112.0 553.4 106.0 562.0 97.3 574.0 94.2 592.0 94.4 598.0 96.1 608.4 106.0 612.4 118.0 610.6 130.0 603.2 142.0 592.0 150.2Z M592.0 148.6 586.0 150.8 574.0 150.3 568.0 147.2 557.1 136.0 551.3 118.0 554.8 106.0 562.0 98.9 574.0 95.2 592.0 95.5 598.0 97.5 607.1 106.0 611.0 118.0 609.3 130.0 601.5 142.0 592.0 148.6Z M586.0 149.3 580.0 149.9 568.0 145.7 558.6 136.0 553.0 124.0 553.4 112.0 556.5 106.0 568.0 97.5 592.0 96.7 604.0 104.2 608.5 112.0 609.5 124.0 604.8 136.0 598.0 143.4 586.0 149.3Z M580.0 148.3 568.0 143.8 560.4 136.0 554.4 124.0 554.8 112.0 562.0 102.1 568.0 99.1 592.0 98.2 604.0 106.4 607.2 112.0 608.3 124.0 604.0 134.5 598.0 141.5 592.0 145.5 580.0 148.3Z M592.0 143.6 580.0 146.8 574.0 145.4 562.0 135.5 558.2 130.0 555.2 118.0 556.4 112.0 562.0 103.9 574.0 99.3 586.0 98.8 598.0 102.3 602.0 106.0 605.7 112.0 607.0 124.0 601.2 136.0 592.0 143.6Z M586.0 144.3 574.0 143.5 560.0 130.0 556.7 118.0 557.9 112.0 568.0 102.2 592.0 101.3 598.0 104.1 604.0 112.0 605.7 118.0 603.3 130.0 598.0 137.2 586.0 144.3Z M586.0 142.2 574.0 141.2 567.1 136.0 559.1 124.0 559.7 112.0 568.0 104.0 580.0 101.9 592.0 103.0 602.3 112.0 603.7 124.0 601.5 130.0 596.4 136.0 586.0 142.2Z M592.0 136.7 580.0 140.6 568.0 134.1 561.0 124.0 562.0 111.7 568.0 106.1 580.0 103.6 592.0 104.9 598.0 108.8 602.3 118.0 602.0 124.0 598.0 131.9 592.0 136.7Z M586.0 136.8 574.0 135.5 563.3 124.0 562.2 118.0 568.0 108.5 586.0 105.6 598.2 112.0 600.5 118.0 598.0 128.2 586.0 136.8Z M592.0 130.6 580.0 134.1 574.0 131.9 565.9 124.0 564.7 118.0 567.3 112.0 580.0 107.8 592.0 109.8 598.3 118.0 597.7 124.0 592.0 130.6Z M592.0 126.2 586.0 129.6 580.0 129.9 569.6 124.0 567.6 118.0 574.0 111.3 586.0 110.5 592.0 113.4 594.9 118.0 592.0 126.2Z M586.0 124.9 576.9 124.0 572.5 118.0 580.0 114.3 586.0 114.7 590.2 118.0 586.0 124.9Z"/>
<path stroke="#1fdc1f" stroke-width="0.65" d="M580.0 149.3 568.0 145.6 562.0 141.0 553.4 130.0 551.7 124.0 553.4 112.0 557.1 106.0 568.0 96.4 580.0 92.7 592.0 97.7 598.0 102.8 606.3 118.0 606.3 124.0 601.0 136.0 592.0 144.3 580.0 149.3Z M580.0 148.0 568.0 144.5 562.0 139.8 552.8 124.0 552.8 118.0 558.3 106.0 568.0 97.5 580.0 94.0 586.0 95.4 598.0 104.3 604.9 118.0 603.2 130.0 599.6 136.0 592.0 143.0 580.0 148.0Z M586.0 145.7 580.0 147.4 568.0 143.3 559.6 136.0 554.1 124.0 554.1 118.0 559.6 106.0 574.0 95.5 580.0 94.6 592.0 100.3 602.2 112.0 603.7 118.0 602.2 130.0 586.0 145.7Z M586.0 144.6 580.0 146.6 568.0 141.9 561.1 136.0 555.5 124.0 557.1 112.0 561.1 106.0 574.0 96.4 580.0 95.4 592.0 101.3 601.0 112.0 602.7 118.0 601.0 130.0 586.0 144.6Z M586.0 143.4 580.0 145.8 568.0 140.9 558.2 130.0 556.6 124.0 558.2 112.0 562.6 106.0 574.0 97.5 580.0 96.2 595.7 106.0 601.7 118.0 599.7 130.0 586.0 143.4Z M586.0 142.1 580.0 144.7 568.0 139.8 559.5 130.0 557.6 124.0 559.5 112.0 563.8 106.0 574.0 98.7 580.0 97.3 594.2 106.0 600.4 118.0 598.1 130.0 594.2 136.0 586.0 142.1Z M580.0 143.6 565.3 136.0 558.8 124.0 558.8 118.0 565.3 106.0 580.0 98.4 592.5 106.0 599.0 118.0 597.0 130.0 592.0 136.5 580.0 143.6Z M580.0 142.2 567.0 136.0 560.1 124.0 560.1 118.0 567.0 106.0 580.0 99.8 591.0 106.0 597.6 118.0 595.8 130.0 586.0 140.0 580.0 142.2Z M586.0 138.7 580.0 141.2 574.0 139.9 563.6 130.0 561.7 124.0 563.6 112.0 574.0 102.1 580.0 100.8 586.0 103.3 594.4 112.0 596.5 118.0 594.4 130.0 586.0 138.7Z M586.0 137.3 580.0 140.2 574.0 138.6 565.0 130.0 562.9 124.0 565.0 112.0 574.0 103.4 580.0 101.8 587.6 106.0 595.3 118.0 592.8 130.0 586.0 137.3Z M580.0 139.0 572.4 136.0 564.1 124.0 566.6 112.0 574.0 104.8 580.0 103.0 591.3 112.0 593.8 118.0 591.3 130.0 580.0 139.0Z M580.0 137.6 574.0 135.6 565.6 124.0 568.3 112.0 574.0 106.4 580.0 104.4 589.8 112.0 592.2 118.0 589.8 130.0 580.0 137.6Z M580.0 136.0 574.0 134.1 567.2 124.0 569.9 112.0 580.0 106.0 588.2 112.0 590.8 118.0 588.2 130.0 580.0 136.0Z M586.0 130.2 580.0 134.6 571.7 130.0 568.8 118.0 574.0 109.7 580.0 107.4 586.2 112.0 589.4 118.0 589.4 124.0 586.0 130.2Z M580.0 133.0 574.0 130.2 570.3 124.0 570.3 118.0 573.8 112.0 580.0 109.0 587.7 118.0 587.7 124.0 580.0 133.0Z M580.0 131.1 572.1 124.0 574.0 114.8 580.0 110.9 585.7 118.0 585.7 124.0 580.0 131.1Z M580.0 128.7 574.3 124.0 574.3 118.0 580.0 113.3 583.7 118.0 583.7 124.0 580.0 128.7Z M580.0 125.7 577.9 124.0 577.9 118.0 580.0 116.3 580.0 125.7Z"/>
<path stroke="#ff8c1a" stroke-width="0.7" d="M676.0 239.3 664.0 242.5 652.0 241.1 640.0 234.2 629.5 220.0 626.7 208.0 629.5 190.0 640.0 175.8 652.0 168.9 670.0 168.3 682.0 174.2 691.4 184.0 696.6 196.0 696.6 214.0 691.4 226.0 676.0 239.3Z M670.0 240.7 658.0 241.5 646.0 237.2 634.1 226.0 628.6 214.0 628.6 196.0 634.1 184.0 646.0 172.8 658.0 168.5 670.0 169.3 682.0 175.2 690.3 184.0 696.7 202.0 695.6 214.0 690.3 226.0 682.0 234.8 670.0 240.7Z M670.0 239.7 658.0 240.6 646.0 236.4 634.9 226.0 629.3 214.0 629.3 196.0 634.9 184.0 646.0 173.6 658.0 169.4 670.0 170.3 682.0 176.5 692.6 190.0 695.7 202.0 694.4 214.0 689.0 226.0 682.0 233.5 670.0 239.7Z M670.0 238.4 658.0 239.5 646.0 235.4 635.9 226.0 630.0 214.0 630.0 196.0 635.9 184.0 646.0 174.6 658.0 170.5 676.0 173.6 687.8 184.0 693.6 196.0 694.6 208.0 691.8 220.0 682.0 232.1 670.0 238.4Z M664.0 238.5 652.0 237.1 640.0 229.4 633.6 220.0 629.9 208.0 630.9 196.0 640.0 180.6 652.0 172.9 664.0 171.5 676.0 174.5 682.0 178.9 690.8 190.0 693.7 202.0 692.9 214.0 686.9 226.0 676.0 235.5 664.0 238.5Z M676.0 234.4 664.0 237.6 652.0 236.2 638.2 226.0 632.0 214.0 630.8 202.0 634.5 190.0 640.0 182.0 652.0 173.8 664.0 172.4 676.0 175.6 685.8 184.0 692.1 196.0 693.0 208.0 689.7 220.0 676.0 234.4Z M676.0 233.1 664.0 236.9 652.0 235.2 640.0 226.4 635.4 220.0 631.8 208.0 633.2 196.0 639.7 184.0 652.0 174.8 664.0 173.1 676.0 176.9 684.6 184.0 691.2 196.0 691.2 214.0 684.6 226.0 676.0 233.1Z M670.0 234.9 658.0 235.8 646.0 230.7 636.4 220.0 632.9 208.0 634.3 196.0 640.0 185.1 646.0 179.3 658.0 174.2 670.0 175.1 682.0 182.7 687.4 190.0 691.3 202.0 687.4 220.0 682.0 227.3 670.0 234.9Z M670.0 233.7 658.0 234.7 646.0 229.6 635.1 214.0 634.1 202.0 637.5 190.0 646.0 180.4 658.0 175.3 664.0 175.0 676.0 179.2 686.4 190.0 690.3 202.0 686.4 220.0 676.0 230.8 670.0 233.7Z M670.0 232.3 664.0 233.8 652.0 231.6 643.5 226.0 636.0 214.0 634.9 202.0 638.8 190.0 646.0 181.7 658.0 176.5 664.0 176.2 676.0 180.3 685.3 190.0 689.1 202.0 685.3 220.0 676.0 229.7 670.0 232.3Z M664.0 232.5 652.0 230.6 646.0 226.7 640.2 220.0 635.8 208.0 637.0 196.0 645.2 184.0 652.0 179.4 664.0 177.5 678.9 184.0 684.0 190.0 687.8 202.0 686.8 214.0 682.0 222.6 676.0 228.4 664.0 232.5Z M676.0 226.9 670.0 230.3 658.0 231.2 652.0 229.5 641.3 220.0 636.8 208.0 638.3 196.0 641.3 190.0 652.0 180.5 670.0 179.7 677.1 184.0 685.8 196.0 685.8 214.0 676.0 226.9Z M670.0 229.1 658.0 230.2 652.0 228.2 642.6 220.0 638.0 208.0 642.6 190.0 652.0 181.8 658.0 179.8 670.0 180.9 675.1 184.0 684.6 196.0 684.6 214.0 676.0 225.4 670.0 229.1Z M670.0 227.7 658.0 229.0 652.0 226.7 644.1 220.0 640.8 214.0 640.8 196.0 646.0 187.8 658.0 181.0 670.0 182.3 676.0 185.9 684.9 202.0 683.3 214.0 679.9 220.0 670.0 227.7Z M670.0 226.1 664.0 228.0 652.0 225.3 642.0 214.0 642.0 196.0 646.0 189.8 658.0 182.4 664.0 182.0 676.0 187.5 683.6 202.0 681.8 214.0 676.0 222.5 670.0 226.1Z M664.0 226.4 652.0 223.9 646.0 218.2 641.6 208.0 641.6 202.0 646.0 191.8 658.0 184.0 670.0 185.1 676.0 189.4 682.1 202.0 680.6 214.0 676.6 220.0 664.0 226.4Z M670.0 223.4 658.0 224.8 652.0 222.3 644.8 214.0 642.9 208.0 646.0 194.2 652.0 187.7 658.0 185.2 670.0 186.6 679.2 196.0 681.0 202.0 679.2 214.0 670.0 223.4Z M670.0 221.8 658.0 223.4 652.0 220.4 644.4 208.0 646.5 196.0 658.0 186.6 670.0 188.2 677.6 196.0 679.7 202.0 677.6 214.0 670.0 221.8Z M664.0 222.2 652.0 218.5 646.0 208.0 648.1 196.0 658.0 188.2 670.0 190.1 678.2 202.0 675.8 214.0 670.0 219.9 664.0 222.2Z M664.0 220.4 652.0 216.3 647.6 208.0 650.1 196.0 658.0 190.1 670.0 192.0 676.4 202.0 673.9 214.0 664.0 220.4Z M670.0 215.7 664.0 218.5 658.0 218.0 652.0 213.6 649.3 202.0 652.3 196.0 658.0 192.0 664.0 191.5 671.7 196.0 674.6 208.0 670.0 215.7Z M664.0 216.5 658.0 215.8 651.3 208.0 651.3 202.0 658.0 194.2 664.0 193.5 668.6 196.0 672.6 202.0 670.0 212.8 664.0 216.5Z M664.0 214.1 658.0 213.1 653.9 208.0 653.9 202.0 658.0 196.9 664.0 195.9 670.3 202.0 670.3 208.0 664.0 214.1Z M664.0 210.5 657.0 208.0 658.0 200.7 664.0 199.5 666.7 202.0 666.7 208.0 664.0 210.5Z"/>
<path stroke="#ff1a1a" stroke-width="0.7" d="M718.0 178.8 712.0 180.6 706.0 179.2 700.0 174.7 695.5 166.0 696.4 148.0 706.0 137.1 718.0 137.1 727.6 148.0 728.3 166.0 724.0 173.8 718.0 178.8Z M682.0 252.7 664.0 255.8 640.0 253.1 633.6 250.0 630.0 244.0 631.0 238.0 628.2 232.0 607.5 220.0 606.1 214.0 622.0 200.5 634.0 179.6 652.0 167.7 664.0 166.7 676.0 169.1 689.2 178.0 697.5 190.0 699.8 202.0 698.6 220.0 690.9 238.0 691.1 244.0 687.1 250.0 682.0 252.7Z M712.0 179.3 706.0 177.8 700.0 172.7 695.4 160.0 700.0 143.8 706.0 138.2 712.0 136.8 718.0 138.2 724.0 143.8 728.6 160.0 724.0 172.1 718.0 177.6 712.0 179.3Z M682.0 251.4 664.0 255.2 640.0 251.9 632.1 244.0 632.9 238.0 629.3 232.0 610.2 220.0 608.6 214.0 622.0 202.3 631.1 184.0 640.0 174.7 652.0 168.4 664.0 167.2 676.0 170.0 688.0 178.4 696.6 190.0 699.4 202.0 698.0 220.0 689.4 238.0 689.0 244.0 682.0 251.4Z M718.0 176.6 706.0 176.7 700.0 170.8 696.2 160.0 700.0 145.5 706.0 139.3 712.0 137.8 721.1 142.0 727.6 154.0 726.5 166.0 718.0 176.6Z M676.0 252.5 658.0 254.5 638.9 250.0 634.4 244.0 634.6 238.0 630.6 232.0 612.9 220.0 611.2 214.0 622.0 203.8 632.2 184.0 640.0 175.7 652.0 169.3 670.0 168.7 682.0 174.1 692.2 184.0 697.9 196.0 699.1 208.0 697.2 220.0 687.8 238.0 687.0 244.0 682.0 250.0 676.0 252.5Z M718.0 175.4 712.0 177.0 706.0 175.5 700.0 168.7 697.1 160.0 700.0 147.5 706.0 140.7 712.0 138.9 719.5 142.0 726.6 154.0 725.4 166.0 718.0 175.4Z M676.0 251.3 658.0 253.6 642.0 250.0 636.5 244.0 636.0 238.0 632.0 232.0 616.0 220.0 613.9 214.0 622.0 205.5 634.0 183.3 640.0 176.9 652.0 170.2 664.0 168.6 682.0 175.0 691.3 184.0 697.1 196.0 698.5 208.0 696.3 220.0 685.1 244.0 676.0 251.3Z M718.0 174.0 712.0 175.9 706.0 174.1 698.1 160.0 700.8 148.0 706.0 142.2 712.0 140.1 718.0 142.2 725.5 154.0 724.1 166.0 718.0 174.0Z M670.0 251.8 658.0 252.7 645.4 250.0 638.9 244.0 633.8 232.0 618.5 220.0 616.6 214.0 634.4 184.0 646.0 173.6 658.0 169.6 670.0 170.6 682.0 176.1 690.1 184.0 697.6 202.0 695.3 220.0 682.8 244.0 676.0 249.9 670.0 251.8Z M718.0 172.4 712.0 174.6 706.0 172.5 699.3 160.0 702.0 148.0 706.0 143.5 712.0 141.6 718.0 143.5 724.3 154.0 723.0 166.0 718.0 172.4Z M670.0 250.5 658.0 251.5 646.0 248.2 634.9 232.0 621.5 220.0 619.0 214.0 635.1 184.0 646.0 174.4 658.0 170.7 670.0 171.8 682.0 177.4 692.8 190.0 696.7 202.0 696.4 214.0 691.9 226.0 680.6 244.0 670.0 250.5Z M712.0 173.2 706.0 170.9 700.5 160.0 703.4 148.0 712.0 142.9 720.6 148.0 723.5 160.0 718.0 170.8 712.0 173.2Z M664.0 250.2 652.0 249.1 646.0 245.8 636.0 232.0 623.5 220.0 621.8 214.0 632.0 190.0 640.0 179.9 652.0 172.9 664.0 171.6 676.0 174.3 687.7 184.0 692.1 190.0 696.2 208.0 691.0 226.0 678.1 244.0 664.0 250.2Z M718.0 169.1 712.0 171.6 706.0 169.1 701.5 160.0 705.0 148.0 712.0 144.3 718.0 146.9 722.1 154.0 722.4 160.0 718.0 169.1Z M670.0 247.2 658.0 248.7 647.0 244.0 625.6 220.0 623.4 214.0 630.0 196.0 637.1 184.0 652.0 173.6 664.0 172.4 676.0 175.2 686.8 184.0 693.4 196.0 695.2 208.0 692.9 220.0 682.0 236.4 670.0 247.2Z M718.0 167.1 712.0 170.0 706.0 167.1 702.8 160.0 706.0 149.1 712.0 145.9 718.0 149.1 720.8 154.0 721.2 160.0 718.0 167.1Z M670.0 245.1 658.0 246.9 650.5 244.0 633.0 226.0 625.2 214.0 630.8 196.0 638.3 184.0 652.0 174.4 658.0 173.1 670.0 173.8 682.0 180.3 690.1 190.0 693.8 202.0 692.1 220.0 682.0 234.9 670.0 245.1Z M712.0 168.2 706.0 164.2 704.2 160.0 706.0 151.8 712.0 147.8 718.0 151.8 719.8 160.0 718.0 164.1 712.0 168.2Z M664.0 244.9 652.0 242.7 629.2 220.0 627.2 214.0 635.0 190.0 646.0 178.6 658.0 173.9 670.0 174.7 682.0 181.4 688.9 190.0 693.2 202.0 692.9 214.0 687.6 226.0 670.0 243.1 664.0 244.9Z M712.0 166.1 705.9 160.0 706.9 154.0 712.0 150.1 717.1 154.0 718.1 160.0 712.0 166.1Z M670.0 241.1 658.0 242.8 652.0 240.3 635.5 226.0 628.7 214.0 630.6 202.0 635.8 190.0 646.0 179.5 658.0 174.7 670.0 175.7 682.0 182.7 691.1 196.0 692.5 202.0 690.3 220.0 682.0 231.5 670.0 241.1Z M712.0 163.0 709.0 160.0 712.0 152.7 715.0 160.0 712.0 163.0Z M670.0 238.8 658.0 240.9 646.0 234.7 636.8 226.0 629.8 214.0 631.7 202.0 636.8 190.0 646.0 180.5 658.0 175.7 676.0 179.3 687.0 190.0 691.7 202.0 691.4 214.0 685.8 226.0 670.0 238.8Z M664.0 238.9 652.0 236.9 646.0 233.0 638.2 226.0 631.2 214.0 632.9 202.0 637.9 190.0 646.0 181.6 658.0 176.9 676.0 180.3 686.0 190.0 690.8 202.0 690.4 214.0 684.7 226.0 676.0 234.4 664.0 238.9Z M676.0 232.8 664.0 237.5 652.0 235.7 635.0 220.0 632.8 208.0 635.7 196.0 644.8 184.0 652.0 179.4 664.0 177.9 676.0 181.4 685.0 190.0 687.8 196.0 689.3 214.0 683.4 226.0 676.0 232.8Z M670.0 235.1 658.0 236.3 652.0 234.3 636.2 220.0 634.1 208.0 636.7 196.0 646.0 184.3 652.0 180.4 670.0 179.6 682.0 188.0 687.0 196.0 689.1 208.0 686.2 220.0 670.0 235.1Z M670.0 233.7 658.0 235.1 652.0 232.8 642.4 226.0 635.2 214.0 635.7 202.0 641.5 190.0 652.0 181.5 658.0 179.7 670.0 180.6 676.0 184.1 682.2 190.0 687.6 202.0 685.2 220.0 676.0 230.4 670.0 233.7Z M670.0 232.1 664.0 234.0 652.0 231.5 643.9 226.0 636.3 214.0 636.7 202.0 642.7 190.0 658.0 180.7 670.0 181.8 676.0 185.1 685.0 196.0 686.8 202.0 684.0 220.0 676.0 229.2 670.0 232.1Z M664.0 232.4 652.0 230.5 645.7 226.0 637.6 214.0 637.9 202.0 644.2 190.0 658.0 181.8 664.0 181.5 676.0 186.3 685.9 202.0 685.4 214.0 682.6 220.0 676.0 227.7 664.0 232.4Z M676.0 226.1 670.0 230.0 658.0 231.1 652.0 229.3 641.7 220.0 639.0 214.0 639.2 202.0 645.8 190.0 652.0 185.2 664.0 182.8 670.0 184.4 676.0 187.7 682.4 196.0 684.8 202.0 684.3 214.0 676.0 226.1Z M670.0 228.8 658.0 230.1 652.0 227.9 643.1 220.0 640.4 214.0 642.5 196.0 652.0 186.3 658.0 184.4 670.0 185.4 681.2 196.0 684.2 208.0 682.9 214.0 680.2 220.0 670.0 228.8Z M670.0 227.4 658.0 228.9 652.0 226.3 641.5 214.0 641.5 202.0 643.9 196.0 652.0 187.7 658.0 185.4 670.0 186.7 680.0 196.0 682.1 202.0 682.8 208.0 678.8 220.0 670.0 227.4Z M664.0 227.8 652.0 225.0 646.4 220.0 641.9 208.0 646.0 195.3 658.0 186.6 670.0 188.1 678.7 196.0 681.1 202.0 680.5 214.0 677.2 220.0 664.0 227.8Z M664.0 226.2 652.0 223.5 644.3 214.0 643.1 208.0 647.0 196.0 658.0 188.0 670.0 189.7 677.1 196.0 679.9 202.0 679.3 214.0 676.0 219.3 664.0 226.2Z M670.0 222.9 658.0 224.6 650.0 220.0 646.0 214.0 645.6 202.0 652.0 192.5 658.0 189.6 670.0 191.2 678.5 202.0 677.8 214.0 670.0 222.9Z M670.0 221.2 658.0 223.1 647.5 214.0 647.0 202.0 652.0 194.4 658.0 191.1 670.0 192.9 676.9 202.0 676.1 214.0 670.0 221.2Z M664.0 221.9 658.0 221.4 652.0 217.6 647.7 208.0 652.0 196.7 658.0 192.7 670.0 194.8 675.2 202.0 674.4 214.0 664.0 221.9Z M670.0 216.9 664.0 220.0 658.0 219.5 651.2 214.0 650.4 202.0 658.0 194.6 668.2 196.0 673.5 202.0 674.4 208.0 670.0 216.9Z M670.0 214.3 664.0 218.0 658.0 217.4 652.0 210.1 652.6 202.0 658.0 196.8 664.0 196.1 670.0 200.0 672.6 208.0 670.0 214.3Z M664.0 215.6 658.0 214.9 653.7 208.0 658.0 199.4 664.0 198.5 668.7 202.0 670.4 208.0 664.0 215.6Z M664.0 212.3 658.0 210.7 656.5 208.0 660.5 202.0 664.8 202.0 667.2 208.0 664.0 212.3Z"/>
<path stroke="#1fdc1f" stroke-width="0.65" d="M664.0 222.2 658.0 221.1 652.0 216.6 646.9 202.0 652.0 187.4 658.0 182.9 664.0 181.8 670.0 184.0 675.8 190.0 679.3 202.0 675.8 214.0 670.0 220.0 664.0 222.2Z M664.0 220.4 658.0 219.3 652.0 214.2 648.1 202.0 652.0 189.8 658.0 184.7 664.0 183.6 674.1 190.0 677.9 202.0 674.1 214.0 664.0 220.4Z M670.0 216.1 664.0 218.6 658.0 217.4 650.5 208.0 650.5 196.0 658.0 186.6 664.0 185.4 670.0 187.9 675.4 196.0 675.4 208.0 670.0 216.1Z M664.0 216.7 656.5 214.0 651.2 202.0 656.5 190.0 664.0 187.3 670.0 190.3 674.7 202.0 670.0 213.7 664.0 216.7Z M664.0 214.4 658.0 212.7 653.1 202.0 658.0 191.3 664.0 189.6 670.0 193.3 673.0 202.0 670.0 210.7 664.0 214.4Z M664.0 211.7 658.0 209.6 655.2 202.0 658.0 194.4 664.0 192.3 669.1 196.0 670.9 202.0 669.1 208.0 664.0 211.7Z M664.0 208.6 657.6 202.0 664.0 195.4 667.9 202.0 664.0 208.6Z"/>
<path stroke="#9933ff" stroke-width="0.65" d="M664.0 210.0 660.6 202.0 664.0 190.0 667.4 202.0 664.0 210.0Z M664.0 208.0 661.6 202.0 664.0 192.2 666.4 202.0 664.0 208.0Z M664.0 204.9 664.0 194.8 664.0 204.9Z"/>
<path stroke="#ff8c1a" stroke-width="0.7" d="M520.0 282.3 508.0 285.3 496.0 283.3 484.0 273.8 475.1 256.0 475.6 238.0 480.8 226.0 490.0 216.2 502.0 210.9 514.0 211.3 520.0 214.1 528.2 220.0 536.4 232.0 539.4 250.0 537.0 262.0 530.1 274.0 520.0 282.3Z M520.0 281.0 508.0 284.5 496.0 282.2 484.0 272.6 476.1 256.0 475.4 244.0 481.9 226.0 490.0 217.3 502.0 211.9 514.0 212.5 526.0 219.2 535.5 232.0 537.3 238.0 536.3 262.0 529.0 274.0 520.0 281.0Z M514.0 282.7 502.0 283.2 490.0 277.5 481.6 268.0 477.2 256.0 476.4 244.0 479.5 232.0 490.0 218.6 502.0 213.1 520.0 215.8 530.9 226.0 536.6 238.0 537.5 250.0 535.4 262.0 526.0 275.7 514.0 282.7Z M514.0 281.5 502.0 282.1 490.0 276.2 482.8 268.0 478.2 256.0 477.6 244.0 480.4 232.0 490.0 220.1 502.0 214.3 520.0 216.9 529.9 226.0 535.8 238.0 536.9 250.0 534.4 262.0 526.0 274.1 514.0 281.5Z M514.0 280.1 502.0 280.8 490.0 274.8 480.5 262.0 478.9 256.0 478.4 244.0 481.5 232.0 490.0 221.1 502.0 215.1 514.0 215.5 526.0 222.9 532.1 232.0 536.0 244.0 535.4 256.0 530.2 268.0 520.0 277.9 514.0 280.1Z M508.0 280.1 496.0 277.9 490.0 273.4 481.6 262.0 479.0 250.0 480.1 238.0 486.5 226.0 496.0 218.2 508.0 215.5 520.0 219.6 527.4 226.0 533.8 238.0 535.3 250.0 532.0 262.0 526.0 271.6 520.0 276.7 508.0 280.1Z M520.0 275.4 508.0 279.2 496.0 276.7 486.2 268.0 480.6 256.0 479.9 244.0 484.0 232.0 490.0 223.7 502.0 217.1 514.0 217.6 520.0 220.7 530.3 232.0 532.5 238.0 533.2 256.0 527.8 268.0 520.0 275.4Z M514.0 277.2 502.0 277.8 496.0 275.3 487.5 268.0 481.6 256.0 480.8 244.0 484.9 232.0 490.0 225.3 502.0 218.3 508.0 217.7 520.0 221.8 529.3 232.0 532.9 244.0 530.2 262.0 526.0 268.3 514.0 277.2Z M514.0 276.0 502.0 276.6 496.0 273.9 488.9 268.0 482.8 256.0 481.9 244.0 486.0 232.0 496.0 221.9 502.0 219.7 508.0 219.0 520.0 223.1 530.7 238.0 531.9 250.0 529.2 262.0 520.0 272.8 514.0 276.0Z M514.0 274.5 508.0 276.0 496.0 272.7 486.1 262.0 484.1 256.0 483.1 244.0 487.2 232.0 496.0 223.1 502.0 220.8 514.0 221.3 520.0 224.6 529.7 238.0 531.1 250.0 527.9 262.0 520.0 271.5 514.0 274.5Z M508.0 274.5 496.0 271.5 492.0 268.0 487.3 262.0 484.2 250.0 485.5 238.0 490.0 230.2 496.0 224.6 508.0 221.3 514.0 222.5 525.3 232.0 528.5 238.0 530.2 250.0 529.2 256.0 522.1 268.0 508.0 274.5Z M520.0 268.2 514.0 272.1 502.0 272.7 493.7 268.0 486.0 256.0 486.7 238.0 496.0 226.2 502.0 223.1 514.0 223.8 520.0 227.6 527.2 238.0 528.0 256.0 520.0 268.2Z M514.0 270.8 502.0 271.5 496.0 268.2 487.2 256.0 487.9 238.0 496.0 227.6 502.0 224.6 508.0 223.8 520.0 229.3 527.7 244.0 523.9 262.0 514.0 270.8Z M514.0 269.2 502.0 270.0 496.0 266.7 488.6 256.0 487.5 244.0 489.5 238.0 496.0 229.2 502.0 226.2 514.0 226.9 524.6 238.0 525.3 256.0 520.0 264.9 514.0 269.2Z M508.0 269.3 496.0 265.0 488.6 250.0 490.9 238.0 495.1 232.0 502.0 227.5 508.0 226.8 520.0 233.2 523.3 238.0 525.3 250.0 520.0 262.8 508.0 269.3Z M514.0 266.0 502.0 266.8 496.0 262.9 491.4 256.0 490.4 244.0 492.3 238.0 502.0 229.1 514.0 230.0 520.0 235.5 523.8 244.0 522.7 256.0 514.0 266.0Z M514.0 264.2 502.0 265.2 492.9 256.0 491.7 244.0 496.0 235.3 502.0 230.9 508.0 229.9 514.0 231.9 522.4 244.0 521.0 256.0 514.0 264.2Z M514.0 262.1 508.0 264.4 502.0 263.3 494.7 256.0 493.2 244.0 496.0 237.9 502.0 232.8 508.0 231.8 514.0 233.9 520.0 242.3 520.0 253.5 514.0 262.1Z M508.0 262.3 502.0 261.1 496.8 256.0 494.6 250.0 498.3 238.0 508.0 233.7 515.8 238.0 519.3 250.0 514.0 259.8 508.0 262.3Z M514.0 257.1 508.0 260.1 499.2 256.0 496.6 250.0 497.1 244.0 502.0 237.2 508.0 235.8 514.0 239.0 517.4 250.0 514.0 257.1Z M508.0 257.6 502.0 255.8 498.9 250.0 502.0 240.5 508.0 238.4 514.0 242.9 515.2 250.0 508.0 257.6Z M508.0 254.1 501.6 250.0 502.9 244.0 508.0 241.8 510.8 244.0 511.9 250.0 508.0 254.1Z"/>
<path stroke="#ff1a1a" stroke-width="0.7" d="M514.0 287.3 502.0 288.4 490.0 284.0 479.4 274.0 472.3 256.0 472.9 238.0 478.4 226.0 490.0 214.4 502.0 209.6 514.0 210.4 526.0 216.9 532.0 223.4 550.0 224.0 554.4 238.0 554.2 256.0 550.0 268.1 538.0 270.8 514.0 287.3Z M514.0 286.2 502.0 287.4 490.0 283.1 480.2 274.0 472.8 256.0 473.4 238.0 479.0 226.0 490.0 215.1 502.0 210.3 514.0 211.2 526.0 218.0 532.0 224.7 550.0 226.2 553.8 238.0 553.5 256.0 550.0 266.1 538.0 269.0 520.0 284.3 514.0 286.2Z M508.0 286.6 496.0 285.1 484.0 277.1 474.6 262.0 473.3 256.0 474.1 238.0 479.7 226.0 490.0 215.8 502.0 211.2 520.0 214.8 532.0 226.2 550.0 228.5 553.6 244.0 550.0 263.7 538.0 267.1 520.0 283.4 508.0 286.6Z M520.0 282.5 502.0 285.6 490.0 281.0 482.3 274.0 473.9 256.0 474.8 238.0 480.6 226.0 490.0 216.7 502.0 212.1 520.0 215.6 532.0 227.4 538.0 230.3 544.0 229.1 550.0 231.1 552.2 238.0 552.8 250.0 550.0 261.1 538.0 265.1 520.0 282.5Z M520.0 281.4 508.0 285.1 496.0 283.6 484.0 274.5 476.4 262.0 474.0 250.0 475.6 238.0 484.0 223.2 496.0 214.8 508.0 212.9 520.0 216.4 538.0 232.8 544.0 231.7 550.0 234.3 552.0 244.0 550.0 258.0 538.0 262.8 520.0 281.4Z M520.0 280.1 508.0 284.5 496.0 282.6 484.5 274.0 477.5 262.0 474.8 250.0 479.0 232.0 484.0 224.5 496.0 215.5 508.0 214.1 520.0 217.4 538.0 235.5 544.0 234.8 550.0 238.1 550.0 253.8 538.0 260.0 527.7 274.0 520.0 280.1Z M514.0 282.4 502.0 283.5 490.0 278.2 480.7 268.0 476.4 256.0 476.0 244.0 479.7 232.0 490.0 220.2 502.0 214.8 514.0 215.6 520.0 218.5 538.0 239.1 544.0 238.6 549.2 244.0 548.4 250.0 538.0 256.7 526.0 274.3 514.0 282.4Z M514.0 281.3 502.0 282.5 490.0 277.2 481.7 268.0 477.5 256.0 477.0 244.0 480.5 232.0 490.0 221.0 502.0 215.5 514.0 216.4 526.0 224.7 535.8 238.0 539.4 250.0 530.3 268.0 520.0 278.5 514.0 281.3Z M514.0 280.0 502.0 281.4 490.0 276.0 482.9 268.0 478.3 256.0 478.1 244.0 481.5 232.0 490.0 221.9 502.0 216.4 514.0 217.4 520.0 220.7 530.5 232.0 536.4 244.0 535.5 256.0 529.4 268.0 520.0 277.6 514.0 280.0Z M508.0 280.5 496.0 278.7 490.0 274.7 480.4 262.0 478.9 256.0 478.6 244.0 482.6 232.0 490.0 223.0 502.0 217.3 508.0 217.0 520.0 221.6 529.6 232.0 534.7 244.0 533.8 256.0 528.3 268.0 520.0 276.5 508.0 280.5Z M520.0 275.2 508.0 279.6 496.0 277.8 481.4 262.0 479.0 250.0 480.6 238.0 488.3 226.0 496.0 220.5 508.0 218.1 514.0 219.9 520.0 222.6 528.6 232.0 533.5 250.0 530.5 262.0 520.0 275.2Z M514.0 277.6 502.0 278.6 496.0 276.7 485.9 268.0 480.4 256.0 480.0 244.0 484.7 232.0 496.0 221.4 502.0 219.7 514.0 220.7 520.0 223.8 530.4 238.0 531.9 250.0 529.7 262.0 520.0 273.9 514.0 277.6Z M514.0 276.5 502.0 277.7 496.0 275.5 487.0 268.0 481.3 256.0 480.9 244.0 485.6 232.0 496.0 222.4 502.0 220.6 514.0 221.5 520.0 225.2 529.6 238.0 530.9 244.0 528.7 262.0 520.0 272.9 514.0 276.5Z M514.0 275.3 502.0 276.7 496.0 274.1 488.3 268.0 482.3 256.0 481.9 244.0 486.7 232.0 496.0 223.5 502.0 221.4 514.0 222.5 520.0 226.5 525.1 232.0 530.2 244.0 527.6 262.0 520.0 271.7 514.0 275.3Z M508.0 275.8 496.0 273.1 490.0 268.2 485.5 262.0 482.5 250.0 487.9 232.0 502.0 222.4 514.0 223.7 520.0 227.6 529.3 244.0 528.9 256.0 522.4 268.0 508.0 275.8Z M508.0 274.5 496.0 272.1 491.1 268.0 486.5 262.0 483.7 250.0 485.6 238.0 489.4 232.0 502.0 223.5 508.0 223.2 520.0 229.0 528.2 244.0 525.3 262.0 520.0 268.9 508.0 274.5Z M514.0 271.9 502.0 273.1 496.0 270.8 487.7 262.0 485.3 256.0 486.7 238.0 496.0 227.3 502.0 224.8 508.0 224.4 520.0 230.5 527.0 244.0 524.2 262.0 514.0 271.9Z M514.0 270.7 502.0 272.1 496.0 269.4 486.3 256.0 487.8 238.0 496.0 228.5 502.0 226.2 514.0 227.4 524.1 238.0 525.8 244.0 523.1 262.0 514.0 270.7Z M514.0 269.2 502.0 270.9 496.0 267.8 487.4 256.0 486.9 244.0 489.2 238.0 496.0 230.0 502.0 227.2 514.0 228.7 522.9 238.0 524.9 244.0 524.5 256.0 520.0 264.2 514.0 269.2Z M508.0 269.9 496.0 266.4 491.8 262.0 487.5 250.0 490.6 238.0 502.0 228.4 514.0 230.1 520.0 235.8 523.9 244.0 523.4 256.0 520.1 262.0 508.0 269.9Z M508.0 268.4 496.0 264.9 488.8 250.0 491.9 238.0 502.0 229.8 514.0 231.8 522.7 244.0 523.3 250.0 520.0 259.8 514.0 266.3 508.0 268.4Z M514.0 264.7 502.0 266.6 496.0 263.0 491.4 256.0 490.8 244.0 496.0 235.0 502.0 231.5 514.0 233.4 521.3 244.0 520.6 256.0 514.0 264.7Z M514.0 262.9 508.0 265.6 502.0 265.1 492.7 256.0 492.1 244.0 496.0 237.0 502.0 233.0 514.0 235.1 519.8 244.0 519.1 256.0 514.0 262.9Z M508.0 264.0 502.0 263.4 496.0 258.5 492.8 250.0 496.0 239.6 502.0 234.6 508.0 234.1 514.0 237.1 518.4 244.0 517.6 256.0 508.0 264.0Z M508.0 262.0 502.0 261.4 496.2 256.0 494.4 250.0 496.0 242.7 502.0 236.5 508.0 235.9 516.7 244.0 515.8 256.0 508.0 262.0Z M508.0 260.0 502.0 259.2 496.2 250.0 497.3 244.0 502.0 238.8 508.0 238.0 514.8 244.0 514.0 255.3 508.0 260.0Z M508.0 257.6 502.0 256.7 498.4 250.0 502.0 241.5 508.0 240.5 512.1 244.0 513.7 250.0 508.0 257.6Z M508.0 254.1 500.9 250.0 502.0 246.0 508.0 243.4 510.7 250.0 508.0 254.1Z"/>
<path stroke="#1fdc1f" stroke-width="0.65" d="M514.0 259.9 502.0 261.0 496.1 256.0 493.2 250.0 494.8 238.0 502.0 230.9 508.0 229.8 513.7 232.0 519.1 238.0 520.7 250.0 514.0 259.9Z M514.0 258.1 508.0 260.5 502.0 259.4 494.7 250.0 496.5 238.0 502.0 232.7 508.0 231.5 517.5 238.0 519.2 250.0 514.0 258.1Z M508.0 258.8 500.3 256.0 496.4 250.0 496.0 244.0 502.0 234.6 508.0 233.3 514.0 236.1 518.1 244.0 517.6 250.0 514.0 255.9 508.0 258.8Z M508.0 256.9 502.0 255.1 498.3 250.0 497.7 244.0 502.0 236.8 508.0 235.2 514.0 238.8 516.4 244.0 514.0 253.0 508.0 256.9Z M508.0 254.4 502.0 252.2 499.7 244.0 502.0 239.9 508.0 237.4 514.4 244.0 513.6 250.0 508.0 254.4Z M508.0 251.5 504.5 250.0 502.3 244.0 508.0 240.7 511.2 244.0 508.0 251.5Z"/>
<path stroke="#9933ff" stroke-width="0.65" d="M508.0 250.9 502.0 244.0 508.0 237.1 510.2 244.0 508.0 250.9Z M508.0 248.3 504.6 244.0 508.0 239.7 508.0 248.3Z M508.0 244.6 508.0 244.6Z"/>
<path stroke="#2a2aff" stroke-width="0.65" d="M562.0 332.9 556.0 333.7 550.0 329.1 544.1 310.0 545.7 292.0 550.0 282.9 556.0 278.1 562.0 279.1 567.8 286.0 571.8 298.0 571.4 316.0 568.0 325.6 562.0 332.9Z M658.0 319.1 652.0 322.0 646.0 319.1 640.2 304.0 642.7 286.0 646.0 280.9 652.0 277.8 658.0 280.9 663.2 292.0 662.7 310.0 658.0 319.1Z M562.0 330.9 556.0 331.8 550.0 326.5 545.0 310.0 546.9 292.0 550.0 285.5 556.0 280.3 562.0 281.2 566.1 286.0 570.7 298.0 570.3 316.0 562.0 330.9Z M658.0 316.6 652.0 320.0 646.0 316.6 641.3 304.0 644.3 286.0 652.0 280.1 658.0 283.4 662.0 292.0 662.7 304.0 658.0 316.6Z M562.0 328.5 556.0 329.6 550.0 323.7 546.0 310.0 548.2 292.0 556.0 282.3 562.0 283.4 569.5 298.0 569.0 316.0 562.0 328.5Z M652.0 317.6 644.1 310.0 642.4 298.0 646.0 286.3 652.0 282.4 658.0 286.3 661.6 298.0 659.9 310.0 652.0 317.6Z M562.0 326.1 556.0 327.2 551.0 322.0 547.2 310.0 549.8 292.0 556.0 284.7 562.0 286.0 568.0 298.0 567.5 316.0 562.0 326.1Z M658.0 310.1 652.0 314.9 646.0 310.1 644.1 304.0 645.1 292.0 652.0 285.0 658.9 292.0 659.9 304.0 658.0 310.1Z M562.0 323.3 556.0 324.7 550.0 316.3 548.6 310.0 549.3 298.0 556.0 287.4 562.0 288.7 566.6 298.0 567.3 310.0 562.0 323.3Z M652.0 311.9 646.0 304.5 645.6 298.0 652.0 288.2 658.4 298.0 658.0 304.5 652.0 311.9Z M562.0 320.0 556.0 321.7 550.2 310.0 551.2 298.0 556.0 290.3 562.0 291.9 564.9 298.0 565.8 310.0 562.0 320.0Z M652.0 307.8 648.6 298.0 652.0 291.9 655.4 298.0 652.0 307.8Z M562.0 316.2 556.0 318.2 552.2 310.0 551.9 304.0 556.0 293.8 562.9 298.0 564.0 310.0 562.0 316.2Z M556.0 313.5 554.2 304.0 556.0 298.2 562.2 304.0 561.7 310.0 556.0 313.5Z"/>
<path stroke="#9933ff" stroke-width="0.65" d="M568.0 334.3 562.0 336.3 556.0 334.3 550.0 328.4 546.3 322.0 542.7 304.0 547.2 280.0 556.0 269.5 562.0 268.0 568.0 269.5 574.0 275.5 579.0 286.0 581.2 298.0 577.7 322.0 568.0 334.3Z M652.0 323.9 646.0 323.0 640.0 316.2 635.7 298.0 640.0 279.8 646.0 273.0 652.0 272.1 660.2 280.0 664.0 298.0 660.2 316.0 652.0 323.9Z M562.0 334.5 556.0 332.7 550.0 326.4 545.4 316.0 543.9 304.0 544.6 292.0 548.5 280.0 556.0 271.2 562.0 269.4 568.0 271.2 575.5 280.0 579.4 292.0 580.1 304.0 578.6 316.0 574.0 326.4 568.0 332.7 562.0 334.5Z M658.0 317.1 652.0 321.9 646.0 321.0 638.5 310.0 637.1 292.0 640.0 282.6 646.0 275.0 652.0 274.1 658.0 278.9 661.5 286.0 662.8 304.0 658.0 317.1Z M568.0 331.0 562.0 332.9 556.0 331.0 548.8 322.0 545.1 310.0 547.0 286.0 555.0 274.0 562.0 271.0 568.0 273.1 574.0 280.0 579.2 298.0 577.6 316.0 568.0 331.0Z M652.0 320.0 646.0 319.0 643.3 316.0 637.8 298.0 643.3 280.0 646.0 277.0 652.0 276.0 660.2 286.0 662.2 298.0 660.2 310.0 652.0 320.0Z M568.0 329.0 562.0 331.2 556.0 329.0 550.0 321.5 546.1 310.0 545.6 298.0 548.3 286.0 556.0 275.0 562.0 272.9 568.0 275.0 572.5 280.0 578.4 298.0 576.5 316.0 568.0 329.0Z M652.0 317.8 646.0 316.6 641.5 310.0 639.1 298.0 641.5 286.0 646.0 279.4 652.0 278.2 658.7 286.0 661.0 298.0 658.7 310.0 652.0 317.8Z M562.0 329.3 556.0 327.0 551.8 322.0 546.5 304.0 550.0 285.4 556.0 276.9 562.0 274.8 568.0 276.9 574.0 285.4 577.5 304.0 572.2 322.0 568.0 327.0 562.0 329.3Z M652.0 315.3 646.0 314.0 643.2 310.0 640.5 298.0 643.2 286.0 646.0 282.0 652.0 280.7 658.0 288.7 659.7 298.0 658.0 307.3 652.0 315.3Z M568.0 324.9 562.0 327.3 556.0 324.9 550.3 316.0 547.6 304.0 551.1 286.0 556.0 279.1 562.0 276.6 568.0 279.1 572.9 286.0 576.2 298.0 575.6 310.0 568.0 324.9Z M652.0 312.6 646.0 311.1 642.0 298.0 646.0 284.9 652.0 283.4 657.3 292.0 658.1 298.0 657.3 304.0 652.0 312.6Z M568.0 322.5 562.0 325.3 556.0 322.5 551.7 316.0 548.9 304.0 552.7 286.0 556.0 281.5 562.0 278.8 568.0 281.5 571.3 286.0 574.9 298.0 574.2 310.0 568.0 322.5Z M652.0 309.4 646.0 307.2 643.7 298.0 646.0 288.8 652.0 286.6 656.2 298.0 652.0 309.4Z M562.0 323.0 553.4 316.0 550.4 304.0 554.6 286.0 562.0 281.0 569.4 286.0 573.6 304.0 570.6 316.0 562.0 323.0Z M652.0 305.1 645.7 298.0 652.0 290.9 653.9 298.0 652.0 305.1Z M568.0 317.0 562.0 320.5 556.0 317.0 552.7 310.0 553.4 292.0 556.0 287.0 562.0 283.5 568.0 287.0 572.1 298.0 571.3 310.0 568.0 317.0Z M562.0 317.8 556.0 313.3 553.3 304.0 555.3 292.0 562.0 286.3 568.7 292.0 570.7 304.0 568.0 313.3 562.0 317.8Z M562.0 314.5 557.0 310.0 555.1 304.0 556.0 296.0 562.0 289.5 568.0 296.0 568.9 304.0 567.0 310.0 562.0 314.5Z M562.0 310.5 558.1 304.0 558.7 298.0 562.0 293.7 565.3 298.0 565.9 304.0 562.0 310.5Z"/>
<path stroke="#1fdc1f" stroke-width="0.65" d="M568.0 332.0 562.0 331.3 556.0 325.6 551.6 316.0 550.0 304.0 550.7 292.0 555.0 280.0 562.0 272.8 568.0 272.0 577.0 280.0 581.4 292.0 582.5 304.0 578.1 322.0 568.0 332.0Z M658.0 316.1 652.0 321.2 646.0 321.8 637.9 316.0 632.7 304.0 631.7 292.0 634.7 280.0 640.0 271.5 646.0 268.2 652.0 268.8 658.0 273.9 663.2 286.0 663.2 304.0 658.0 316.1Z M568.0 330.3 562.0 329.5 556.0 323.3 550.8 304.0 551.6 292.0 556.0 280.8 562.0 274.6 568.0 273.9 574.0 277.9 578.6 286.0 581.4 304.0 576.8 322.0 568.0 330.3Z M652.0 319.3 646.0 320.0 640.0 316.1 636.0 310.0 633.1 298.0 636.0 280.0 640.0 273.9 646.0 270.0 652.0 270.7 658.0 276.4 662.9 292.0 660.0 310.0 652.0 319.3Z M652.0 317.1 646.0 317.9 640.0 313.7 634.4 298.0 637.6 280.0 646.0 272.1 652.0 272.9 658.0 279.4 661.7 292.0 660.7 304.0 652.0 317.1Z M568.0 328.3 562.0 327.5 556.8 322.0 551.6 304.0 552.6 292.0 556.0 283.2 562.0 276.4 568.0 275.6 577.4 286.0 580.1 304.0 575.3 322.0 568.0 328.3Z M568.0 326.5 562.0 325.6 558.6 322.0 552.6 304.0 556.0 286.0 562.0 278.4 568.0 277.5 576.1 286.0 579.2 304.0 577.0 316.0 568.0 326.5Z M652.0 314.7 646.0 315.5 640.0 310.8 635.7 298.0 636.8 286.0 640.0 279.2 646.0 274.5 652.0 275.3 656.3 280.0 660.4 292.0 659.2 304.0 652.0 314.7Z M568.0 324.4 560.7 322.0 556.6 316.0 553.7 304.0 557.6 286.0 562.0 280.7 568.0 279.7 574.5 286.0 578.2 304.0 575.6 316.0 568.0 324.4Z M652.0 312.1 646.0 313.1 642.2 310.0 637.2 298.0 638.5 286.0 646.0 276.9 654.0 280.0 658.8 292.0 657.4 304.0 652.0 312.1Z M646.0 310.3 640.5 304.0 638.9 298.0 640.5 286.0 646.0 279.7 652.0 280.9 657.0 292.0 655.3 304.0 652.0 309.1 646.0 310.3Z M568.0 322.1 562.0 321.0 558.3 316.0 555.0 304.0 559.5 286.0 562.0 282.9 568.0 281.9 575.6 292.0 577.1 304.0 574.0 315.8 568.0 322.1Z M568.0 319.7 560.2 316.0 556.5 304.0 558.1 292.0 562.0 285.6 568.0 284.3 574.0 292.0 575.7 304.0 574.0 311.8 568.0 319.7Z M652.0 305.4 646.0 306.9 641.0 298.0 641.0 292.0 646.0 283.1 652.0 284.6 655.0 292.0 652.0 305.4Z M568.0 316.9 562.0 315.4 558.0 304.0 560.0 292.0 562.0 288.7 568.0 287.1 571.8 292.0 574.1 304.0 568.0 316.9Z M652.0 299.6 646.0 302.5 643.8 298.0 646.0 287.5 652.0 290.4 652.0 299.6Z M568.0 313.5 562.0 311.5 559.7 304.0 562.0 292.4 568.0 290.4 572.2 304.0 568.0 313.5Z M568.0 309.2 561.7 304.0 562.3 298.0 568.0 295.0 569.8 304.0 568.0 309.2Z"/>
<path stroke="#ff8c1a" stroke-width="0.8" d="M577.8 340.0 563.9 322.0 559.4 310.0 557.5 298.0 558.9 280.0 566.2 262.0 574.0 251.7 586.0 241.9 598.0 238.9 610.0 244.7 625.9 262.0 640.0 302.7 640.9 298.0 652.0 286.3 658.0 282.6 670.0 280.8 682.0 285.1 688.0 290.6 693.8 304.0 690.6 322.0 682.0 331.1 670.0 335.2 658.0 333.2 645.1 322.0 640.0 308.0 634.0 309.5 624.8 328.0 614.2 340.0 M579.4 340.0 568.7 328.0 562.6 316.0 559.0 304.0 558.7 286.0 564.0 268.0 571.3 256.0 586.0 243.2 598.0 239.8 610.0 245.6 620.6 256.0 630.5 274.0 633.4 286.0 634.8 298.0 632.9 310.0 623.5 328.0 612.8 340.0 M682.0 329.7 670.0 333.9 658.0 332.1 652.0 328.0 642.9 316.0 641.1 304.0 642.8 298.0 658.0 283.8 664.0 282.0 676.0 283.0 682.0 286.5 691.4 298.0 692.1 316.0 682.0 329.7Z M580.9 340.0 569.6 328.0 563.3 316.0 559.3 298.0 559.7 286.0 564.9 268.0 572.7 256.0 586.0 244.4 598.0 240.8 610.0 246.7 619.5 256.0 626.9 268.0 632.6 286.0 631.8 310.0 626.3 322.0 611.2 340.0 M682.0 328.1 676.0 331.7 664.0 332.7 658.0 330.9 647.8 322.0 642.7 310.0 642.7 304.0 652.0 289.1 664.0 283.1 670.0 282.9 676.0 284.3 686.4 292.0 690.2 298.0 692.2 310.0 687.7 322.0 682.0 328.1Z M582.3 340.0 570.6 328.0 564.2 316.0 560.3 298.0 560.9 286.0 566.1 268.0 574.1 256.0 586.0 245.3 598.0 241.9 610.0 248.0 618.2 256.0 626.0 268.0 631.7 286.0 630.5 310.0 621.2 328.0 609.5 340.0 M676.0 330.4 664.0 331.6 658.0 329.5 649.3 322.0 644.3 310.0 644.5 304.0 650.8 292.0 664.0 284.4 670.0 284.1 682.0 289.2 690.8 304.0 689.7 316.0 686.5 322.0 676.0 330.4Z M584.1 340.0 571.8 328.0 565.2 316.0 561.6 298.0 562.9 280.0 575.1 256.0 586.0 246.4 598.0 243.3 610.0 249.5 621.3 262.0 627.3 274.0 631.4 292.0 630.8 304.0 624.0 322.0 607.9 340.0 M676.0 329.0 664.0 330.4 658.0 327.9 647.4 316.0 646.3 304.0 648.0 298.0 658.0 287.9 670.0 285.6 676.0 287.0 687.4 298.0 689.8 310.0 688.2 316.0 685.0 322.0 676.0 329.0Z M586.1 340.0 574.0 328.9 566.4 316.0 563.0 304.0 562.7 286.0 565.5 274.0 576.3 256.0 586.0 247.6 598.0 244.4 610.0 250.7 620.4 262.0 626.5 274.0 630.3 292.0 626.0 316.0 619.1 328.0 606.0 340.0 M670.0 329.2 658.0 326.6 652.0 321.1 647.2 310.0 649.5 298.0 658.0 289.3 664.0 287.1 676.0 288.3 681.3 292.0 688.0 304.0 687.0 316.0 683.4 322.0 670.0 329.2Z M588.2 340.0 580.0 334.0 570.2 322.0 563.8 304.0 563.5 286.0 569.2 268.0 577.6 256.0 592.0 245.8 598.0 245.3 610.0 251.8 619.3 262.0 625.6 274.0 629.0 292.0 624.9 316.0 616.0 330.0 603.9 340.0 M676.0 326.1 664.0 327.4 658.0 325.0 650.2 316.0 648.8 304.0 651.3 298.0 658.0 291.0 664.0 288.4 676.0 289.8 684.6 298.0 686.8 304.0 685.7 316.0 676.0 326.1Z M590.7 340.0 580.0 332.9 571.3 322.0 564.7 304.0 563.9 292.0 565.6 280.0 574.3 262.0 586.0 250.4 598.0 246.3 610.0 253.1 618.0 262.0 624.5 274.0 627.8 292.0 626.0 310.0 620.6 322.0 610.0 334.6 601.2 340.0 M676.0 324.6 664.0 326.1 658.0 323.3 652.0 316.0 650.3 304.0 653.0 298.0 664.0 289.9 676.0 291.6 682.9 298.0 685.5 304.0 684.1 316.0 676.0 324.6Z M604.0 337.9 592.0 339.5 580.0 331.6 569.5 316.0 564.9 298.0 565.4 286.0 571.3 268.0 586.0 251.4 598.0 247.5 610.0 254.6 620.6 268.0 625.5 280.0 627.1 292.0 625.0 310.0 619.5 322.0 604.0 337.9Z M676.0 322.7 664.0 324.5 653.6 316.0 652.1 304.0 654.8 298.0 664.0 291.6 676.0 293.3 684.0 304.0 682.3 316.0 676.0 322.7Z M604.0 336.7 592.0 338.6 580.0 330.0 570.4 316.0 566.0 298.0 569.7 274.0 576.4 262.0 586.0 252.6 598.0 248.9 610.0 256.2 619.5 268.0 626.2 292.0 625.4 304.0 618.3 322.0 604.0 336.7Z M670.0 323.2 664.0 322.7 658.0 319.1 653.3 310.0 656.9 298.0 664.0 293.3 676.0 295.2 682.2 304.0 680.5 316.0 670.0 323.2Z M604.0 335.2 598.0 338.0 592.0 337.4 580.0 328.2 571.6 316.0 567.3 298.0 570.7 274.0 580.0 259.5 592.0 250.8 598.0 250.3 610.0 257.5 618.3 268.0 624.7 286.0 625.2 298.0 620.4 316.0 612.5 328.0 604.0 335.2Z M676.0 318.5 670.0 321.3 664.0 320.8 657.5 316.0 655.5 304.0 659.5 298.0 670.0 294.6 676.6 298.0 680.4 304.0 680.8 310.0 676.0 318.5Z M598.0 336.8 586.0 332.6 576.1 322.0 570.3 310.0 568.3 292.0 571.9 274.0 579.4 262.0 592.0 251.9 598.0 251.3 610.0 258.9 616.9 268.0 624.2 292.0 619.3 316.0 610.0 328.9 598.0 336.8Z M670.0 319.3 664.0 318.7 657.1 310.0 657.6 304.0 664.0 297.3 670.0 296.7 678.3 304.0 678.9 310.0 676.0 315.9 670.0 319.3Z M598.0 335.4 586.0 331.2 577.4 322.0 571.4 310.0 569.0 292.0 570.8 280.0 576.1 268.0 586.0 257.0 598.0 252.5 610.0 260.6 615.6 268.0 621.0 280.0 622.9 292.0 618.1 316.0 609.3 328.0 598.0 335.4Z M670.0 316.9 664.0 316.2 659.6 310.0 660.3 304.0 664.0 300.1 670.0 299.2 675.9 304.0 676.6 310.0 670.0 316.9Z M604.0 331.2 598.0 333.8 592.0 333.3 584.2 328.0 575.2 316.0 570.0 298.0 571.9 280.0 577.4 268.0 586.0 258.3 598.0 253.9 604.0 256.9 614.5 268.0 621.3 286.0 619.5 310.0 613.2 322.0 604.0 331.2Z M670.0 313.3 662.6 310.0 664.0 303.5 672.0 304.0 673.1 310.0 670.0 313.3Z M604.0 329.7 598.0 332.7 592.0 332.1 586.0 327.9 576.3 316.0 571.1 298.0 571.6 286.0 578.9 268.0 586.0 259.8 598.0 255.4 604.0 258.3 613.3 268.0 619.0 280.0 620.9 292.0 618.3 310.0 611.8 322.0 604.0 329.7Z M598.0 331.4 592.0 330.7 586.0 326.5 577.6 316.0 572.1 292.0 574.5 280.0 580.4 268.0 592.0 257.4 598.0 256.8 611.8 268.0 617.7 280.0 619.9 292.0 618.9 304.0 614.3 316.0 604.0 327.9 598.0 331.4Z M598.0 329.9 586.0 324.9 579.1 316.0 574.5 304.0 573.5 292.0 575.4 280.0 581.7 268.0 592.0 258.8 598.0 258.0 604.5 262.0 614.1 274.0 618.8 292.0 617.7 304.0 613.1 316.0 604.0 326.6 598.0 329.9Z M598.0 328.2 592.0 327.5 580.5 316.0 575.5 304.0 574.6 292.0 576.6 280.0 583.1 268.0 592.0 260.4 598.0 259.5 604.0 263.1 612.8 274.0 617.6 292.0 616.2 304.0 611.6 316.0 604.0 325.0 598.0 328.2Z M604.0 323.2 598.0 326.8 592.0 326.1 586.9 322.0 578.7 310.0 575.7 298.0 576.2 286.0 580.7 274.0 592.0 262.2 598.0 261.2 610.0 272.0 615.5 286.0 613.4 310.0 604.0 323.2Z M598.0 325.4 592.0 324.4 583.3 316.0 577.9 304.0 576.7 292.0 582.0 274.0 592.0 263.6 598.0 262.8 609.8 274.0 615.1 292.0 612.0 310.0 604.0 321.3 598.0 325.4Z M598.0 323.6 592.0 322.5 585.0 316.0 579.4 304.0 578.0 292.0 583.5 274.0 592.0 265.3 598.0 264.3 608.4 274.0 614.1 292.0 610.4 310.0 604.0 319.5 598.0 323.6Z M604.0 317.4 598.0 321.7 592.0 320.8 582.8 310.0 579.7 298.0 580.3 286.0 585.3 274.0 592.0 267.2 598.0 266.1 606.8 274.0 612.8 292.0 611.4 304.0 604.0 317.4Z M598.0 320.1 592.0 319.0 584.4 310.0 580.7 292.0 587.1 274.0 592.0 269.1 598.0 268.1 608.5 280.0 611.4 292.0 607.6 310.0 598.0 320.1Z M598.0 318.1 592.0 316.8 586.2 310.0 581.9 292.0 585.1 280.0 589.1 274.0 598.0 269.9 607.0 280.0 609.8 292.0 605.9 310.0 598.0 318.1Z M598.0 315.9 592.0 314.6 588.0 310.0 583.3 292.0 586.8 280.0 592.0 273.4 598.0 272.0 605.3 280.0 608.6 292.0 607.1 304.0 598.0 315.9Z M598.0 313.7 590.1 310.0 586.8 304.0 585.0 292.0 588.7 280.0 592.0 275.8 598.0 274.3 604.0 281.4 607.1 292.0 605.3 304.0 598.0 313.7Z M598.0 311.2 592.0 309.5 588.5 304.0 586.7 292.0 590.8 280.0 598.0 276.8 604.0 285.6 605.5 292.0 603.4 304.0 598.0 311.2Z M598.0 308.3 590.6 304.0 588.3 292.0 592.0 281.8 598.0 279.6 603.6 292.0 603.3 298.0 598.0 308.3Z M598.0 305.0 592.0 301.8 590.3 292.0 592.0 285.9 598.0 283.1 601.6 292.0 598.0 305.0Z M598.0 300.0 595.0 298.0 593.8 292.0 598.0 288.1 598.0 300.0Z"/>
<path stroke="#ff1a1a" stroke-width="0.8" d="M575.0 340.0 565.0 328.0 559.1 316.0 556.1 298.0 557.0 280.0 563.8 262.0 573.1 250.0 586.0 239.6 598.0 236.9 610.0 242.1 624.2 256.0 631.3 268.0 640.0 293.9 658.0 281.4 676.0 280.8 682.0 283.3 691.4 292.0 696.3 304.0 692.6 322.0 682.0 332.6 670.0 336.5 658.0 334.2 647.9 328.0 640.0 316.8 634.0 315.7 616.9 340.0 M576.1 340.0 566.0 328.0 558.1 310.0 557.6 280.0 564.7 262.0 574.0 250.3 586.0 240.5 598.0 238.1 610.0 243.4 623.0 256.0 630.4 268.0 640.0 297.5 644.1 292.0 658.0 282.2 670.0 280.7 682.0 284.4 688.0 289.4 695.2 304.0 691.7 322.0 682.0 331.7 670.0 335.5 658.0 333.4 643.8 322.0 640.0 313.4 634.0 312.9 626.2 328.0 615.6 340.0 M577.3 340.0 563.5 322.0 558.9 310.0 557.1 298.0 558.4 280.0 565.7 262.0 574.0 251.2 586.0 241.5 598.0 238.7 610.0 244.4 626.3 262.0 632.0 274.0 640.0 304.0 641.2 298.0 652.0 286.8 658.0 283.2 670.0 281.4 676.0 282.5 688.0 290.9 693.9 304.0 690.6 322.0 682.0 330.6 670.0 334.2 658.0 332.6 650.8 328.0 641.6 316.0 640.0 304.1 634.0 309.5 625.3 328.0 614.6 340.0 M578.7 340.0 564.3 322.0 559.8 310.0 557.8 298.0 559.2 280.0 563.4 268.0 574.0 252.3 586.0 242.7 598.0 239.4 610.0 245.2 621.1 256.0 632.8 280.0 635.4 298.0 633.2 310.0 624.2 328.0 613.5 340.0 M682.0 329.4 676.0 332.4 664.0 333.3 658.0 331.7 646.6 322.0 642.8 316.0 641.1 304.0 642.8 298.0 652.0 287.9 658.0 284.3 670.0 282.2 682.0 286.7 687.7 292.0 691.7 298.0 693.4 310.0 689.4 322.0 682.0 329.4Z M580.2 340.0 569.0 328.0 562.8 316.0 559.2 304.0 558.9 286.0 564.2 268.0 571.8 256.0 586.0 244.0 598.0 240.2 610.0 246.1 620.2 256.0 630.2 274.0 633.1 286.0 632.3 310.0 622.9 328.0 612.1 340.0 M676.0 331.5 664.0 332.4 658.0 330.7 647.6 322.0 642.3 310.0 642.3 304.0 648.9 292.0 664.0 283.5 670.0 283.2 682.0 287.8 690.7 298.0 692.4 304.0 691.5 316.0 687.9 322.0 676.0 331.5Z M581.4 340.0 569.8 328.0 563.5 316.0 559.4 298.0 559.8 286.0 565.1 268.0 573.1 256.0 586.0 244.7 598.0 241.2 610.0 247.1 619.2 256.0 626.7 268.0 632.4 286.0 631.3 310.0 626.0 322.0 610.5 340.0 M676.0 330.4 664.0 331.5 658.0 329.4 648.8 322.0 643.6 310.0 643.8 304.0 650.5 292.0 664.0 284.6 670.0 284.3 682.0 289.0 691.5 304.0 690.4 316.0 686.9 322.0 676.0 330.4Z M582.8 340.0 570.8 328.0 564.3 316.0 560.4 298.0 560.9 286.0 566.2 268.0 574.3 256.0 586.0 245.6 598.0 242.3 610.0 248.4 618.0 256.0 626.0 268.0 631.6 286.0 630.1 310.0 621.0 328.0 609.1 340.0 M676.0 329.1 664.0 330.4 658.0 328.0 650.3 322.0 646.8 316.0 645.2 310.0 647.4 298.0 658.0 287.7 670.0 285.6 676.0 286.9 682.0 290.3 688.0 298.0 690.4 304.0 689.1 316.0 685.7 322.0 676.0 329.1Z M584.4 340.0 571.9 328.0 565.2 316.0 561.6 298.0 562.8 280.0 575.2 256.0 586.0 246.5 598.0 243.6 610.0 249.8 621.3 262.0 627.3 274.0 631.3 292.0 630.6 304.0 623.9 322.0 607.6 340.0 M670.0 329.5 658.0 327.0 652.0 322.1 646.4 310.0 648.6 298.0 658.0 288.8 664.0 286.9 676.0 287.9 682.0 291.9 689.2 304.0 689.5 310.0 684.3 322.0 670.0 329.5Z M586.2 340.0 574.0 329.0 566.2 316.0 562.8 304.0 562.6 286.0 565.3 274.0 576.3 256.0 586.0 247.6 598.0 244.5 610.0 250.7 620.4 262.0 626.6 274.0 630.4 292.0 626.0 316.0 619.1 328.0 605.9 340.0 M670.0 328.1 658.0 325.8 649.0 316.0 647.4 310.0 650.0 298.0 658.0 290.2 664.0 287.9 670.0 287.6 680.3 292.0 687.8 304.0 686.8 316.0 682.6 322.0 670.0 328.1Z M588.1 340.0 579.8 334.0 570.0 322.0 563.5 304.0 563.3 286.0 569.1 268.0 577.5 256.0 592.0 245.8 598.0 245.3 610.0 251.7 619.5 262.0 625.8 274.0 629.2 292.0 625.1 316.0 616.0 330.2 603.9 340.0 M676.0 325.6 664.0 326.8 658.0 324.5 650.4 316.0 648.8 304.0 651.6 298.0 664.0 289.0 676.0 290.5 684.5 298.0 686.8 304.0 685.6 316.0 676.0 325.6Z M590.3 340.0 580.0 333.1 571.0 322.0 564.3 304.0 564.0 286.0 569.9 268.0 578.9 256.0 592.0 246.7 598.0 246.2 610.0 252.8 618.4 262.0 624.9 274.0 628.0 292.0 626.3 310.0 620.9 322.0 610.0 334.9 601.5 340.0 M676.0 324.2 664.0 325.7 658.0 322.9 649.9 310.0 653.1 298.0 664.0 290.3 676.0 292.0 682.9 298.0 685.7 304.0 684.2 316.0 676.0 324.2Z M595.3 340.0 586.0 337.1 572.1 322.0 565.2 304.0 564.3 292.0 566.2 280.0 574.9 262.0 586.0 251.1 598.0 247.2 610.0 254.1 617.1 262.0 625.9 280.0 627.4 292.0 625.4 310.0 620.0 322.0 610.0 333.6 598.8 340.0 M676.0 322.6 664.0 324.3 653.4 316.0 651.8 304.0 658.0 294.7 670.0 291.5 681.2 298.0 684.7 310.0 682.6 316.0 676.0 322.6Z M604.0 337.2 592.0 338.9 580.0 330.7 569.9 316.0 565.3 298.0 569.2 274.0 575.9 262.0 586.0 252.1 598.0 248.4 610.0 255.6 620.1 268.0 625.0 280.0 626.7 292.0 624.4 310.0 619.0 322.0 604.0 337.2Z M670.0 323.2 658.0 319.5 652.8 310.0 656.5 298.0 664.0 293.2 676.0 295.0 682.8 304.0 681.0 316.0 670.0 323.2Z M604.0 336.0 598.0 338.6 592.0 338.0 580.0 329.2 570.8 316.0 566.4 298.0 570.0 274.0 580.0 258.6 592.0 250.4 598.0 249.8 610.0 256.8 619.1 268.0 625.4 286.0 625.1 304.0 621.0 316.0 613.3 328.0 604.0 336.0Z M676.0 319.2 664.0 321.2 656.8 316.0 654.7 304.0 658.7 298.0 670.0 294.3 677.4 298.0 681.2 304.0 681.6 310.0 676.0 319.2Z M604.0 334.5 598.0 337.6 586.0 333.3 575.4 322.0 568.4 304.0 567.4 292.0 570.9 274.0 580.0 260.1 592.0 251.2 598.0 250.7 610.0 258.0 617.9 268.0 624.4 286.0 624.9 298.0 620.1 316.0 612.0 328.0 604.0 334.5Z M676.0 317.1 670.0 320.0 664.0 319.5 659.0 316.0 655.9 310.0 656.4 304.0 661.5 298.0 670.0 295.9 676.0 299.0 679.5 304.0 680.0 310.0 676.0 317.1Z M598.0 336.4 586.0 332.2 576.4 322.0 570.4 310.0 568.3 292.0 569.9 280.0 575.2 268.0 586.0 256.1 592.0 252.2 598.0 251.6 610.0 259.3 616.6 268.0 624.0 292.0 619.1 316.0 610.0 328.4 598.0 336.4Z M670.0 318.2 664.0 317.5 657.8 310.0 658.5 304.0 664.0 298.5 670.0 297.8 677.5 304.0 678.2 310.0 676.0 314.1 670.0 318.2Z M598.0 335.0 586.0 331.0 577.6 322.0 571.4 310.0 569.0 292.0 570.8 280.0 576.2 268.0 586.0 257.2 598.0 252.7 610.0 260.9 615.5 268.0 621.0 280.0 622.8 292.0 618.0 316.0 610.0 327.1 598.0 335.0Z M670.0 316.0 664.0 315.0 660.2 310.0 661.1 304.0 664.0 301.1 670.0 300.2 675.0 304.0 676.0 310.0 670.0 316.0Z M604.0 331.2 598.0 333.7 592.0 333.2 584.3 328.0 575.2 316.0 569.9 298.0 571.8 280.0 577.4 268.0 586.0 258.4 598.0 254.0 604.0 257.0 614.5 268.0 621.3 286.0 619.6 310.0 613.2 322.0 604.0 331.2Z M670.0 312.7 663.0 310.0 664.2 304.0 671.4 304.0 672.7 310.0 670.0 312.7Z M604.0 329.8 598.0 332.8 592.0 332.1 586.0 327.9 576.1 316.0 570.8 298.0 571.4 286.0 578.7 268.0 586.0 259.7 598.0 255.4 604.0 258.2 613.4 268.0 619.2 280.0 621.1 292.0 618.5 310.0 611.9 322.0 604.0 329.8Z M604.0 328.2 598.0 331.6 592.0 330.9 586.0 326.8 577.3 316.0 571.9 298.0 572.5 286.0 576.2 274.0 585.3 262.0 592.0 257.2 598.0 256.6 610.0 265.3 619.7 286.0 620.1 298.0 617.3 310.0 610.4 322.0 604.0 328.2Z M598.0 330.3 586.0 325.4 578.6 316.0 574.2 304.0 573.0 292.0 575.1 280.0 581.2 268.0 592.0 258.4 598.0 257.7 605.0 262.0 614.5 274.0 619.3 292.0 618.2 304.0 613.5 316.0 604.0 327.0 598.0 330.3Z M598.0 328.8 586.0 323.8 580.1 316.0 575.0 304.0 574.2 292.0 576.0 280.0 582.5 268.0 592.0 259.8 598.0 258.9 604.0 262.6 613.5 274.0 618.2 292.0 616.9 304.0 612.3 316.0 604.0 325.6 598.0 328.8Z M604.0 324.1 598.0 327.5 592.0 326.7 586.0 322.0 577.9 310.0 575.1 298.0 575.5 286.0 580.1 274.0 586.0 265.7 592.0 261.4 598.0 260.4 604.0 263.9 612.2 274.0 617.0 292.0 614.1 310.0 604.0 324.1Z M604.0 322.4 598.0 326.3 592.0 325.4 582.3 316.0 577.0 304.0 575.9 292.0 578.3 280.0 585.6 268.0 592.0 262.8 598.0 262.0 604.0 265.4 610.8 274.0 615.2 286.0 614.9 304.0 604.0 322.4Z M598.0 324.9 592.0 323.9 583.7 316.0 578.2 304.0 576.9 292.0 582.4 274.0 592.0 264.1 598.0 263.2 609.4 274.0 614.9 292.0 611.7 310.0 604.0 320.8 598.0 324.9Z M598.0 323.2 592.0 322.1 585.3 316.0 579.6 304.0 578.1 292.0 583.8 274.0 592.0 265.6 598.0 264.6 608.2 274.0 614.0 292.0 610.2 310.0 604.0 319.2 598.0 323.2Z M604.0 317.3 598.0 321.6 592.0 320.7 582.8 310.0 579.7 298.0 580.3 286.0 585.4 274.0 592.0 267.4 598.0 266.3 606.7 274.0 612.8 292.0 611.4 304.0 604.0 317.3Z M598.0 320.1 592.0 319.0 584.3 310.0 580.6 292.0 583.3 280.0 587.0 274.0 592.0 269.1 598.0 268.1 608.6 280.0 611.5 292.0 607.7 310.0 598.0 320.1Z M598.0 318.4 592.0 317.1 586.0 310.0 581.7 292.0 584.8 280.0 588.8 274.0 592.0 270.8 598.0 269.7 607.3 280.0 610.0 292.0 606.2 310.0 598.0 318.4Z M598.0 316.4 592.0 315.2 587.5 310.0 582.9 292.0 586.4 280.0 590.8 274.0 598.0 271.5 605.8 280.0 609.0 292.0 607.5 304.0 598.0 316.4Z M598.0 314.5 592.0 313.1 589.3 310.0 584.3 292.0 587.9 280.0 592.0 274.9 598.0 273.5 604.0 280.0 607.8 292.0 606.1 304.0 598.0 314.5Z M598.0 312.4 592.0 310.8 587.6 304.0 585.9 292.0 589.8 280.0 598.0 275.6 604.0 283.5 606.4 292.0 604.3 304.0 598.0 312.4Z M598.0 310.0 592.0 308.1 589.3 304.0 587.3 292.0 591.9 280.0 598.0 278.0 604.7 292.0 602.5 304.0 598.0 310.0Z M598.0 307.3 591.3 304.0 588.9 292.0 592.0 283.0 598.0 280.7 603.0 292.0 602.7 298.0 598.0 307.3Z M598.0 304.2 592.0 300.5 590.7 292.0 592.0 287.4 598.0 283.9 601.2 292.0 598.0 304.2Z M598.0 299.4 594.6 292.0 598.0 288.9 598.0 299.4Z"/>
<path stroke="#1fdc1f" stroke-width="0.65" d="M592.0 311.0 583.2 304.0 578.8 286.0 584.5 268.0 592.0 263.0 598.0 264.5 601.3 268.0 607.2 286.0 602.8 304.0 598.0 309.4 592.0 311.0Z M598.0 307.0 592.0 308.7 586.0 305.1 580.7 292.0 582.9 274.0 592.0 265.3 598.9 268.0 605.1 280.0 604.0 297.6 598.0 307.0Z M598.0 304.1 592.0 306.1 588.6 304.0 582.2 292.0 584.8 274.0 592.0 267.9 598.0 269.9 603.4 280.0 603.8 292.0 598.0 304.1Z M598.0 300.8 592.0 303.2 586.0 298.1 583.9 292.0 584.4 280.0 592.0 270.8 598.0 273.1 601.5 280.0 602.0 292.0 598.0 300.8Z M592.0 299.9 586.0 292.1 585.4 286.0 586.8 280.0 592.0 274.1 598.0 277.4 600.4 286.0 598.0 296.6 592.0 299.9Z M592.0 295.4 588.5 286.0 592.0 278.5 598.1 286.0 596.5 292.0 592.0 295.4Z"/>
<path stroke="#9933ff" stroke-width="0.65" d="M598.0 305.8 592.0 306.8 588.7 304.0 583.1 292.0 583.4 280.0 586.0 273.3 592.0 267.2 598.0 268.3 604.4 280.0 604.8 292.0 598.0 305.8Z M592.0 304.8 586.1 298.0 583.8 286.0 586.0 276.5 592.0 269.2 598.0 270.4 600.7 274.0 603.9 286.0 601.8 298.0 598.0 303.6 592.0 304.8Z M598.0 301.2 592.0 302.6 585.6 292.0 586.1 280.0 592.0 271.4 598.0 272.8 601.8 280.0 602.3 292.0 598.0 301.2Z M598.0 298.5 592.0 300.1 587.2 292.0 587.9 280.0 592.0 273.9 598.0 275.6 600.3 280.0 600.9 292.0 598.0 298.5Z M598.0 294.7 592.0 297.1 589.1 292.0 588.4 286.0 592.0 276.9 598.5 280.0 599.8 286.0 598.0 294.7Z M592.0 293.2 590.4 286.0 592.0 280.9 598.0 286.0 592.0 293.2Z"/>
<path stroke="#2a2aff" stroke-width="0.65" d="M598.0 304.0 592.0 304.0 586.4 292.0 586.8 280.0 592.0 270.0 598.0 270.0 603.2 280.0 603.6 292.0 598.0 304.0Z M598.0 301.1 592.0 301.1 587.9 292.0 588.4 280.0 592.0 272.9 598.0 272.9 601.6 280.0 602.1 292.0 598.0 301.1Z M598.0 297.6 592.0 297.6 589.7 292.0 592.0 276.5 598.0 276.5 599.7 280.0 600.3 292.0 598.0 297.6Z M598.0 292.6 592.0 292.6 592.0 281.8 598.0 281.8 598.0 292.6Z"/>
<path d="M553 100.5L543.5 100.5L547.5 112M551 102.5L545.5 102.5L548 109" stroke="#5a3cff" stroke-width="0.65"/><ellipse cx="593" cy="287" rx="5.5" ry="11.5" fill="#fff"/></g>
<rect x="58.9" y="31" width="300.2" height="277" fill="none" stroke="#000" stroke-width="1.8"/>
<rect x="396.15" y="42.9" width="309.3" height="262.85" fill="none" stroke="#000" stroke-width="2.1"/>
<path d="M54.8 55.0H58.0M53.5 91.0H58.0M54.8 127.0H58.0M54.8 163.0H58.0M54.8 199.0H58.0M53.5 235.0H58.0M54.8 271.0H58.0M54.8 306.0H58.0M76.4 308.8V312.8M112.6 308.8V311.6M148.6 308.8V311.6M184.5 308.8V311.6M219.8 308.8V312.8M255.6 308.8V311.6M291.4 308.8V311.6M326.8 308.8V311.6" stroke="#111" stroke-width="1.1" fill="none"/>
<path d="M390.7 66.4H395.2M392.0 100.9H395.2M392.0 135.4H395.2M392.0 169.9H395.2M390.7 204.4H395.2M392.0 238.9H395.2M392.0 273.4H395.2M421.8 306.7V310.7M459.2 306.7V309.5M496.8 306.7V309.5M534.6 306.7V309.5M572.2 306.7V310.7M609.6 306.7V309.5M646.8 306.7V309.5M684.3 306.7V309.5" stroke="#111" stroke-width="1.1" fill="none"/>
<g class="s" font-size="15.5" letter-spacing="1" fill="#111" text-anchor="end">
<text x="53" y="96.8">124</text>
<text x="53" y="240">126</text>
<text x="390" y="71.7">124</text>
<text x="390.5" y="210">126</text>
</g>
<g class="s" font-size="15.5" letter-spacing="1" fill="#111" text-anchor="middle">
<text x="76.3" y="326.5">9.0</text>
<text x="219.5" y="326.2">8.8</text>
<text x="422.4" y="323.6">9.0</text>
<text x="572" y="323.3">8.8</text>
</g>
<g class="s" font-size="22" fill="#000">
<text x="71" y="20"><tspan font-weight="bold">A</tspan>: wild type</text>
<text x="415.8" y="19.7"><tspan font-weight="bold">B</tspan>: E61Q</text>
</g>
<g class="s" font-size="22.5" font-weight="bold" fill="#000">
<text x="119.5" y="155">Asn20</text>
<text x="477" y="173.8">Asn20</text>
</g>
<g class="f" font-size="22" fill="#000" stroke="#000" stroke-width="0.55">
<text x="168" y="352"><tspan font-size="13" dy="-7">1</tspan><tspan dy="7">H (ppm)</tspan></text>
<text x="509" y="348.1"><tspan font-size="13" dy="-7">1</tspan><tspan dy="7">H (ppm)</tspan></text>
<text transform="translate(19,214) rotate(-90)"><tspan font-size="13" dy="-7">15</tspan><tspan dy="7">N (ppm)</tspan></text>
</g>
<g stroke="#000" fill="none" stroke-width="5.5">
<path d="M299 126L183 279"/>
<path d="M182.3 268.6L180.6 282.6L194 276.9" stroke-linejoin="miter" stroke-linecap="round" stroke-width="4.3"/>
<path d="M632.0 132.0L546.8 256.6" stroke-dasharray="13 4.25"/>
<path d="M544.2 260.3L540.5 269.5"/>
<path d="M540.6 256.6L539.6 270.6L552.6 264.7" stroke-linejoin="miter" stroke-linecap="round" stroke-width="4.3"/>
</g>
</svg>
</body></html>
